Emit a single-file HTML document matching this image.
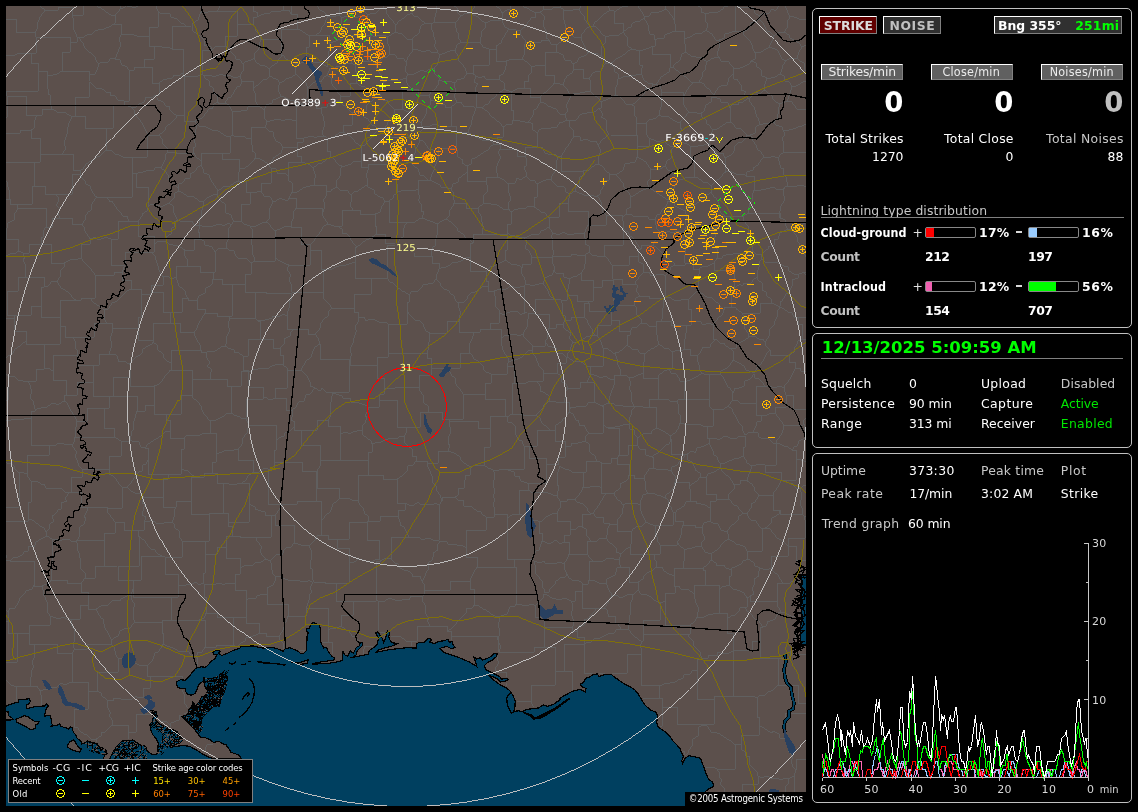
<!DOCTYPE html>
<html lang="en"><head><meta charset="utf-8"><title>Lightning Detector</title>
<style>
html,body{margin:0;padding:0;background:#000;}
body{width:1138px;height:812px;overflow:hidden;position:relative;font-family:"DejaVu Sans","Liberation Sans",sans-serif;}
.map{position:absolute;left:6px;top:6px;display:block}
.t{position:absolute;white-space:nowrap;line-height:1}
.b{font-weight:700}
.c{font-family:"DejaVu Sans Condensed","Liberation Sans",sans-serif}
.n{font-family:"DejaVu Sans","Liberation Sans",sans-serif}
.p{display:inline-block;width:0;height:0}
.box{position:absolute;border:1px solid #c0c0c0;border-radius:5px;background:#000}
.btn{position:absolute;border:1px solid;border-color:#fff #808080 #808080 #fff;}
.rule{position:absolute;height:1px;background:#808080}
.dash{position:absolute;width:6px;height:2px;background:#d8d8d8}
.bar{position:absolute;width:49px;height:9px;border:1px solid #888;border-radius:2px;background:#000}
.bar i{display:block;height:9px}
.legend{position:absolute;left:8px;top:759px;width:243px;height:42px;border:1px solid #808080;background:#000}
.lsym{position:absolute;left:9px;top:759px}
.copy{position:absolute;left:685px;top:792px;width:121px;height:14px;background:#000}
.chart{position:absolute;left:815px;top:540px}
</style></head>
<body>
<svg class="map" width="800" height="800" viewBox="6 6 800 800" shape-rendering="crispEdges">
<rect x="6" y="6" width="800" height="800" fill="#5c504c"/>
<path d="M742,794 L756,794 L756,806 M742,794 L742,784 L758,784 L758,776 M779,806 L779,805 L780,802 L782,797 L784,796 L786,791 L785,787 L789,783 L788,779 M758,776 L761,778 L768,776 L770,778 L775,778 L782,780 L784,778 L788,779 M806,806 L794,806 L794,776 M806,759 L796,759 L796,770 M796,770 L794,776 M794,776 L788,779 M785,738 L788,743 L788,747 L788,751 L790,753 L793,757 L791,761 L793,767 L796,770 M785,738 L780,738 L779,734 L773,731 L772,733 L768,731 L762,727 L759,726 M758,776 L757,772 L754,769 L751,766 L749,763 L750,756 L746,756 L745,752 L741,749 L741,744 M759,726 L759,735 L741,735 L741,744 M123,157 L147,157 L147,133 M123,157 L132,157 L132,173 M132,173 L136,174 M136,174 L140,172 L143,172 L149,170 L153,171 L156,167 L161,168 M159,135 L147,135 L147,133 M159,135 L162,139 L163,144 L167,148 L168,152 M168,152 L165,155 L165,160 L163,164 L161,168 M742,794 L725,794 L725,793 M710,806 L713,804 L715,801 L719,800 L722,795 L725,793 M735,745 L735,744 L741,744 M735,745 L735,769 L717,769 M725,793 L724,788 L720,784 L722,780 L719,777 L720,774 L717,769 M735,745 L732,742 L729,740 L724,737 L720,734 L717,733 L711,732 L708,727 L705,725 L702,725 M685,756 L688,753 L689,750 L692,746 L692,741 L693,739 L698,736 L698,733 L699,727 L702,725 M717,769 L712,767 L707,767 L705,767 M430,626 L427,620 L429,619 L426,614 L425,609 L425,605 L422,600 L422,597 M430,626 L417,626 L417,641 L411,641 M411,641 L406,641 L401,637 L399,636 L394,637 L391,636 M385,633 L384,632 M422,597 L416,596 L411,596 L409,600 L406,599 L402,600 L397,601 L390,598 L386,600 L383,602 L378,601 M384,632 L380,632 M378,630 L378,601 M440,541 L446,541 L449,545 L455,544 L458,546 L462,545 L466,548 M440,541 L437,546 L438,550 L433,553 L433,557 L432,560 L428,563 L429,568 L427,571 L424,578 L422,581 M422,581 L425,586 L424,590 M424,590 L450,590 L450,581 L470,581 M466,548 L466,557 L477,557 L477,567 M477,567 L474,572 L471,578 L470,581 M422,597 L424,594 L424,590 M391,559 L385,558 L381,561 M391,559 L395,563 L398,564 L400,568 L404,570 L407,570 L412,574 L413,577 L420,576 L422,581 M381,561 L376,561 L376,599 M378,601 L376,599 M757,698 L757,717 L759,717 L759,726 M757,698 L753,696 M702,724 L714,724 L714,699 M753,696 L714,696 L714,699 M659,698 L659,685 L662,685 M659,698 L662,698 L662,707 M662,707 L677,707 L677,724 L702,724 M714,699 L697,699 L697,670 M662,685 L664,684 L670,683 L675,682 L678,680 L683,678 L684,675 L690,674 L693,670 L697,670 M733,651 L729,653 L723,654 L718,652 L717,656 L709,655 L708,658 L702,659 M733,651 L733,696 L753,696 M697,670 L697,659 L702,659 M430,626 L447,626 L447,631 M470,581 L470,589 L474,589 L474,605 M447,631 L451,629 L454,626 L458,621 L459,620 L462,617 L466,613 L466,609 L472,608 L474,605 M504,567 L516,567 L516,604 M504,567 L504,567 L477,567 M516,604 L515,606 L510,607 L507,614 L501,616 L499,617 M474,605 L479,606 L484,610 L485,609 L491,614 L495,616 L499,617 M81,258 L78,259 L72,259 L68,261 L64,263 M81,258 L81,244 L90,244 L90,239 M64,263 L51,263 L51,244 L41,244 M60,218 L72,218 L72,224 L82,224 M60,218 L52,218 L52,227 L46,227 M46,227 L43,231 L44,236 L41,238 L41,244 M90,239 L87,234 L84,230 L84,227 L82,224 M106,150 L106,128 L101,128 M106,150 L102,154 L100,156 L97,157 L95,159 L89,162 L86,164 L83,169 L81,170 M72,117 L69,123 L68,127 L67,129 L67,134 L66,137 L64,143 L65,146 L65,150 L62,154 M72,117 L75,116 M75,116 L85,116 L85,128 L101,128 M62,154 L73,154 L73,170 L81,170 M60,218 L58,213 L60,209 L56,205 L58,202 L58,197 L56,194 M82,224 L85,220 L85,217 L88,212 L91,210 L92,204 L95,199 L97,197 M97,197 L95,196 L92,191 L90,186 L86,184 L85,181 L82,178 L80,174 M56,194 L72,194 L72,174 L80,174 M123,157 L117,154 L116,155 L112,151 L106,150 M132,173 L132,197 L107,197 M97,197 L102,197 L107,197 M80,174 L81,170 M168,152 L176,152 L176,153 L194,153 M161,168 L165,171 L168,175 L168,178 L170,182 L175,185 L178,188 M194,153 L196,157 L201,161 M201,161 L201,165 M201,165 L198,167 L194,172 L190,174 L190,178 L186,178 L182,183 L179,184 L178,188 M136,174 L136,187 L148,187 L148,207 M169,203 L163,206 L160,206 L155,205 L151,204 L148,207 M169,203 L174,198 L174,194 L178,191 M178,191 L178,188 M33,728 L34,726 M6,558 L6,556 L6,555 M684,755 L684,751 L682,751 M662,707 L662,726 L660,726 M439,540 L439,527 L439,527 L439,505 M439,540 L435,541 L429,538 L426,538 L423,540 L418,537 L413,537 L409,537 M439,505 L435,503 L432,505 L426,504 L420,504 L418,502 L414,505 L409,505 L405,503 M409,537 L407,533 L404,527 L400,525 L400,522 L398,516 M405,503 L405,510 L398,510 L398,516 M391,559 L391,537 L409,537 M485,389 L485,399 L505,399 L505,416 M485,389 L485,394 L463,394 M505,416 L490,416 L490,428 M449,419 L463,419 L463,394 M449,419 L450,421 M490,428 L478,428 L478,421 L450,421 M367,522 L367,540 L379,540 L379,559 M367,522 L349,522 L349,539 L337,539 M379,559 L376,559 L372,562 L366,561 L363,560 L359,559 L354,562 L349,562 M337,539 L337,548 L349,548 L349,562 M381,561 L379,559 M368,521 L380,521 L380,516 L398,516 M368,521 L367,522 M384,632 L384,638 M373,646 L365,646 M360,641 L358,640 L354,636 L352,636 L349,631 L346,630 L341,626 M376,599 L376,601 L353,601 M353,601 L353,615 L341,615 L341,626 M349,562 L349,583 L336,583 M353,601 L336,601 L336,583 M486,517 L483,515 L481,512 L477,511 L474,509 L471,506 L464,506 L463,500 L458,500 L455,497 M486,517 L494,517 L494,514 M494,514 L495,509 L493,505 L495,499 L493,496 L494,494 L494,488 L493,485 L494,480 L495,473 L493,470 M455,497 L458,495 L458,489 L464,488 L465,480 L465,476 L470,475 L470,469 L473,466 M473,466 L473,465 L484,465 M493,470 L488,468 L484,465 M442,501 L439,505 M442,501 L442,497 L455,497 M466,548 L466,530 L486,530 L486,517 M504,567 L514,567 L514,559 M514,559 L507,559 L507,518 M507,518 L507,514 L494,514 M427,463 L427,465 L429,469 L432,476 L432,479 L433,483 L437,487 L436,489 L439,494 L440,495 L442,501 M427,463 L438,463 L438,451 L448,451 M448,451 L451,452 L456,454 L460,457 L461,460 L464,463 L469,466 L473,466 M490,428 L490,447 L484,447 L484,465 M448,451 L450,445 L448,444 L448,437 L450,434 L451,429 L449,425 L450,421 M505,416 L507,417 M505,469 L499,470 L493,470 M505,469 L524,469 L524,446 M507,417 L508,422 L512,423 L515,426 L515,433 L516,435 L519,440 L522,441 L524,446 M516,604 L519,604 L525,606 L532,604 L535,606 M535,606 L535,617 L544,617 L544,625 M499,617 L499,622 L498,627 L500,629 L499,636 L497,638 L500,645 L501,646 L499,652 M544,625 L544,647 L534,647 M499,652 L534,652 L534,647 M544,625 L544,627 L572,627 M556,671 L564,671 L564,644 L584,644 M584,644 L584,637 L577,637 L577,631 M577,631 L572,631 L572,627 M534,647 L555,647 L555,671 M659,698 L643,698 M662,685 L641,685 L641,654 M612,673 L627,673 L627,654 L641,654 M605,673 L599,673 M593,673 L584,673 L584,644 M556,671 L572,671 L572,690 M684,39 L684,31 L675,31 M684,39 L690,37 L693,35 L695,34 L702,33 L706,30 M675,31 L675,24 L674,20 M706,30 L708,25 L705,20 L706,14 M706,14 L701,12 L701,8 L698,6 M674,6 L674,20 M644,16 L644,18 M644,16 L649,16 L652,12 L656,13 L662,11 L665,9 M675,31 L672,32 L665,35 L664,38 L658,38 L655,40 M644,18 L647,23 L649,26 L648,28 L650,34 L654,35 L655,40 M665,9 L668,11 L672,16 L674,20 M623,32 L628,28 L631,27 L632,24 L636,21 L640,21 L644,18 M623,32 L627,37 L627,40 L628,46 L632,49 M655,40 L655,46 L652,46 M652,46 L649,48 L643,50 L639,51 M632,49 L639,51 M496,6 L497,7 L500,9 L502,13 M511,6 L510,9 L507,10 L502,13 M560,6 L561,8 M543,6 L543,10 M543,10 L549,9 L552,9 L554,7 L561,8 M536,13 L532,11 L527,8 L524,7 L523,6 M536,13 L540,12 M540,12 L543,10 M806,272 L804,272 M806,275 L804,272 M717,258 L722,258 L723,256 L729,254 L733,254 L738,253 L740,254 L745,253 L748,253 L753,251 M717,258 L718,253 L717,249 L714,244 L714,239 L716,235 L714,230 M714,230 L716,228 L720,222 L723,217 L725,216 M725,216 L733,216 L733,216 L744,216 M753,251 L752,245 L752,243 L751,240 L748,233 L749,229 L748,226 L743,220 L744,216 M169,203 L173,206 L173,211 L176,217 L178,220 M178,220 L181,222 L185,221 L192,221 L194,225 L200,225 M178,191 L181,192 L187,196 L192,196 L197,199 L199,201 L203,202 M200,225 L199,219 L201,217 L201,212 L203,207 L203,202 M201,165 L203,169 L204,173 L209,175 L210,178 L214,185 L215,186 L218,191 M218,191 L217,194 M203,202 L207,198 L213,195 L217,194 M427,463 L427,461 L416,461 M405,503 L397,503 L397,479 M416,461 L413,465 L408,466 L407,471 L403,475 L400,477 L397,479 M154,405 L154,414 L166,414 M154,405 L154,386 L154,386 M166,414 L181,414 L181,395 L192,395 M192,395 L192,393 M192,393 L192,370 L170,370 M170,370 L169,372 L165,376 L162,381 L159,384 L154,386 M6,318 L14,318 M6,358 L8,356 L13,353 L15,349 L20,346 L23,343 L26,341 M14,318 L14,331 L26,331 L26,341 M306,608 L308,603 L309,600 L309,595 L312,592 L310,587 L313,583 M306,608 L328,608 L328,630 M328,630 L330,629 L336,628 L341,626 M336,583 L325,583 L325,582 L314,582 M6,255 L8,255 L12,253 L15,254 L18,251 M6,231 L6,239 L18,239 L18,251 M18,208 L17,210 L14,215 L14,220 L8,223 L7,228 L6,231 M18,208 L46,208 L46,227 M23,253 L18,251 M23,253 L29,253 L29,244 L41,244 M16,701 L16,687 M40,691 L37,686 L31,686 M40,691 L41,695 L41,702 L41,704 L41,705 M16,687 L21,686 L24,687 L31,686 M16,687 L11,685 L7,681 L6,680 M150,714 L150,712 M150,709 L150,697 L143,697 M158,719 L158,719 L161,721 L166,721 L170,725 M143,697 L143,688 L150,688 L150,676 M187,712 L184,714 M182,715 L179,715 L179,720 L171,723 L170,725 M188,708 L185,704 L184,697 L184,694 L182,690 M150,676 L182,676 L182,678 M46,532 L44,528 L40,526 L35,522 L34,521 L29,519 L28,516 M46,532 L49,529 L50,524 L54,521 L52,516 L55,514 L59,509 L61,509 L61,503 L67,501 L65,498 L69,493 M28,516 L28,502 L31,502 L31,481 M69,493 L65,492 L61,488 L56,489 L53,488 L46,488 L44,484 L41,484 L37,481 L31,481 M411,641 L412,646 M365,646 L363,651 L363,653 L363,654 M303,652 L303,650 L299,650 M332,654 L332,642 L322,642 M305,650 L299,650 M328,630 L328,642 L322,642 M785,738 L785,713 L806,713 M757,698 L759,696 L765,695 L768,692 L771,691 L774,689 L778,685 M778,685 L798,685 L798,703 L806,703 M806,485 L803,486 L800,488 M806,516 L804,516 M804,516 L802,514 M802,514 L803,509 L801,506 L800,501 L802,498 L801,492 L800,488 M762,529 L760,527 L756,521 L751,520 L749,518 L747,513 M762,529 L765,528 M765,528 L768,526 L771,523 L772,518 L779,514 L780,510 M747,513 L751,508 L751,504 L755,502 L758,497 L759,495 M759,495 L773,495 L773,493 M780,510 L773,510 L773,493 M727,619 L727,633 L733,633 L733,650 M727,619 L731,616 L735,615 L739,611 L740,608 L745,607 M745,607 L747,611 L750,613 L755,619 L758,620 L761,624 L763,627 M733,650 L752,650 L752,641 L760,641 M760,641 L760,627 L763,627 M778,685 L778,658 L784,658 M760,641 L760,658 L784,658 M806,654 L790,654 M784,658 L790,658 L790,654 M653,525 L673,525 L673,512 M653,525 L650,524 L646,522 M646,522 L643,516 L642,514 L641,511 L640,505 M673,512 L671,507 L668,505 L668,500 L665,498 M665,498 L661,496 L657,495 L653,493 L648,493 M640,505 L641,500 L643,495 L648,493 M623,505 L627,503 L630,503 L635,503 L640,505 M623,505 L623,508 L622,514 L618,519 L617,521 M632,531 L617,531 L617,521 M632,531 L633,529 L638,526 L642,526 L646,522 M485,389 L485,383 L491,383 L491,374 M463,394 L460,389 L458,387 L455,383 L455,378 L452,376 L449,370 L447,368 M447,368 L460,368 L460,353 L470,353 M491,374 L486,372 L483,369 L483,366 L478,361 L474,359 L472,355 L470,353 M459,321 L447,321 L447,333 L430,333 M459,321 L459,332 L474,332 M430,333 L429,337 L429,342 L428,344 L428,350 L427,354 L427,358 M447,368 L431,368 L431,365 M427,358 L431,358 L431,365 M470,353 L469,350 L470,343 L471,341 L473,336 L474,332 M806,317 L798,317 M799,274 L798,278 L792,280 L792,286 L791,288 L789,292 L786,294 L782,301 L780,302 L780,306 M799,274 L804,272 M798,317 L794,317 L792,313 L788,312 L782,308 L780,307 M806,461 L804,461 L801,460 L796,459 M800,488 L796,488 L792,483 L789,483 L783,480 M796,459 L796,480 L783,480 M802,514 L780,514 L780,510 M773,493 L776,490 L780,483 L781,481 M781,481 L783,480 M798,317 L798,324 L802,324 L802,339 M802,339 L806,339 M675,482 L675,476 L671,471 M675,482 L674,487 L671,491 L666,495 L665,498 M671,471 L665,469 L661,469 L658,470 L653,468 M648,493 L646,490 L645,481 L644,478 M644,478 L645,475 L649,469 L653,468 M623,505 L621,502 L617,499 L614,494 M614,494 L615,492 L620,488 L620,484 L626,481 L628,479 L629,475 M644,478 L634,478 L634,475 L629,475 M671,439 L671,454 L685,454 M671,439 L669,444 L666,445 L661,450 L658,453 L654,455 L652,457 M685,454 L684,457 L680,461 L677,465 L672,467 L671,471 M652,457 L653,457 L653,468 M557,496 L558,491 L559,486 L557,485 L557,479 L557,475 L559,469 L559,466 M557,496 L553,495 L548,493 L543,492 L541,492 L539,493 L531,492 L528,490 M528,490 L528,483 L527,483 M527,483 L546,483 L546,464 M546,464 L549,465 L553,464 L558,465 M507,518 L512,515 L515,514 L519,514 M519,514 L519,490 L528,490 M505,469 L508,470 L514,472 L515,476 L519,476 L521,481 L527,483 M524,446 L529,446 M529,446 L529,458 L546,458 L546,464 M514,559 L514,559 L532,559 M519,514 L522,515 L526,519 L529,520 L536,520 L539,522 M532,559 L532,558 L536,551 L539,550 L541,544 L542,541 M539,522 L539,533 L542,533 L542,541 M560,501 L557,496 M560,501 L561,506 L559,509 L557,513 M539,522 L542,521 L546,517 L550,515 L552,514 L557,513 M688,634 L688,636 L694,642 L693,645 L697,649 L700,652 L700,653 L702,659 M688,634 L690,634 L690,625 M727,619 L727,613 L716,613 M716,613 L713,614 L708,615 L704,617 L697,617 M690,625 L695,621 L697,617 M716,613 L719,613 L719,590 M694,594 L695,599 L696,603 L698,607 L698,612 L697,617 M694,594 L694,585 L705,585 M705,585 L719,585 L719,590 M747,598 L750,596 M747,598 L744,593 L740,591 L737,590 L733,589 L729,585 M760,568 L758,574 L759,576 L754,579 L754,585 L752,588 L754,594 L750,596 M760,568 L755,566 L754,563 L748,559 M748,559 L743,561 L741,564 L737,566 L732,568 L731,570 M731,570 L731,576 L729,576 L729,585 M747,598 L747,607 L745,607 M729,585 L722,587 L719,590 M688,634 L643,634 L643,641 M641,654 L642,650 L640,645 L642,642 M643,641 L642,642 M660,545 L660,554 L654,554 M660,545 L657,540 L657,537 L655,532 L656,527 L653,525 M632,531 L631,535 L632,541 L630,547 M654,554 L630,554 L630,547 M606,538 L608,532 L607,530 L610,524 M606,538 L610,543 L612,544 L616,548 L616,552 L621,554 M617,521 L617,524 L610,524 M630,547 L626,549 L621,554 M535,606 L538,603 L543,598 L544,594 M572,627 L574,624 L573,619 L571,613 L572,611 L572,603 L571,601 M571,601 L565,598 L562,599 L556,599 L552,598 L547,595 L544,594 M564,564 L560,562 L557,563 L553,564 L545,563 L544,561 L540,563 L534,561 M564,564 L565,570 L567,574 M534,561 L535,565 L535,569 L536,574 L538,576 L542,581 L542,587 L544,589 L544,593 M567,574 L565,577 L560,578 L555,582 L555,584 L550,589 L549,592 L544,593 M532,559 L534,561 M577,631 L579,626 L584,625 L584,620 L589,618 L590,616 L594,612 L597,608 M571,601 L575,601 L575,591 L582,591 M597,608 L582,608 L582,591 M567,574 L569,578 L574,581 L578,580 L583,584 M583,584 L582,591 M531,702 L531,685 L555,685 L555,671 M531,702 L533,706 L534,707 M733,74 L734,68 M733,74 L734,79 L737,79 L741,85 L741,90 L746,92 L744,94 L748,98 M750,98 L748,98 M750,98 L753,94 L755,92 L760,94 L764,90 M751,61 L749,64 L743,67 L737,69 L734,68 M751,61 L756,63 L756,66 L761,70 L762,76 L767,78 M764,90 L764,88 L765,84 L767,78 M750,98 L749,101 L754,107 L755,110 L757,117 L758,118 L760,124 M760,124 L763,124 L769,123 L774,122 M764,90 L767,92 L772,96 L772,98 L776,102 L780,104 M780,104 L779,107 L778,114 L777,119 L774,122 M711,192 L709,194 L702,198 L699,202 L697,203 L693,206 L688,207 L685,211 M711,192 L714,197 L716,198 L719,204 L719,209 L721,213 L725,216 M714,230 L709,228 L706,231 L702,230 L697,227 L692,226 L687,226 M685,211 L687,216 L685,223 L687,226 M806,19 L802,19 L799,19 L792,16 L790,17 M806,45 L802,47 M802,47 L800,44 L796,41 L790,38 L789,35 L784,32 M784,32 L787,28 L787,22 L790,17 M790,17 L789,15 L786,8 L785,6 M454,6 L457,8 L458,13 L461,16 M437,6 L436,10 L436,13 L435,17 L434,22 M434,22 L456,22 L456,22 M461,16 L456,22 M470,13 L474,8 L475,6 M470,13 L464,14 L461,16 M412,13 L414,16 L417,16 L421,20 L425,23 M412,13 L412,9 L412,6 M434,22 L431,24 M431,24 L425,23 M536,13 L535,18 L532,17 L528,22 L526,26 L523,28 L520,31 M540,12 L544,16 L544,20 L543,24 L545,29 L547,32 L546,38 L549,40 M549,40 L541,40 L541,42 L526,42 M520,31 L520,34 L525,40 L526,42 M385,202 L382,206 L380,212 L375,214 M385,202 L383,198 L380,197 L375,194 L374,190 L368,187 L367,185 M375,214 L360,214 L360,210 L353,210 M367,185 L362,188 L358,191 L355,191 L351,195 M351,195 L352,199 L350,205 L353,210 M337,226 L342,229 L342,233 L346,233 L350,237 L351,240 L355,245 L357,247 M337,226 L342,226 L342,210 L353,210 M357,247 L362,243 L366,240 L369,239 L371,238 L376,234 M376,234 L376,226 L375,226 L375,214 M368,167 L368,170 L366,175 L368,181 L367,185 M368,167 L361,167 L361,162 M337,187 L336,181 L339,178 L341,174 L340,169 L342,166 M337,187 L340,190 L347,190 L351,195 M361,162 L354,161 L351,164 L345,166 L342,166 M407,310 L407,324 L388,324 M407,310 L409,314 L413,318 L415,320 L420,321 L423,324 L425,329 L426,331 L430,333 M427,358 L427,353 L388,353 M388,324 L388,324 L388,353 M337,187 L331,190 L331,191 L326,192 M337,226 L334,226 L327,224 M326,192 L327,195 L323,200 L325,204 L324,209 L322,214 M327,224 L327,222 L324,218 L322,214 M238,181 L246,181 L246,192 L250,192 M238,181 L238,172 L239,172 M239,172 L240,168 L245,168 L249,165 L253,161 L255,158 M250,192 L257,192 L261,191 M261,191 L261,183 L271,183 L271,168 M255,158 L260,159 L264,161 L269,165 M271,168 L269,165 M218,191 L223,187 L225,186 L230,186 L234,183 L238,181 M234,221 L232,218 L231,215 L226,213 L225,206 L225,204 L221,201 L217,195 L217,194 M234,221 L234,221 L241,221 M241,221 L241,204 L250,204 L250,192 M222,153 L201,153 L201,161 M222,153 L222,159 L239,159 L239,172 M288,176 L288,180 L292,183 L293,189 L292,192 M288,176 L288,162 L301,162 M292,192 L294,193 L299,191 L303,188 L306,187 L313,185 L315,185 M315,185 L314,179 L316,177 L314,171 L313,168 M301,162 L305,163 L310,165 L313,168 M289,198 L292,192 M289,198 L287,201 L280,198 L276,201 L273,201 M273,201 L270,197 L264,196 L261,191 M271,168 L276,169 L278,174 L285,173 L288,176 M326,192 L326,185 L315,185 M289,198 L296,198 L296,208 M322,214 L322,208 L296,208 M342,166 L339,165 L333,158 L330,157 M330,157 L327,159 L322,163 L319,163 L317,165 L313,168 M241,221 L244,224 L250,226 M273,201 L272,204 L269,210 L269,213 L269,219 L266,222 M250,226 L254,227 L260,224 L264,222 L266,222 M449,419 L442,419 L442,412 L428,412 M431,365 L431,375 L419,375 L419,387 M428,412 L428,406 L424,403 L423,400 L424,397 L419,389 L419,387 M407,310 L407,302 L409,302 L409,295 M409,295 L405,292 L402,291 L396,286 L392,282 L390,282 L387,278 M387,278 L381,278 L381,278 L371,278 M371,278 L371,294 L354,294 L354,312 M388,324 L385,322 L381,323 L375,320 L369,319 L366,321 L364,317 L358,317 M354,312 L358,312 L358,317 M275,515 L275,525 L294,525 L294,543 M275,515 L279,510 L281,506 L284,504 M284,504 L297,504 L297,501 M297,501 L321,501 L321,521 M294,543 L301,545 L303,545 L309,546 M309,546 L311,544 L315,540 L317,536 L322,535 M322,535 L321,535 L321,521 M337,539 L328,539 L328,535 L322,535 M314,582 L312,578 L312,573 L312,569 L310,568 L310,563 L311,560 L312,554 L311,550 L309,546 M17,204 L10,204 L10,199 M17,204 L32,204 L32,186 L39,186 M10,199 L9,194 L10,192 L8,187 L7,182 L6,181 M39,186 L34,186 L34,162 M34,162 L6,162 M18,208 L17,204 M6,199 L10,199 M56,194 L45,194 L45,186 L39,186 M62,154 L40,154 L40,155 M40,155 L40,162 L34,162 M72,117 L69,115 L64,112 L59,113 L54,110 L51,109 M40,155 L40,138 L31,138 L31,130 M31,130 L34,128 L34,123 L36,117 L38,115 M51,109 L42,109 L42,115 L38,115 M93,382 L77,382 L77,395 L66,395 M93,382 L93,365 L92,365 M92,365 L77,365 L77,355 M77,355 L53,355 L53,371 M53,371 L53,380 L66,380 L66,395 M73,337 L94,337 L94,323 L107,323 M73,337 L75,341 L75,347 L77,350 L77,355 M109,354 L99,354 L99,365 L92,365 M109,354 L111,348 L112,344 L111,341 L110,338 L112,333 L112,328 M112,328 L112,323 L107,323 M73,337 L65,337 L65,326 L60,326 M60,326 L60,344 L36,344 M36,344 L44,344 L44,369 M44,369 L48,368 L53,371 M170,370 L171,370 L171,363 M154,386 L130,386 L130,377 M130,377 L130,364 L129,364 M129,364 L131,362 L136,357 L140,355 L142,353 L143,349 L146,347 L152,344 L153,342 M171,363 L167,361 L163,357 L163,354 L158,350 L157,345 L153,342 M7,291 L18,291 L18,277 L26,277 M7,291 L7,315 L15,315 M15,315 L31,315 L31,306 L41,306 M26,277 L44,277 L44,287 M44,287 L41,287 L41,306 M23,253 L25,258 L23,259 L25,264 L25,268 L25,272 L26,277 M14,318 L15,315 M60,326 L60,317 L41,317 L41,306 M36,344 L26,344 L26,341 M57,281 L60,277 L61,270 L64,267 L64,263 M57,281 L52,281 L48,286 L44,287 M57,281 L58,283 L61,288 L68,292 L69,293 L74,299 L76,300 M76,300 L60,300 L60,326 M154,405 L145,405 L145,411 L137,411 M166,414 L166,420 L170,420 L170,431 M170,431 L165,432 L163,434 L158,438 L154,440 L151,442 L147,445 L145,448 M145,448 L141,447 L139,442 L132,441 L130,440 M130,440 L131,436 L131,433 L134,428 L133,423 L135,418 L135,417 L137,411 M130,377 L113,377 L113,396 M137,411 L137,396 L113,396 M109,354 L114,354 L117,356 L119,362 L124,361 L129,364 M93,382 L93,396 L109,396 M113,396 L109,396 M203,433 L200,435 L193,435 L187,435 L184,438 M203,433 L216,433 L216,453 M184,438 L184,449 L181,449 L181,469 M216,453 L216,462 L212,462 L212,473 M181,469 L184,470 L188,471 L192,475 L196,477 M196,477 L204,477 L204,473 L212,473 M210,421 L206,416 L204,414 L201,408 L201,406 L198,402 L193,398 L192,395 M210,421 L210,433 L203,433 M170,431 L170,438 L184,438 M168,474 L181,474 L181,469 M168,474 L148,474 L148,460 M148,460 L148,448 L145,448 M238,449 L238,460 L253,460 L253,472 M238,449 L234,450 L227,450 L224,451 L219,453 L216,453 M242,483 L246,480 L248,476 L253,472 M242,483 L237,484 L231,485 L229,484 L223,483 M223,483 L217,483 L217,473 L212,473 M168,474 L168,479 L163,479 L163,492 M163,492 L163,507 L176,507 M196,477 L191,477 L191,501 M191,501 L176,501 L176,507 M148,460 L146,464 L143,465 L142,471 L139,472 L134,478 L133,480 L129,485 L127,487 M163,492 L163,497 L144,497 M144,497 L141,494 L135,493 L131,491 L127,487 M88,507 L107,507 L107,508 M88,507 L87,511 L84,517 L86,518 L84,524 L80,527 L79,533 L79,537 L77,540 M77,540 L104,540 L104,542 M104,542 L104,533 L115,533 L115,522 M107,508 L108,513 L113,519 L115,522 M35,32 L37,29 L38,22 L40,17 L43,13 L45,10 M35,32 L16,32 L16,19 L6,19 M45,10 L42,8 L40,6 M6,55 L11,55 L15,55 L18,53 L23,54 L27,53 L31,53 M31,53 L36,53 L36,37 M36,37 L35,32 M200,225 L204,227 L209,226 L213,226 L219,224 L224,226 L228,223 L231,225 M200,225 L198,232 L200,233 L199,239 M199,239 L204,241 L205,245 L209,246 L212,247 L215,252 M231,225 L229,228 L228,236 L229,238 L227,242 L226,248 M226,248 L219,248 L215,252 M234,221 L231,225 M251,263 L247,259 L246,258 L238,258 L236,256 L234,251 L229,250 L226,248 M251,263 L254,261 M250,226 L252,229 L253,236 L251,240 L252,245 L253,247 L252,252 L254,257 L254,261 M245,280 L245,274 L251,274 L251,263 M245,280 L245,284 L232,284 M232,284 L222,284 L222,279 L213,279 M215,252 L215,272 L210,272 M210,272 L213,272 L213,279 M90,239 L95,237 L98,240 L104,238 L105,237 L111,239 M107,197 L110,202 L112,201 L116,207 L117,209 L119,211 L124,217 L127,216 L129,221 M111,239 L118,239 L118,221 L129,221 M148,207 L147,211 L142,214 L142,216 L138,221 M129,221 L138,221 L138,221 M122,272 L122,280 L131,280 L131,289 M122,272 L114,272 L114,275 L95,275 M131,289 L127,291 L123,295 L121,297 L117,301 L112,303 L112,303 L108,309 L104,310 M95,275 L95,298 L90,298 M90,298 L93,302 L97,305 L101,307 L104,310 M81,258 L85,263 L86,264 L90,268 L94,273 L95,275 M125,265 L111,265 L111,239 M125,265 L122,272 M76,300 L81,300 L81,298 L90,298 M107,323 L105,320 L104,316 L104,310 M166,242 L159,241 L154,244 M166,242 L169,244 L173,245 L176,245 L180,247 L185,250 M185,250 L184,255 L187,259 L187,264 L187,266 M154,244 L154,252 L151,252 M151,252 L155,256 L156,260 L158,266 L159,270 L161,273 L163,277 M187,266 L176,266 L176,277 M163,277 L167,276 L172,279 L176,277 M178,220 L174,222 L175,226 L171,229 L172,233 L166,237 L166,242 M138,221 L138,236 L154,236 L154,244 M199,239 L194,239 L194,250 L185,250 M210,272 L200,272 L200,266 L187,266 M125,265 L125,252 L151,252 M251,138 L251,144 L253,146 L252,151 L255,153 L255,158 M251,138 L251,127 L265,127 M269,165 L273,159 L273,158 L279,154 L281,153 L283,147 M265,127 L269,131 L273,132 L273,135 L276,141 L280,143 L283,147 M301,162 L301,156 L297,156 L297,147 M283,147 L288,147 L293,148 L297,147 M383,130 L387,125 L388,122 L392,116 L394,114 L395,110 M383,130 L390,130 L390,137 M395,110 L402,109 M422,126 L422,130 L418,135 M422,126 L421,123 M390,137 L409,137 L409,135 L418,135 M421,123 L417,119 L414,117 L411,112 L406,111 L402,109 M422,126 L424,127 L430,126 L434,124 L439,126 L443,127 L447,126 M447,126 L451,126 L451,107 M451,107 L445,107 L445,105 L441,104 L436,102 L431,100 M421,123 L422,121 L426,114 L426,112 L426,109 L430,105 L431,100 M378,130 L375,126 L372,125 L368,119 L364,117 L362,113 M378,130 L373,135 L372,137 L367,142 L365,145 L361,146 M361,146 L356,143 L354,140 L351,137 L348,135 L343,132 M343,132 L343,125 L352,125 L352,113 M362,113 L357,112 L352,113 M383,130 L378,130 M395,110 L393,108 L389,104 L387,100 L383,100 L380,94 L378,92 M377,93 L374,98 L374,99 L368,104 L367,105 L366,111 L362,113 M361,162 L362,157 L361,150 L361,146 M330,157 L330,151 L327,151 L327,138 M327,138 L330,138 L333,137 L341,132 L343,132 M356,83 L362,87 L364,86 L369,91 L371,92 L377,93 M356,83 L350,83 L350,96 L341,96 M341,96 L340,101 M340,101 L343,105 L345,106 L349,110 L352,113 M213,744 L213,744 L208,744 L205,748 L205,751 L203,752 M170,725 L170,727 M128,739 L128,732 M128,732 L136,732 L136,714 L150,714 M128,732 L128,725 L112,725 M143,697 L137,697 L136,696 L130,700 L127,699 L121,699 L119,698 L114,698 L113,701 L107,700 M112,725 L112,720 L109,715 L111,713 L109,710 L107,705 L107,700 M96,742 L96,739 M112,725 L109,728 L105,732 L101,733 L101,736 L96,739 M74,727 L78,728 L80,731 L84,734 L87,735 L91,739 L96,739 M118,658 L116,655 L114,647 L111,644 M118,658 L118,672 L97,672 L97,691 M111,644 L87,644 L87,649 L75,649 M72,682 L72,673 L72,673 L72,653 M72,682 L88,682 L88,692 M72,653 L75,649 M88,692 L93,691 L97,691 M147,666 L147,676 L150,676 M147,666 L143,665 L139,665 L134,663 L131,663 L127,660 L123,659 L118,658 M107,700 L102,696 L101,693 L97,691 M40,691 L45,689 L49,689 L53,687 L56,688 L61,683 L64,685 L69,683 L72,682 M31,686 L30,680 L31,677 L31,672 L33,668 L33,665 L32,662 L34,658 L35,653 L34,649 L34,644 M34,644 L57,644 L57,653 L72,653 M74,727 L74,709 L88,709 L88,692 M77,540 L76,541 M76,541 L78,544 L77,548 L79,553 L80,558 L80,561 L80,564 L81,569 L86,574 L85,578 M104,542 L104,566 L117,566 M117,566 L95,566 L95,578 L85,578 M34,644 L29,644 L29,637 M29,637 L29,633 L17,633 M6,662 L17,662 L17,633 M6,507 L19,507 L19,473 M19,473 L15,469 L14,466 L11,463 L7,463 L6,462 M6,521 L28,521 L28,516 M31,481 L28,477 L27,474 M19,473 L21,472 L27,474 M46,532 L47,536 M6,560 L10,561 M10,561 L14,557 L16,558 L22,555 L25,551 L28,551 L29,546 L34,547 L36,542 L39,540 L43,538 L47,536 M88,507 L81,507 L81,492 L71,492 M71,492 L69,493 M76,541 L72,542 L69,539 L64,539 L59,541 L57,539 L52,539 M47,536 L52,539 M765,528 L770,529 L773,533 L775,535 L777,538 L781,540 L785,543 L788,546 M804,516 L805,520 L805,525 M788,546 L788,538 L805,538 L805,525 M750,596 L750,601 L777,601 M763,627 L766,626 L768,621 L770,621 L775,619 L778,613 L781,612 M777,601 L777,605 L779,608 L781,612 M507,417 L512,414 M491,374 L507,374 L507,366 M507,366 L514,366 L514,383 L526,383 M512,414 L512,383 L526,383 M436,279 L441,284 L440,285 L444,289 L449,291 L451,294 L454,296 L456,301 L458,303 M436,279 L437,274 L439,269 M439,269 L442,267 L446,267 L450,265 L453,262 L456,263 L463,260 L467,257 L470,257 M458,303 L464,302 L467,299 L467,297 L471,293 L475,292 L478,290 L483,286 L488,286 M470,257 L470,271 L486,271 M488,286 L488,281 L486,281 L486,271 M409,295 L411,292 L418,291 L421,288 L423,285 L428,284 L433,283 L436,279 M459,321 L460,315 L461,313 L459,308 L458,303 M757,277 L754,279 L751,283 L744,283 L742,286 L740,284 L734,288 M757,277 L758,280 L762,283 L762,290 L766,292 L767,296 L771,299 L772,303 M772,303 L760,303 L760,313 L742,313 M734,288 L734,292 L731,296 L731,301 L731,307 M731,307 L736,308 L736,309 L742,313 M762,259 L759,262 L759,267 L757,272 L757,277 M762,259 L761,255 M714,263 L714,270 L734,270 L734,288 M714,263 L717,258 M761,255 L756,254 L753,251 M762,259 L765,262 L772,263 L775,262 L780,264 L784,266 L788,267 L789,271 L794,274 L799,274 M780,306 L778,306 L772,303 M780,307 L777,312 L778,316 L775,320 L775,321 L774,325 L770,329 L769,336 L768,338 L765,342 M789,355 L794,352 L794,349 L797,344 L798,341 L802,339 M789,355 L770,355 L770,350 M770,350 L766,346 L765,342 M742,313 L743,315 L745,319 L744,324 L745,329 L748,333 L749,337 M765,342 L763,339 L759,339 L754,336 L749,337 M714,263 L708,266 L703,266 L699,269 M724,310 L721,307 L719,304 L716,302 L712,298 L707,297 L705,296 L700,292 L698,290 M724,310 L724,307 L731,307 M699,269 L699,274 L698,277 L699,282 L698,286 L698,290 M669,369 L672,369 L672,352 M669,369 L671,373 L676,374 L679,378 L680,381 L684,382 M672,352 L677,350 L681,351 L684,349 M684,382 L690,380 L692,379 L696,377 L702,373 M702,373 L700,370 L699,365 L697,359 L698,355 M684,349 L690,349 L690,355 L698,355 M724,310 L722,315 L719,317 L715,322 L713,325 M749,337 L745,340 L743,341 L737,344 L736,348 L731,349 M731,349 L726,346 L724,343 L721,344 L716,339 M713,325 L713,339 L716,339 M643,373 L643,378 L653,378 M643,373 L643,362 L644,362 L644,354 M653,378 L658,378 L659,375 L664,371 L669,369 M672,352 L668,348 L664,348 L659,344 M659,344 L654,348 L652,348 L646,353 L644,354 M671,439 L670,436 M685,454 L687,454 M709,443 L706,445 L701,447 L697,448 L695,453 L692,451 L687,454 M709,443 L710,438 M710,438 L707,438 L707,426 M670,436 L675,433 L678,429 L680,423 M707,426 L703,426 L698,424 L692,425 L688,424 L684,424 L680,423 M658,399 L662,399 L667,399 L672,402 L677,401 M658,399 L649,399 L649,407 M649,407 L656,407 L656,428 M670,436 L665,432 L661,430 L656,428 M680,423 L681,417 L680,415 L678,412 L679,407 L677,401 M653,378 L658,378 L658,399 M684,382 L684,399 L679,399 M679,399 L677,401 M710,438 L714,438 L719,440 L724,436 L728,437 L730,438 L737,438 L739,436 L745,436 M745,435 L742,429 L742,426 L739,423 L737,419 L735,415 L734,414 L732,409 L728,406 M707,426 L713,426 L713,410 M728,406 L724,409 L719,409 L713,410 M702,373 L704,374 M679,399 L709,399 L709,406 M704,374 L709,374 L709,406 M709,406 L713,410 M635,407 L632,410 L631,415 L629,419 L629,424 M635,407 L640,406 L645,408 L649,407 M656,428 L652,431 L651,434 L645,433 L641,435 L638,438 M629,424 L630,429 L634,430 L635,435 L638,438 M652,457 L646,455 L645,449 L641,450 L637,445 M638,438 L637,445 M675,482 L689,482 L689,486 M687,454 L688,460 L692,462 L695,468 L695,470 L700,473 L700,477 M689,486 L692,484 L697,481 L700,477 M747,481 L741,480 L740,484 L734,485 M747,481 L748,477 L751,469 L752,466 M734,485 L732,481 L730,478 L725,474 L724,473 L720,468 M752,466 L747,463 L746,460 L743,456 M743,456 L739,458 L734,459 L729,461 L725,463 L721,464 M721,464 L720,468 M747,513 L743,513 M743,513 L741,511 L737,506 L734,505 L730,500 L728,499 M759,495 L754,490 L755,489 L752,484 L747,481 M728,499 L728,495 L734,489 L734,485 M765,465 L765,472 L781,472 L781,481 M765,465 L762,464 L756,465 L752,466 M728,499 L716,499 L716,501 M716,501 L716,494 L706,494 L706,478 M706,478 L708,474 L714,472 L714,472 L720,468 M753,432 L748,433 L745,435 M753,432 L758,433 L759,437 L763,439 L768,438 L773,443 L776,443 M765,465 L776,465 L776,443 M745,436 L745,447 L743,447 L743,456 M709,443 L710,445 L713,451 L713,454 L718,458 L717,459 L721,464 M700,477 L706,478 M606,493 L601,493 L601,488 M606,493 L603,498 L600,503 L599,505 L596,509 L593,513 M601,488 L598,486 L591,486 L588,488 L583,487 M593,513 L591,514 M591,514 L587,510 L587,508 L583,504 L577,502 L575,499 M575,499 L577,497 L581,492 L583,487 M614,494 L606,493 M610,524 L604,523 L603,517 L597,518 L593,513 M560,501 L567,501 L567,499 L575,499 M559,466 L565,469 L569,470 L572,472 L577,472 M577,472 L583,472 L583,487 M582,527 L586,529 L586,535 L588,537 L591,541 M582,527 L579,526 L576,529 L570,529 M570,529 L570,535 L564,535 L564,542 M587,554 L587,541 L591,541 M587,554 L577,554 L577,554 L569,554 M569,554 L569,542 L564,542 M606,538 L600,538 L596,542 L591,541 M591,514 L582,514 L582,527 M557,513 L557,521 L570,521 L570,529 M542,541 L547,543 L551,543 L556,540 L560,544 L564,542 M564,564 L567,559 L569,554 M762,529 L762,551 L747,551 M743,513 L738,517 L738,520 L735,523 L732,525 L730,527 L727,532 M747,551 L745,547 L740,545 L736,544 L734,542 L728,539 M727,532 L729,536 L728,539 M683,568 L683,561 L684,561 L684,549 M683,568 L703,568 L703,570 M684,549 L687,549 L692,548 L698,546 L702,547 M703,570 L704,567 L707,565 L711,560 M702,547 L705,552 L711,554 M711,560 L711,554 M705,585 L705,570 L703,570 M731,570 L726,568 L724,565 L717,566 L716,563 L711,560 M747,551 L747,559 L748,559 M728,539 L725,541 L722,544 L718,549 L715,551 L711,554 M675,513 L675,521 L683,521 L683,525 M675,513 L677,510 L684,506 L686,502 L690,501 M683,525 L695,525 L695,527 L702,527 M690,501 L696,501 L696,503 L701,504 L705,505 L710,508 M710,508 L710,521 L709,521 M709,521 L704,523 L702,527 M660,545 L677,545 L677,542 M673,512 L675,513 M677,542 L679,540 L682,533 L681,530 L683,525 M689,486 L691,492 L690,496 L690,501 M677,542 L681,547 L684,549 M702,547 L701,543 L704,540 L704,536 L702,532 L702,527 M716,501 L710,501 L710,508 M727,532 L721,530 L719,526 L718,524 L713,523 L709,521 M633,595 L632,600 L631,602 L630,609 L630,615 L629,616 L629,622 L628,625 L629,630 M633,595 L629,594 L623,597 L619,597 L616,595 L612,595 M604,608 L608,603 L609,600 L612,595 M604,608 L607,610 L609,617 L615,616 L615,623 L618,624 L621,629 M621,629 L629,630 M584,644 L587,642 L591,642 L595,638 L600,638 L606,635 L610,633 L613,634 L617,629 L621,629 M597,608 L604,608 M642,642 L638,639 L635,637 L633,635 L629,630 M674,576 L669,574 L664,571 L662,567 L656,567 M674,576 L674,586 L675,586 M675,586 L675,593 L665,593 L665,601 M656,567 L653,570 L647,573 L644,576 L643,579 L638,582 M665,601 L660,603 M660,603 L658,602 L654,600 L651,597 L647,595 L641,594 L638,590 M638,590 L638,582 M654,554 L654,559 L657,562 L656,567 M683,568 L674,568 L674,576 M694,594 L692,592 L687,589 L681,589 L679,586 L675,586 M690,625 L665,625 L665,601 M643,641 L643,620 L660,620 L660,603 M633,595 L638,590 M619,559 L619,562 L621,567 M619,559 L615,560 L612,558 L608,558 L603,561 L598,562 L593,561 M621,567 L617,568 L615,575 L611,577 L607,579 L606,583 M606,583 L603,583 L599,583 L593,580 L589,580 M593,561 L589,561 L589,580 M621,554 L619,559 M638,582 L629,582 L629,567 L621,567 M587,554 L590,558 L593,561 M612,595 L609,590 L607,585 L606,583 M583,584 L588,584 L589,580 M802,47 L799,52 L797,58 M797,58 L800,61 L804,63 L804,70 L806,71 M792,86 L791,90 L789,96 L787,101 M792,86 L796,86 L798,85 L804,81 L806,81 M787,101 L792,102 L794,105 L797,109 L801,109 L805,109 L806,110 M780,74 L784,76 L785,81 L789,82 L792,86 M780,74 L775,77 L771,78 L767,78 M780,104 L787,101 M786,61 L790,58 L797,58 M786,61 L782,66 L782,69 L780,74 M694,177 L694,157 L690,157 L690,146 M694,177 L690,177 L685,178 L680,180 M680,180 L675,176 L674,175 L672,172 L668,170 L665,166 M665,166 L667,161 L671,158 L671,154 L671,151 L674,146 M690,146 L687,144 L681,142 M681,142 L674,146 M711,186 L707,182 L703,182 L698,178 L694,177 M711,186 L712,185 L715,182 L721,177 L723,174 L727,171 M727,171 L725,171 L725,158 M725,158 L723,153 L718,154 L714,148 L711,147 L709,143 M709,143 L702,146 L701,145 L695,147 L690,146 M711,192 L711,186 M668,200 L670,194 L671,191 L674,188 L676,183 L680,180 M685,211 L681,209 L675,206 L674,203 L668,201 M589,303 L589,311 L611,311 M589,303 L588,301 M616,306 L611,311 M616,306 L614,301 L613,296 L614,293 L615,287 L613,284 L613,280 M588,301 L593,301 L593,287 M593,287 L602,287 L602,280 L613,280 M668,201 L666,206 L662,210 L660,214 L657,215 L655,219 M655,219 L656,225 L657,229 L660,232 M687,226 L683,231 M683,231 L677,231 L672,233 L667,231 L667,232 L660,232 M699,269 L693,269 L693,263 L685,263 M683,231 L683,237 L683,239 L685,243 L685,248 L685,255 L684,257 L685,263 M714,97 L711,98 L711,102 L706,105 L704,111 L701,113 M714,97 L720,99 L721,102 L728,103 L730,108 M701,113 L702,117 L706,120 L707,124 L709,125 L713,130 M713,130 L717,129 L720,127 L726,123 L730,122 M730,108 L730,122 L730,122 M733,74 L729,78 L728,82 L727,85 L723,85 L719,87 L716,91 L714,95 M748,98 L743,102 L739,102 L738,105 L732,104 L730,108 M709,143 L711,137 L712,132 L713,130 M680,122 L684,118 L688,113 M680,122 L680,128 L682,129 L680,133 L680,137 L681,142 M688,113 L692,112 L697,113 L701,113 M725,158 L729,156 L732,154 L734,151 L734,147 L739,142 L742,142 L745,139 L747,135 M747,135 L743,131 L740,128 L736,128 L733,124 L730,122 M760,124 L756,127 L755,133 L750,135 M750,135 L747,135 M685,52 L682,54 L680,60 L674,65 L673,67 M685,52 L688,54 L691,56 L696,57 L700,57 L703,59 L707,62 M673,67 L675,69 L680,73 L684,76 L687,78 L691,82 L693,83 M707,62 L706,65 L705,70 L702,73 L702,77 L699,82 M699,82 L693,83 M684,39 L685,44 L686,46 L685,52 M652,46 L652,54 L670,54 L670,68 M670,68 L673,67 M706,30 L710,33 L712,34 L716,40 L719,40 M719,57 L717,54 L719,48 L719,46 L719,40 M719,57 L714,58 L711,59 L707,62 M714,95 L711,92 L710,90 L706,87 L704,84 L699,82 M734,68 L731,65 L728,61 L721,61 L719,57 M688,113 L688,111 L683,104 L683,103 L683,98 M683,98 L685,94 L687,90 L690,86 L693,83 M670,68 L669,72 L664,75 L660,78 L660,79 L656,84 M683,98 L683,92 L662,92 M662,92 L660,86 L656,84 M680,122 L677,122 L673,120 L667,116 L663,117 L659,115 M662,92 L661,97 L661,99 L661,107 L660,110 L659,115 M642,75 L641,71 L643,65 L640,65 L639,58 L639,53 L639,51 M642,75 L644,80 L648,83 L653,84 M653,84 L656,84 M665,9 L665,6 M644,16 L642,12 L640,9 L638,6 M786,61 L782,59 L781,57 L778,51 L775,49 L769,47 M784,32 L778,33 L774,36 M769,47 L773,39 L774,36 M751,61 L755,59 L755,53 M769,47 L766,49 L761,52 L755,53 M347,40 L347,45 L349,49 L348,55 L351,59 L351,63 M347,40 L347,35 L370,35 M370,35 L370,50 L368,50 L368,61 M368,61 L363,61 L360,64 L355,65 M355,65 L351,63 M378,92 L381,87 L383,84 L384,82 M356,83 L356,71 L355,71 L355,65 M368,61 L373,62 L376,64 M384,82 L382,77 L379,72 L377,69 L376,64 M564,10 L563,13 L564,20 L565,24 L565,27 L566,31 L566,36 M564,10 L573,10 L573,9 L579,9 M579,9 L581,13 L584,16 L584,18 L587,23 L590,26 M590,26 L587,28 L582,34 L581,37 M581,37 L575,38 L572,35 L566,36 M561,8 L564,10 M549,40 L551,44 L556,45 M556,45 L561,42 L563,39 L566,36 M581,6 L579,9 M606,37 L602,34 L600,31 L596,27 L593,26 M606,37 L611,35 L614,35 L619,35 L623,32 M593,26 L595,22 L597,21 L600,18 L604,14 L607,12 L610,10 M623,32 L623,23 L614,23 L614,11 M614,11 L610,10 M608,6 L610,10 M590,26 L593,26 M628,6 L628,6 L623,6 L616,11 L614,11 M806,257 L803,251 L802,251 L800,245 L797,240 L798,238 L795,234 L792,230 M806,222 L802,225 L801,225 L796,227 L792,230 M761,255 L765,251 L769,248 L768,247 L774,245 L774,239 L778,239 L780,233 L784,231 L788,229 M744,216 L748,213 M748,213 L780,213 L780,218 M780,218 L785,220 L785,225 L788,229 M792,230 L788,229 M754,190 L759,191 L761,190 L766,189 L773,187 L776,189 L783,189 L785,187 M754,190 L754,176 L746,176 M746,176 L747,172 L753,170 L753,168 L758,165 L761,160 L764,157 M785,187 L787,186 M787,186 L787,182 L786,177 L783,174 L783,168 L781,168 L779,161 L778,158 M764,157 L770,158 L772,156 L778,158 M748,213 L749,207 L749,204 L753,200 L752,196 L754,190 M780,218 L779,214 L780,211 L781,206 L784,201 L784,196 L783,190 L785,187 M727,171 L732,172 L736,174 L743,174 L746,176 M750,135 L752,137 L753,141 L756,145 L758,150 L761,152 L764,157 M806,186 L804,186 L799,185 L797,186 L793,187 L787,186 M774,122 L776,125 L782,127 L783,130 M783,130 L789,130 L793,129 L798,127 L802,126 L805,124 L806,124 M778,158 L780,155 L784,152 M783,130 L785,134 L782,139 L784,142 L783,147 L784,152 M784,152 L806,152 M453,148 L456,148 L456,137 M453,148 L457,150 L458,157 L463,160 L462,163 L467,166 M456,137 L456,132 L468,132 M468,132 L472,135 L476,137 L482,140 L484,140 L491,141 L494,144 M467,166 L471,164 L472,159 L477,157 L481,154 L484,152 L488,150 L491,146 L494,144 M438,153 L436,151 L429,149 L425,143 L423,141 L420,140 M438,153 L438,148 L453,148 M447,126 L456,126 L456,137 M418,135 L420,140 M430,180 L432,174 L434,170 L435,166 L437,161 L439,158 L438,153 M430,180 L436,183 L440,185 L441,187 L445,187 L451,189 M467,172 L462,176 L459,178 L458,182 L453,184 L451,189 M467,172 L467,166 M475,108 L472,106 L464,107 L461,102 L456,103 M475,108 L475,111 L473,116 L472,120 L471,125 L469,129 L468,132 M451,107 L456,103 M522,59 L524,55 L525,52 L524,45 L526,42 M522,59 L516,60 L514,59 L509,60 L506,61 M520,31 L516,30 L509,29 M506,61 L496,61 L496,50 M496,50 L496,46 L501,43 L502,40 L505,35 L506,33 L509,29 M470,13 L473,15 L478,17 L482,21 L485,23 M502,13 L502,19 M485,23 L490,21 L494,20 L499,21 L502,19 M502,19 L503,23 L505,27 L509,29 M398,192 L403,190 L407,190 L411,190 L416,190 L418,189 M398,192 L397,189 L397,184 L396,179 L392,176 L393,170 L391,167 L390,164 M410,162 L406,163 L399,164 L394,164 L390,163 M410,162 L412,164 L414,166 L418,169 L420,175 L424,176 L428,180 M428,180 L418,180 L418,189 M368,167 L368,164 L390,164 M389,201 L393,198 L393,196 L398,192 M389,201 L385,202 M390,137 L388,143 L390,145 L392,149 L391,155 L391,160 L390,163 M420,140 L418,145 L416,148 L415,153 L413,157 L410,162 M430,180 L428,180 M437,224 L437,226 L438,231 L437,235 L435,240 L436,245 L433,247 L431,252 L432,256 M437,224 L433,222 L427,220 L422,218 M422,218 L419,219 L413,223 L408,222 M432,256 L414,256 L414,245 L399,245 M408,222 L405,225 L403,231 L404,236 L400,239 L398,243 M399,245 L398,243 M446,219 L451,222 L452,223 L457,228 L458,231 L463,234 L466,238 L469,238 L473,243 M446,219 L442,221 L437,224 M473,243 L470,243 L470,257 M439,269 L439,263 L432,263 L432,256 M451,189 L453,192 L454,200 L454,203 M454,203 L453,206 L450,210 L449,216 L446,219 M418,189 L418,192 L420,197 L418,200 L421,204 L421,211 L424,212 L422,218 M389,201 L389,222 L408,222 M387,278 L387,245 L399,245 M376,234 L385,234 L385,243 L398,243 M357,247 L355,247 L355,262 M371,278 L355,278 L355,262 M291,227 L301,227 L301,244 L311,244 M291,227 L286,226 L280,229 L277,230 M277,230 L275,230 L275,258 M310,250 L310,244 L311,244 M310,250 L310,265 L289,265 M289,265 L286,264 L278,260 L275,258 M327,224 L323,227 L322,229 L318,235 L317,236 L314,241 L311,244 M296,208 L293,213 L293,219 L292,221 L291,227 M266,222 L268,223 L274,230 L277,230 M254,261 L275,261 L275,258 M355,262 L349,264 L346,265 L342,265 L336,267 L332,269 M332,269 L321,269 L321,250 L310,250 M268,469 L274,469 L274,462 M268,469 L268,504 L284,504 M297,501 L316,501 L316,471 M274,462 L302,462 L302,471 L316,471 M238,449 L241,446 L243,442 L242,439 L247,433 L248,428 L249,425 M253,472 L259,472 L264,468 L268,469 M249,425 L276,425 L276,440 M274,462 L274,450 L276,450 L276,440 M210,421 L216,420 L220,418 L224,416 L226,414 L231,413 M211,379 L192,379 L192,393 M211,379 L227,379 L227,386 M227,386 L231,386 L231,413 M249,425 L246,419 M231,413 L234,415 L240,417 L241,418 L246,419 M332,269 L323,269 L323,295 M289,265 L287,269 L291,275 L289,279 L291,284 L291,286 L292,292 M292,292 L323,292 L323,295 M354,312 L354,308 L332,308 M323,295 L324,299 L330,305 L332,308 M388,353 L388,357 L377,357 L377,365 M358,317 L359,320 L355,327 L356,330 L356,332 L354,338 L353,343 L351,347 L350,351 L352,354 L350,358 M350,358 L350,365 L377,365 M419,387 L395,387 L395,388 L384,388 M377,365 L377,378 L384,378 L384,388 M31,53 L31,63 L38,63 L38,71 M38,71 L38,91 L6,91 M51,109 L51,106 L50,103 L50,95 L48,94 L48,89 L47,84 L47,79 L47,76 M38,115 L26,115 L26,96 L7,96 M47,76 L47,71 L38,71 M6,92 L7,96 M31,130 L20,130 L20,133 L6,133 M7,96 L7,117 L6,117 M211,379 L210,373 L212,370 L207,366 L210,363 L206,356 L207,352 M171,363 L171,350 L201,350 M207,352 L201,352 L201,350 M131,289 L141,289 L141,294 M163,277 L163,285 L151,285 L151,292 M151,292 L151,294 L141,294 M112,328 L126,328 L126,328 L138,328 M141,294 L141,317 L138,317 L138,328 M153,342 L153,340 M138,328 L138,340 L153,340 M270,561 L271,563 L272,570 L273,574 L276,577 M270,561 L266,559 M266,559 L261,562 L256,562 L253,565 L250,565 L244,566 L240,568 M276,577 L275,581 L273,585 L267,588 L267,594 M267,594 L263,594 L257,596 L256,598 L250,598 L246,600 M246,600 L246,590 L235,590 L235,584 M235,584 L235,574 L240,574 L240,568 M313,583 L309,580 L306,582 L300,581 L295,580 L293,581 L288,580 L282,578 L281,576 L276,577 M294,543 L291,547 L287,547 L284,550 L282,555 L277,554 L273,558 L270,561 M288,616 L288,604 L267,604 L267,594 M288,616 L306,616 L306,608 M226,617 L217,617 L217,613 L206,613 M226,617 L246,617 L246,600 M206,613 L206,597 L204,597 L204,584 M204,584 L207,584 L214,585 L218,583 L222,584 L225,584 L232,583 L235,584 M373,475 L368,475 L368,468 M373,475 L358,475 L358,500 M368,468 L368,460 L331,460 M358,500 L354,501 L348,498 L344,498 L339,499 M339,499 L339,488 L317,488 L317,471 M331,460 L320,460 L320,466 M317,471 L320,466 M368,521 L368,516 L365,514 L363,508 L360,505 L358,500 M397,479 L383,479 L383,475 L373,475 M321,521 L323,519 L326,515 L330,512 L331,510 L333,504 L338,500 L339,499 M276,440 L281,437 L284,436 L285,433 L290,431 L294,427 M294,427 L294,430 L301,430 M301,430 L301,445 L320,445 L320,466 M416,461 L416,456 L412,456 L412,449 L408,446 L405,443 L404,441 L404,436 M368,468 L368,452 L372,452 L372,444 M372,444 L377,442 L379,443 L385,440 L388,439 L394,438 L396,439 L401,436 L404,436 M428,412 L420,412 L420,427 L406,427 M404,436 L406,433 L406,427 M384,388 L384,394 L380,395 L379,400 M406,427 L397,427 L397,400 L379,400 M176,507 L174,510 L174,517 L172,522 M144,497 L142,503 L145,504 L143,511 L142,515 L146,517 L144,522 M172,522 L167,522 L164,523 L156,523 L152,520 L150,521 L144,522 M127,487 L122,487 M122,487 L122,508 L107,508 M115,522 L124,522 L124,530 L138,530 M144,522 L144,530 L138,530 M203,583 L203,573 L205,573 L205,554 M203,583 L204,584 M240,568 L240,558 L226,558 L226,547 M226,547 L217,547 L217,554 L205,554 M191,501 L191,514 L209,514 M182,541 L179,536 L180,532 L175,528 L174,524 L172,522 M182,541 L182,541 L189,541 M189,541 L209,541 L209,514 M223,483 L223,513 L214,513 M214,513 L209,514 M120,9 L120,6 M120,9 L123,8 L126,6 M127,6 L132,7 L136,7 L138,6 M58,7 L58,10 L45,10 M120,9 L118,12 L115,15 M115,15 L111,15 L106,12 L101,8 L98,7 L97,6 M58,7 L72,7 L72,15 M83,6 L83,15 L72,15 M89,81 L90,75 L95,74 L97,70 L99,64 M89,81 L89,71 L62,71 M99,64 L97,62 L95,57 L92,54 L89,52 L85,48 L83,43 L82,42 L79,38 M62,71 L62,52 L70,52 L70,42 M70,42 L77,42 L77,37 M77,37 L79,38 M75,116 L75,97 L89,97 L89,82 M47,76 L53,75 L57,74 L62,71 M36,37 L70,37 L70,42 M72,15 L74,20 L73,24 L74,30 L76,34 L77,37 M115,15 L116,21 L114,24 M114,24 L109,27 L106,28 L104,29 L98,30 L96,30 L91,35 L88,34 L84,37 L79,38 M341,96 L337,92 L336,89 L334,87 L331,83 L331,78 L327,75 M351,63 L347,63 L341,67 L338,66 L333,69 L329,68 M327,75 L329,71 L329,68 M345,39 L340,39 L338,40 L333,42 L329,43 M345,39 L347,40 M329,43 L330,47 L328,55 L329,59 L327,62 L328,67 M328,16 L326,20 L324,25 L322,27 L320,32 L316,35 M328,16 L324,12 L320,10 L318,7 L317,6 M316,35 L309,36 M291,14 L291,6 M291,14 L297,14 L297,29 M309,36 L306,34 L302,31 L297,29 M329,43 L329,35 L316,35 M328,67 L322,64 L321,63 L313,62 L310,61 L306,59 M309,36 L309,47 L306,47 L306,59 M147,133 L145,129 L143,125 L140,120 L139,119 L135,115 L134,110 L131,107 M101,128 L113,128 L113,105 L125,105 M131,107 L125,105 M89,82 L92,84 L96,88 L101,88 L106,92 L110,92 L110,95 L115,96 L118,100 L124,101 M125,105 L124,101 M121,35 L119,38 L121,45 L120,47 L119,49 L117,54 L115,59 M121,35 L127,34 L131,34 L134,35 L140,37 L145,36 L149,37 M149,37 L149,46 L154,46 M154,46 L154,59 L144,59 L144,67 M115,59 L120,60 L122,65 L127,67 L129,70 M129,70 L134,70 L134,67 L144,67 M114,24 L121,24 L121,35 M99,64 L101,62 L107,63 L111,58 L115,59 M124,101 L129,101 L129,70 M131,107 L136,107 L139,104 L144,102 L146,97 L152,98 L155,95 M144,67 L152,67 L152,83 L159,83 M155,95 L159,95 L159,83 M159,135 L163,132 L165,130 L166,127 L172,122 L175,119 L177,116 M155,95 L158,100 L163,102 L166,106 L169,106 L170,110 L173,113 L177,116 M225,46 L228,48 L230,51 L235,56 L236,59 L240,60 L243,64 M225,46 L225,36 L237,36 L237,27 M261,39 L260,42 L259,48 L257,51 L254,54 L254,58 M261,39 L260,35 L255,30 L255,27 L253,24 M253,24 L237,24 L237,27 M243,64 L245,62 L251,60 L254,58 M222,153 L230,153 L230,136 M251,138 L246,138 L243,136 L238,136 L234,136 L231,135 M194,153 L193,148 L196,146 L194,140 L195,138 L195,133 L196,129 L197,124 M230,136 L226,136 L221,133 L217,130 L212,130 L208,128 L203,126 L200,127 L197,124 M177,116 L184,115 M184,115 L184,121 L195,121 M197,124 L195,121 M429,95 L418,95 L418,89 L412,89 M429,95 L432,91 L435,89 L438,85 L439,80 M434,68 L435,74 L439,78 L439,80 M434,68 L428,70 L425,72 L422,70 L418,72 L414,74 L408,74 M412,89 L408,85 L406,81 L406,78 M408,74 L406,78 M402,109 L402,89 L412,89 M431,100 L429,95 M456,103 L457,101 L454,97 L456,90 L454,85 L455,83 M455,83 L449,81 L445,82 L439,80 M384,82 L388,80 L391,80 L399,80 L400,80 L406,78 M88,605 L88,592 L81,592 L81,583 M88,605 L80,605 L80,619 L72,619 M81,583 L67,583 L67,580 L51,580 M72,619 L68,620 L64,617 L58,619 L56,618 L50,616 M50,616 L47,611 L48,609 L47,602 L45,597 L43,595 L43,590 L42,586 M42,586 L49,583 L51,580 M111,644 L112,640 M75,649 L73,646 L74,642 L74,638 L75,631 L72,626 L71,622 L72,619 M112,640 L110,637 L108,633 L105,628 L104,624 L103,619 L101,618 L97,611 L96,609 M96,609 L88,609 L88,605 M85,578 L81,583 M52,539 L52,561 L51,561 L51,580 M29,637 L29,625 L50,625 L50,616 M10,561 L34,561 L34,585 M34,585 L34,586 L42,586 M8,612 L8,612 L8,621 M8,612 L6,610 M8,621 L6,621 M17,633 L8,633 L8,621 M34,585 L32,589 L26,591 L25,593 L23,595 L20,598 L18,603 L15,608 L10,608 L8,612 M130,440 L130,441 L121,441 M109,396 L109,408 L104,408 M104,408 L104,428 L114,428 L114,437 M121,441 L114,437 M122,487 L120,485 L116,479 L113,476 L109,474 L109,470 M121,441 L121,456 L109,456 L109,470 M71,492 L71,477 L82,477 L82,469 M109,470 L109,469 L82,469 M6,374 L8,376 M6,400 L8,400 L8,376 M44,369 L36,369 L36,381 L28,381 M8,376 L13,376 L16,378 L18,380 L23,381 L28,381 M49,445 L31,445 L31,418 M49,445 L55,446 L58,443 L64,444 L67,444 L72,445 M72,445 L74,442 M74,442 L75,437 L76,436 L75,428 L76,427 L77,421 M77,421 L76,419 L72,412 L71,411 L70,409 L67,403 L64,401 M64,401 L59,404 L56,404 L52,403 L47,407 L41,408 L38,408 L35,411 M35,411 L31,411 L31,418 M27,474 L27,455 L49,455 L49,445 M6,421 L6,421 L11,420 L15,419 L23,420 L25,418 L31,418 M82,469 L79,466 L77,460 L75,455 L77,453 L74,448 L72,445 M114,437 L74,437 L74,442 M104,408 L87,408 L87,421 L77,421 M66,395 L64,395 L64,401 M28,381 L30,385 L32,392 L31,394 L30,398 L33,401 L35,409 L35,411 M531,702 L526,701 M526,701 L517,701 M447,631 L451,631 L451,636 M451,636 L498,636 L498,652 M526,701 L517,701 M506,686 L506,683 M506,677 L506,672 L496,672 M498,656 L497,659 L499,662 L495,669 L496,672 M451,636 L451,640 M451,650 L451,653 M283,649 L283,643 M283,649 L283,643 M288,616 L286,622 L284,622 L284,627 L282,632 L279,636 M246,600 L246,623 L259,623 L259,633 M259,633 L266,633 L266,636 L279,636 M279,636 L280,640 L283,643 M790,654 L790,652 L793,648 L793,642 L795,640 L796,634 L798,629 L799,627 M781,612 L785,613 L791,616 L796,617 M800,622 L796,617 M635,407 L634,406 M643,373 L638,375 L634,377 L629,378 M634,406 L631,400 L631,397 L632,394 L629,388 L629,387 L631,384 L629,378 M644,354 L640,353 L637,349 L632,349 L627,345 M627,345 L624,348 L619,352 L615,353 M629,378 L626,375 L620,375 M615,353 L617,359 L617,360 L618,365 L620,369 L620,375 M634,406 L631,406 L623,406 L620,405 L615,405 L612,403 L608,403 M608,403 L609,400 L610,396 L612,390 L614,385 L615,383 L614,379 M620,375 L614,375 L614,379 M507,232 L507,234 L482,234 M507,232 L507,224 L511,224 L511,212 M511,212 L509,209 M509,209 L504,210 L502,208 L495,204 L494,205 L487,203 L484,203 M482,234 L483,228 L483,226 L482,222 L481,216 L478,211 L478,208 M478,208 L484,203 M486,181 L487,185 L487,192 L484,195 L483,198 L484,203 M486,181 L486,177 L497,177 M497,177 L500,178 L504,180 L508,184 M508,184 L508,188 L508,190 L510,196 L510,201 L508,203 L509,209 M454,203 L466,203 L466,208 L478,208 M473,243 L473,234 L482,234 M467,172 L467,181 L486,181 M553,233 L551,236 L553,240 L552,246 L554,253 L552,256 M553,233 L559,235 L563,232 L567,234 L570,235 L574,234 L579,233 L584,234 M552,256 L557,256 L562,256 L565,256 L571,256 L572,254 L577,255 L580,255 L585,255 M584,234 L585,238 L585,244 L589,246 L589,252 M585,255 L589,252 M486,271 L490,267 L494,266 L497,264 L502,262 L505,260 M507,232 L507,250 L505,250 L505,260 M549,227 L544,230 L542,230 L538,235 L533,234 L529,236 L524,238 M549,227 L553,233 M524,238 L527,241 L525,248 L529,251 L531,255 L531,257 M552,256 L552,257 L531,257 M507,232 L510,235 L515,236 L519,237 L524,238 M505,260 L511,264 L514,264 L520,266 L522,268 M531,257 L531,264 L522,264 L522,268 M488,286 L488,291 L494,291 M494,291 L500,289 L502,289 L505,290 L510,286 L517,288 L520,287 L524,286 M524,286 L526,284 M526,284 L525,280 L524,277 L521,273 L522,268 M570,279 L569,284 L568,288 L568,289 L567,295 M570,279 L564,277 L563,273 L556,273 L554,270 M554,270 L552,275 L549,276 L545,278 L543,283 M543,283 L547,289 L548,291 L550,296 L554,299 M567,295 L567,300 L561,300 M561,300 L554,299 M588,301 L577,301 L577,295 L567,295 M581,273 L581,280 L593,280 L593,287 M581,273 L577,276 L574,276 L570,279 M581,273 L584,269 L584,266 L586,261 L585,255 M552,256 L552,262 L554,266 L554,270 M526,284 L530,285 L535,285 L539,284 L543,283 M589,303 L584,303 L584,317 M584,317 L571,317 L571,320 L565,320 M565,320 L566,317 L562,314 L562,307 L562,303 L561,300 M535,314 L535,299 L554,299 M535,314 L549,314 L549,328 M549,328 L556,328 L556,324 L563,324 M565,320 L563,324 M698,290 L694,294 L691,297 L688,300 M713,325 L708,323 L703,325 L701,322 L695,321 L691,321 M688,300 L688,309 L691,309 L691,321 M684,349 L684,342 L685,339 L686,333 L686,330 L686,325 M698,355 L700,353 L703,347 L710,347 L711,344 L716,339 M686,325 L691,325 L691,321 M796,459 L796,450 L792,450 M806,436 L805,438 L799,441 L797,446 L795,446 L792,450 M776,443 L780,444 L784,446 L786,446 L792,450 M789,355 L789,362 L795,362 L795,369 M795,369 L800,368 L801,371 L806,372 M770,350 L767,353 L765,357 L764,359 L761,364 L758,366 L757,368 L754,373 M731,349 L734,352 L733,360 M733,360 L735,361 L739,363 L744,366 L746,370 L749,371 L754,373 M704,374 L711,374 L711,374 L720,374 M733,360 L730,365 L727,368 L721,371 L720,374 M651,170 L650,168 L646,162 L641,159 L637,157 M651,170 L650,174 L651,178 L647,182 L649,188 M637,157 L635,162 L630,163 L625,164 L623,170 L620,172 L616,175 M616,175 L618,177 L623,183 L623,185 L626,190 L629,193 L631,197 M649,188 L643,190 L639,192 L635,195 L631,197 M668,200 L663,197 L660,195 L657,193 L653,190 L649,188 M665,166 L660,169 L655,169 L651,170 M655,219 L650,220 L648,217 L641,216 L640,216 L633,216 L631,214 L626,214 M626,214 L627,209 L631,207 L630,199 L631,197 M604,256 L599,257 L597,256 L592,255 L589,252 M604,256 L607,258 L612,265 M613,279 L612,274 L612,270 L612,265 M735,31 L738,31 L743,32 M735,31 L735,6 M743,32 L747,30 L750,26 L751,23 L757,21 L759,19 M738,6 L738,7 L753,7 M753,7 L755,13 L759,16 M759,16 L759,19 M719,40 L724,38 L725,34 L732,32 L735,31 M755,53 L753,49 L752,45 L750,41 L744,35 L743,32 M706,14 L711,12 L712,13 L718,12 L723,9 L724,7 L728,6 M774,36 L769,31 L767,31 L764,25 L763,23 L759,19 M779,6 L775,11 L772,9 L768,14 L763,13 L759,16 M623,229 L624,224 L622,218 M623,229 L623,245 L604,245 L604,256 M622,218 L622,215 L606,215 M584,234 L586,229 L588,225 M588,225 L606,225 L606,215 M556,45 L556,52 M522,59 L528,63 L531,66 M531,66 L535,66 L539,65 L545,65 M556,52 L545,52 L545,65 M531,66 L532,72 L528,76 L529,81 L524,82 L525,88 M525,88 L530,88 L530,97 L540,97 M545,65 L545,75 L554,75 L554,83 M540,97 L543,94 L548,90 L552,86 L554,83 M581,37 L581,39 L583,43 L585,47 L588,52 M606,37 L605,43 L602,46 L601,53 L601,56 M601,56 L596,53 L591,53 L588,52 M556,52 L561,54 L563,55 L565,60 L570,60 L573,64 M588,52 L586,55 L579,58 L577,62 L573,64 M554,83 L557,83 L563,85 M563,85 L565,79 L567,76 L572,73 L574,69 M573,64 L574,69 M497,177 L497,173 L496,168 L497,166 L498,163 L501,157 L498,153 L500,149 M526,176 L520,180 L517,178 L515,183 L508,184 M526,176 L526,172 L524,167 L527,165 L526,158 L525,156 M525,156 L517,156 L517,149 L500,149 M494,144 L497,144 M497,144 L500,144 L500,149 M476,76 L480,78 L484,76 L486,79 L491,80 L495,79 L500,80 M476,76 L474,82 L478,84 L475,88 L476,93 L476,99 L477,101 L476,107 M476,107 L482,108 M482,108 L485,105 L488,104 L490,101 L496,96 L497,93 L499,93 L504,89 M500,80 L504,83 L504,89 M503,127 L503,137 L497,137 L497,144 M503,127 L501,124 L496,120 L491,116 L488,112 L485,110 L482,108 M511,92 L511,110 L513,110 L513,120 M511,92 L504,89 M513,120 L512,124 L506,125 L503,127 M506,61 L506,66 L505,70 L503,74 L499,76 L500,80 M525,88 L519,88 L515,90 L511,92 M345,39 L346,33 L342,32 L345,27 L341,23 L342,18 M370,35 L370,29 L367,29 L367,17 M367,17 L363,16 L358,17 L355,17 L350,18 L345,16 L342,18 M328,16 L332,17 L339,15 M342,18 L339,15 M257,17 L258,13 L253,11 L253,6 M257,17 L261,15 L264,14 L270,13 L272,11 L278,12 L283,10 M283,10 L284,6 M253,24 L253,17 L257,17 M237,27 L237,11 L217,11 M217,11 L219,8 L219,6 M261,39 L281,39 L281,46 M291,14 L289,10 L283,10 M281,46 L281,29 L297,29 M395,32 L388,37 M395,32 L398,33 L402,34 L407,39 L412,40 M388,37 L387,41 L389,46 L389,51 L390,54 M390,54 L395,55 L398,59 L403,58 L406,62 M406,62 L408,57 L410,54 L414,49 M414,49 L412,49 L412,40 M412,13 L407,15 L404,18 L399,21 L396,25 M425,23 L421,26 L419,32 L419,33 L413,38 L412,40 M396,25 L395,32 M370,35 L376,37 L378,35 L383,35 L388,37 M376,64 L381,60 L384,57 L386,58 L390,54 M408,74 L405,71 L406,66 L406,62 M437,52 L431,52 L428,50 L423,52 L418,50 L414,49 M437,52 L439,54 M439,54 L439,58 L437,65 L434,68 M431,24 L431,27 L433,32 L433,35 L436,42 L434,46 L437,50 L437,52 M473,74 L473,65 L489,65 L489,49 M473,74 L467,73 M467,73 L465,68 L463,65 L459,61 L458,57 L458,56 L455,51 M480,42 L483,47 L489,49 M480,42 L477,42 L469,42 L466,42 L461,42 M461,42 L457,45 L455,51 M496,50 L489,49 M476,76 L473,74 M455,83 L457,80 L464,78 L467,73 M439,54 L442,54 L445,53 L452,50 L455,51 M485,23 L485,28 L482,31 L481,37 L480,42 M456,22 L455,24 L457,32 L458,33 L458,37 L461,42 M292,410 L286,410 L286,398 L275,398 M292,410 L293,413 L291,420 L295,422 L294,427 M246,419 L246,399 L263,399 M275,398 L270,400 L265,397 L263,399 M227,386 L241,386 L241,371 L248,371 M263,399 L263,387 L248,387 L248,371 M243,356 L239,353 L234,352 L234,350 L228,348 L225,346 M243,356 L243,370 L248,370 M207,352 L214,351 L215,351 L221,347 L225,346 M275,398 L275,388 L287,388 L287,368 M248,370 L250,372 L255,369 L258,369 L265,368 L267,369 L270,367 L277,364 L279,364 L283,365 M283,365 L287,368 M245,280 L245,292 L255,292 M255,292 L266,292 L266,293 L291,293 M232,284 L232,316 L225,316 M225,316 L229,316 L229,321 M229,321 L229,318 L255,318 M255,292 L255,292 L255,318 M194,332 L196,330 L198,325 L200,321 L202,318 L205,313 M194,332 L180,332 L180,323 L170,323 M171,312 L170,312 L170,323 M171,312 L182,312 L182,298 L188,298 M205,313 L205,309 L197,309 L197,300 M188,298 L188,300 L197,300 M201,350 L200,345 L197,340 L194,334 L194,332 M225,346 L227,341 L226,337 L228,334 L230,329 L228,326 L229,321 M225,316 L217,316 L217,313 L205,313 M153,340 L153,323 L170,323 M151,292 L163,292 L163,312 L171,312 M176,277 L177,280 L179,286 L183,289 L185,291 L185,294 L188,298 M213,279 L212,284 L210,286 L206,288 L205,293 L199,296 L197,300 M362,430 L362,426 L365,423 L367,417 L365,416 L368,410 L368,407 M362,430 L357,431 L354,431 L350,434 L346,432 L340,434 M368,407 L364,404 L362,404 L355,402 L351,402 L350,398 L344,399 L342,396 L336,394 L333,393 M340,434 L340,426 L328,426 L328,420 M328,420 L330,417 L331,411 L330,407 L331,402 L331,398 L333,393 M372,444 L371,441 L368,439 L363,435 L362,430 M379,400 L379,407 L368,407 M331,460 L340,460 L340,434 M301,430 L317,430 L317,420 L328,420 M203,583 L199,585 L196,582 L192,584 L186,585 L182,585 L178,585 M182,541 L182,557 L165,557 M205,554 L205,541 L189,541 M165,557 L165,574 L178,574 L178,585 M228,522 L228,526 L232,526 L232,536 M228,522 L249,522 L249,504 M232,536 L240,536 L240,537 L256,537 M256,537 L271,537 L271,515 M249,504 L255,507 L255,509 L261,511 L265,512 L266,516 L271,515 M226,547 L226,536 L232,536 M214,513 L228,513 L228,522 M242,483 L249,483 L249,504 M266,559 L262,555 L260,550 L262,547 L257,541 L256,537 M275,515 L271,515 M149,37 L149,27 L158,27 L158,11 M156,6 L158,11 M217,11 L208,11 L208,12 L201,12 M200,6 L201,8 L201,12 M172,49 L172,26 L191,26 M172,49 L183,49 L183,73 M212,50 L202,50 L202,74 M212,50 L211,47 L204,45 L204,40 L201,37 L197,34 L193,31 L192,26 M202,74 L196,77 L191,76 M183,73 L183,76 L191,76 M154,46 L160,46 L164,48 L168,47 L172,49 M158,11 L160,13 L164,13 L170,14 L171,17 L177,19 L181,23 L183,23 L186,26 L191,26 M159,83 L164,79 L167,79 L172,78 L174,75 L178,76 L183,73 M225,46 L222,46 L215,47 L212,50 M203,75 L208,75 L210,75 L214,77 L221,74 L225,76 L227,75 L231,76 L235,78 L240,76 M203,75 L202,74 M240,76 L242,72 L244,69 L243,64 M201,12 L200,14 L198,20 L193,23 L192,26 M203,75 L206,79 L209,81 L209,85 L213,88 L214,93 L217,96 L218,102 M184,115 L184,76 L191,76 M218,102 L214,104 L212,109 L210,108 L205,114 L203,117 L200,119 L195,121 M281,46 L281,55 L283,55 M254,58 L256,62 L260,65 L264,65 L269,69 M269,69 L272,66 L277,63 L279,59 L283,55 M306,59 L304,62 L297,64 M283,55 L286,59 L290,61 L292,62 L297,64 M327,138 L324,136 M340,101 L337,102 L331,103 L328,104 L327,107 L321,108 M321,108 L322,114 L324,117 L323,119 L325,123 L323,130 L322,133 L324,136 M265,127 L267,122 M297,147 L297,143 L303,142 L304,138 M267,122 L272,120 L274,120 L280,119 L282,121 L288,119 L292,120 L296,121 M296,121 L296,138 L304,138 M324,136 L318,136 L316,138 L311,136 L304,138 M253,88 L253,81 L242,81 M253,88 L255,93 L256,98 L255,101 L259,106 M242,81 L240,86 L237,87 L234,92 L231,97 L228,98 L225,103 M259,106 L254,106 L248,107 L247,110 L241,111 L234,111 L232,111 M232,111 L229,105 L225,103 M240,76 L242,81 M270,76 L269,69 M270,76 L267,79 L263,80 L259,84 L256,86 L253,88 M218,102 L218,103 L225,103 M264,110 L264,117 L267,122 M264,110 L259,106 M231,135 L232,135 L232,111 M233,645 L216,645 L216,647 L205,647 M233,645 L237,647 M205,647 L202,652 L198,652 L196,657 M196,657 L197,657 L197,666 M259,633 L256,635 L253,636 L246,638 L245,641 L241,643 L237,647 M199,620 L205,620 L205,647 M199,620 L204,618 L206,613 M226,617 L233,617 L233,645 M147,666 L151,662 L153,659 L155,653 L158,652 L162,646 L163,644 M163,644 L167,646 L173,648 L174,648 L179,652 L184,651 L189,652 L191,655 L196,657 M805,525 L806,527 M587,366 L603,366 L603,348 M587,366 L584,364 L580,361 L574,362 L572,360 L567,357 M567,357 L567,355 L570,350 L572,344 L573,342 M573,342 L577,342 L583,339 L586,337 L590,336 L595,335 M603,348 L601,342 L599,338 L597,335 M597,335 L595,335 M615,353 L613,353 L608,349 L603,348 M614,379 L610,379 L605,376 L603,377 L599,377 L592,374 L590,376 M590,376 L590,366 L587,366 M566,357 L562,353 L557,354 L556,348 L552,347 L548,346 L545,341 M545,341 L548,338 L547,334 L549,328 M563,324 L564,328 L566,330 L571,333 L569,338 L573,342 M584,317 L587,320 L589,325 L592,329 L593,333 L595,335 M611,320 L619,320 L619,331 L630,331 M611,320 L611,325 L597,325 L597,335 M627,345 L627,335 L630,335 L630,331 M611,320 L612,316 L611,311 M629,424 L626,424 L620,426 L615,427 L612,427 L608,428 M637,445 L628,445 L628,455 L619,455 M608,428 L619,428 L619,455 M608,403 L602,406 M602,406 L603,406 L603,425 M608,428 L603,425 M577,472 L586,472 L586,461 L597,461 M601,488 L601,463 L602,463 M597,461 L602,463 M629,475 L629,464 L617,464 L617,458 M602,463 L611,463 L611,458 L617,458 M617,458 L619,455 M558,465 L558,457 L565,457 L565,447 M597,461 L595,456 L591,453 L589,450 L589,444 L585,441 M565,447 L571,446 L571,443 L578,443 L582,442 L585,441 M603,425 L603,433 L589,433 M585,441 L586,436 L589,433 M590,376 L587,382 M602,406 L598,404 L594,402 M587,382 L594,382 L594,402 M528,313 L529,317 L527,321 L527,327 L525,330 L523,334 M527,312 L522,314 L521,315 L517,311 L512,311 L505,314 L502,314 L499,313 M523,334 L518,336 L515,334 L510,335 L504,336 L501,338 M499,313 L499,323 L490,323 L490,329 M490,329 L501,329 L501,338 M535,314 L528,313 M524,286 L524,312 L527,312 M533,346 L530,343 L526,339 L524,337 L523,334 M533,346 L545,346 L545,341 M494,291 L495,296 L495,299 L495,306 L499,310 L499,313 M532,350 L528,351 L523,356 L520,358 L515,360 L512,360 L508,363 M532,350 L533,346 M508,363 L508,358 L505,354 L503,350 L502,346 L501,343 L501,338 M474,332 L480,332 L480,329 L490,329 M507,366 L508,363 M688,300 L684,299 L681,300 L675,301 L671,298 L666,297 L664,299 M686,325 L671,325 L671,321 L661,321 M664,299 L663,302 L663,308 L662,311 L663,316 L661,321 M616,306 L616,305 L634,305 M630,331 L633,327 L637,327 L641,323 M634,305 L637,308 L636,314 L638,316 L641,319 L641,323 M659,344 L658,341 L657,335 L656,330 L656,326 M641,323 L646,323 L649,326 L656,326 M656,326 L656,321 L661,321 M803,421 L803,425 L784,425 M803,421 L806,418 M806,409 L793,409 L793,395 L786,395 M786,395 L786,407 L775,407 L775,413 M775,413 L778,417 L782,422 L784,425 M806,433 L804,429 L804,424 L803,421 M776,443 L777,440 L781,435 L783,430 L784,425 M795,369 L793,373 L792,375 L788,382 L785,385 L784,388 M784,388 L786,395 M753,432 L756,426 L757,422 L761,421 L762,415 M762,415 L767,415 L771,413 L775,413 M732,401 L732,399 L733,393 M732,401 L737,400 L741,404 L745,403 L748,404 L750,403 L756,404 M733,393 L735,388 L739,388 L744,386 L745,381 L748,380 L750,379 L754,374 M756,404 L756,386 L765,386 M765,386 L763,383 L759,379 L755,378 L754,374 M728,406 L732,401 M720,374 L723,377 L726,383 L728,387 L730,388 L733,393 M762,415 L756,415 L756,404 M784,388 L779,386 L774,388 L769,386 L765,386 M660,232 L658,238 L654,242 L653,245 M685,263 L685,265 L675,265 M675,265 L674,263 L670,260 L664,256 L664,255 L659,250 L657,248 L653,245 M623,229 L628,232 L630,236 L632,237 L635,240 L639,247 L641,249 M626,214 L622,218 M653,245 L641,245 L641,249 M612,265 L629,265 L629,256 L638,256 M641,249 L638,249 L638,256 M642,75 L636,74 L636,75 L630,76 L625,76 L623,77 L618,79 M653,84 L651,89 L646,88 L644,94 L642,96 L638,100 L636,102 L632,105 M632,105 L626,104 L624,101 L620,97 L615,95 M615,95 L616,91 L615,88 L617,85 L618,79 M601,56 L604,58 L606,63 M574,69 L583,69 L583,78 L589,78 M589,78 L593,73 L595,72 L601,71 L604,65 L606,63 M632,49 L628,51 L625,54 L620,57 L616,59 L614,61 L610,64 M618,79 L618,74 L614,71 L614,67 L610,64 M610,64 L606,63 M646,123 L636,123 L636,117 M646,123 L647,128 L646,130 L647,135 L649,138 M636,117 L636,135 L611,135 M611,135 L637,135 L637,155 M649,138 L649,146 L637,146 L637,155 M659,115 L656,118 L649,120 L646,123 M632,105 L635,107 L634,115 L636,117 M674,146 L670,146 L667,144 L663,140 L659,142 L651,139 L649,138 M637,157 L637,155 M549,227 L549,217 L548,217 M588,225 L588,211 L568,211 L568,203 M568,203 L559,203 L559,217 L548,217 M526,176 L530,180 L535,181 L537,184 M511,212 L514,210 L522,208 L526,208 L528,206 L534,207 M537,184 L537,197 L534,197 L534,207 M548,217 L545,213 L541,212 L539,210 L534,207 M616,175 L610,174 M606,215 L603,213 L602,207 L601,202 L599,198 L597,196 M610,174 L609,180 L605,181 L604,186 L600,191 L600,194 L597,196 M563,85 L567,89 L568,91 L570,95 M589,78 L590,80 L590,86 L590,91 M570,95 L576,93 L580,93 L585,92 L590,91 M615,95 L611,98 L608,99 L601,102 M590,91 L592,93 L594,95 L598,98 L601,102 M609,134 L607,131 L606,127 L607,121 L605,119 L601,117 L603,114 L599,108 M599,108 L601,108 L601,102 M540,97 L541,102 M570,95 L570,98 L568,102 L566,106 L568,110 L565,115 M541,102 L546,104 L548,106 L553,108 L556,109 L560,114 L565,115 M513,120 L520,121 L525,122 L528,122 M541,102 L539,104 L537,108 L533,111 L533,115 L532,117 L528,122 M396,25 L392,20 L390,18 L387,14 L386,10 L383,8 M367,17 L368,15 M368,15 L370,14 L376,13 L381,8 L383,8 M384,6 L383,8 M349,359 L349,392 L332,392 M349,359 L320,359 L320,344 M320,344 L315,347 L313,351 L312,354 L311,357 L306,361 L302,368 L301,370 M301,370 L305,374 L307,376 L310,382 L310,386 L315,388 M315,388 L320,391 L322,388 L326,392 L332,392 M333,393 L332,392 M332,308 L329,311 L328,316 L324,319 L321,323 L320,328 L319,330 L315,334 M315,334 L318,338 L320,344 M292,410 L296,407 L296,406 L299,402 L304,401 L306,395 L310,394 L314,389 L315,388 M287,368 L287,370 L301,370 M294,329 L291,332 L290,336 L284,339 L284,344 L280,348 M294,329 L287,329 L287,316 M287,316 L283,314 L280,316 L272,317 L272,318 L265,320 L261,320 L258,321 M280,348 L273,348 L273,339 L260,339 M260,339 L260,321 L258,321 M283,365 L283,355 L280,355 L280,348 M315,334 L308,334 L308,329 L294,329 M291,293 L292,299 L289,301 L289,308 L287,313 L287,316 M255,318 L258,321 M243,356 L248,356 L248,339 L260,339 M139,536 L141,538 L145,541 L148,546 L151,549 L154,549 L158,554 L162,556 M139,536 L139,566 L118,566 M162,556 L141,556 L141,580 L131,580 M118,566 L118,580 L131,580 M138,530 L138,536 L139,536 M165,557 L162,556 M135,622 L133,617 L133,612 L134,607 L134,603 L131,599 L131,595 M135,622 L162,622 L162,633 M168,597 L133,597 L133,589 M168,597 L171,597 L171,620 M131,595 L133,589 M171,620 L162,620 L162,633 M112,640 L114,638 L118,636 L120,631 L124,629 L130,628 L133,624 L135,622 M96,609 L99,607 L103,605 L108,605 L112,601 L114,600 L120,601 L121,599 L129,595 L131,595 M163,644 L163,633 L162,633 M178,585 L178,597 L168,597 M131,580 L133,580 L133,589 M199,620 L184,620 L184,620 L171,620 M296,74 L292,77 L286,79 L284,81 L280,83 M296,74 L299,77 L302,80 L306,83 L308,88 M308,88 L307,94 L307,98 L306,101 M281,96 L286,98 L290,100 L294,101 L299,102 L303,104 M281,96 L279,92 L278,87 L280,83 M306,101 L303,104 M270,76 L273,78 L278,80 L280,83 M297,64 L295,70 L296,74 M327,75 L324,77 L321,82 L316,81 L312,84 L308,88 M321,108 L316,108 L316,101 L306,101 M264,110 L266,105 L272,103 L273,100 L278,98 L281,96 M296,121 L296,104 L303,104 M566,357 L566,363 L557,363 L557,370 M587,382 L580,382 L580,388 L568,388 M568,388 L566,384 L562,382 L561,376 L558,374 L557,370 M532,350 L533,353 L535,356 L538,363 L538,365 L543,370 L543,373 M557,370 L557,373 L543,373 M526,383 L530,381 L537,381 M543,373 L543,381 L537,381 M643,273 L649,272 L651,276 L656,275 L662,274 L665,276 M643,273 L641,275 L636,281 L635,284 M635,284 L638,286 L636,290 L640,296 M640,296 L649,296 L649,298 L663,298 M663,298 L665,298 L665,276 M675,265 L671,267 L669,272 L665,276 M638,256 L639,262 L643,264 L644,269 L643,273 M613,279 L622,279 L622,284 L635,284 M634,305 L636,298 L640,296 M568,203 L568,201 L570,194 M537,184 L543,181 L548,179 L551,179 M570,194 L566,192 L565,188 L562,186 L557,186 L553,182 L551,179 M597,196 L594,196 L588,195 L584,195 L579,193 L575,191 M570,194 L575,191 M525,156 L525,147 L537,147 M528,122 L533,124 L532,129 L537,133 M537,147 L537,147 L537,133 M551,179 L552,176 L556,169 L556,167 L556,162 L558,157 M537,147 L542,147 L545,153 L548,154 L555,154 L558,157 M565,115 L567,120 M537,133 L539,130 L543,128 L550,129 L552,127 L557,127 L560,122 L563,122 L567,120 M599,108 L596,111 L594,112 L587,113 L583,113 L580,115 L576,120 L574,120 L569,121 M569,121 L567,120 M368,15 L364,11 L365,6 M339,15 L339,6 M796,617 L799,614 L800,611 M783,583 L788,584 L791,582 L795,581 L800,582 M783,583 L780,579 L778,575 L775,573 L771,568 M801,574 L801,570 L806,570 L806,560 M771,568 L771,556 L788,556 L788,546 M788,546 L796,546 L796,560 L806,560 M777,601 L777,583 L783,583 M760,568 L766,570 L771,568 M564,402 L560,403 L552,401 L549,401 M564,402 L569,402 L569,410 M569,412 L566,417 L563,419 L561,422 L556,425 L555,431 M569,412 L569,410 M549,401 L544,405 L543,408 L539,412 L536,415 M536,415 L540,418 L540,420 L544,425 L545,425 L550,430 M550,430 L555,431 M568,388 L565,393 L565,398 L564,402 M537,381 L540,386 L540,391 L543,392 L549,396 L549,401 M594,402 L589,402 L586,406 L579,406 L576,407 L571,407 L569,410 M565,447 L565,441 L555,441 L555,431 M589,433 L587,431 L584,425 L580,426 L578,420 L576,420 L573,414 L569,412 M512,414 L523,414 L523,415 L536,415 M529,446 L537,446 L537,430 L550,430 M574,136 L571,141 L568,146 L566,148 L564,152 L561,156 M574,136 L580,137 L581,141 L585,139 L590,141 L596,141 L598,145 M561,156 L561,171 L583,171 M598,145 L600,149 L600,153 L598,159 L599,164 M599,164 L596,164 L590,169 L589,170 L583,171 M558,157 L561,156 M569,121 L570,127 L573,130 L574,136 M609,134 L606,137 L602,140 L598,145 M575,191 L576,188 L580,185 L579,178 L583,175 L583,171 M610,174 L606,171 L604,168 L599,164" fill="none" stroke="#606060" stroke-width="0.98"/>
<path d="M4,706.5 L4.9,706.5 L9.9,704.6 L14.8,702.8 L18.5,702.2 L19.1,699.1 L23.4,699.7 L26.5,699.1 L29.6,698.5 L30.2,701.6 L28.9,704 L26.5,704.6 L27.1,708.9 L30.2,707.7 L35.7,706.5 L41.9,706.1 L45.6,705.9 L46.2,704 L48.6,705.9 L46.8,707.7 L45.6,710.8 L45,713.9 L44.3,716.3 L47.4,715.7 L50.5,715.7 L51.1,719.4 L51.7,723.1 L52.3,725 L51.1,726.6 L54.2,725.6 L57.9,725 L59.7,723.7 L61,726.2 L64,727.4 L66.5,728 L68.3,729.3 L70.2,726.8 L72,727.4 L72.7,730.5 L73.9,733 L75.7,734.8 L76.4,737.3 L78.8,739.7 L81.3,741.6 L81.9,744 L85,742.8 L87.4,741 L89.9,741.6 L92.4,742.8 L97.3,743.4 L98.5,746.5 L102.2,747.7 L105.9,750.2 L107.1,753.9 L104.7,755.1 L103.4,758.8 L108,762 L113,752 L118,745 L122,741 L128,741 L133,740 L140,745 L140,745 L144.9,746.2 L147.4,751.1 L152.3,754.8 L158.5,753.6 L157.2,748.7 L158.5,743.7 L156,738.8 L152.3,733.9 L150.5,729 L149.9,724 L152.3,721.6 L153.5,716.7 L151.1,710.5 L156,711.7 L157.2,716.7 L155.4,720.3 L159.7,724 L164.6,726.5 L170.8,729 L176.9,731.4 L180.6,736.4 L183.1,740 L180.6,742.5 L174.5,745 L169.6,746.2 L170.8,747.4 L176.9,746.2 L183.1,745.6 L189.3,746.2 L194.2,748.7 L199.1,751.7 L204,754.8 L209,757.3 L213.9,758.5 L241,758.5 L240.4,757.3 L238.5,754.8 L234.8,753.6 L231.1,752.4 L228.7,748.7 L226.2,745 L222.5,743.7 L218.8,741.3 L213.9,742.5 L210.2,740 L205.3,737.6 L200.3,737 L197.9,733.9 L194.2,729 L189.3,724 L184.3,719.1 L181.9,716.7 L185.6,715.4 L189.3,713 L188,709.9 L191.7,706.8 L193,701.9 L195.4,705.6 L199.1,701.9 L201.6,696.9 L205.3,695.7 L207.7,690.8 L205.3,687.1 L204,682.2 L204,677.2 L204,680.9 L201.6,682.2 L198.5,684.6 L197.3,688.9 L195.4,693.3 L191.7,695.1 L188,694.5 L185.6,691.4 L185,688.3 L181.9,688.9 L178.2,687.7 L176.3,684.6 L176.9,681.6 L180.6,679.7 L185.6,680.3 L189.3,676 L193,671.7 L195.4,668.6 L197.9,667.4 L201.6,666.8 L205.3,667.4 L208.3,664.9 L210.8,661.8 L214.9,658.5 L217.1,654.8 L213.5,654 L212.7,651.8 L217.1,650.3 L220.1,651.1 L218.6,653.3 L221.6,655.5 L227.5,653.3 L233.4,650.3 L240,648.1 L240.8,645.9 L252.6,645.9 L255.6,646.6 L262.9,648.1 L271.8,647.4 L277.7,648.9 L283.6,651.1 L281.8,651.7 L285.5,648.7 L289.9,647.6 L294.3,649.5 L298.7,651.7 L301,653.9 L303.9,653.2 L306.1,651 L306.6,647.3 L306.9,641.4 L306.9,636.9 L308.3,632.5 L306.1,631 L306.9,628.8 L309.1,628.8 L310.6,625.1 L312.8,622.2 L315.7,623.6 L319.4,625.1 L320.6,629.5 L320.9,635.5 L320.2,639.9 L321.6,644.3 L323.9,648 L326.8,647.3 L327.5,650.2 L329.8,653.9 L332.7,656.9 L334.9,658.3 L334.2,659.8 L330.5,660.6 L325.3,661.3 L320.9,662 L316.5,662.8 L312.8,663.5 L312.8,664.5 L320.9,663.5 L329.8,663.1 L337.1,662 L342.3,660.6 L343.1,651.7 L344.5,654.7 L347.5,656.1 L350.4,651 L353.4,653.2 L356.4,647.3 L359.3,645.8 L360,642.8 L362.3,642.8 L363,645.1 L360,648 L357.1,651 L356.4,654.7 L353.4,656.9 L350.4,657.9 L360.8,655.7 L368.2,654.2 L369.6,650.2 L374.1,647.3 L377,644.3 L378.5,638.4 L375.6,632.5 L377.8,631.8 L380,635.5 L382.2,638.4 L383.7,642.8 L385.9,636.9 L387.4,631 L389.6,631.8 L388.8,636.9 L390.3,640.6 L392.5,642.8 L397.7,643.6 L391.8,646.1 L385.9,647.6 L378.5,649.8 L375.6,652.4 L382.9,651 L390.3,649.5 L397.7,648.7 L410,647.3 L408.9,647.8 L416.2,648.1 L416.2,644.4 L419.2,642.2 L423.6,642.9 L428.1,638.5 L431.8,639.2 L429.5,642.2 L434,643.6 L438.4,641.4 L444.3,640.7 L448,639.2 L449.5,642.2 L452.4,641.4 L453.2,645.1 L455.4,647.3 L451.7,648.8 L447.3,646.6 L442.8,647.3 L439.9,648.4 L444.3,652.5 L453.2,655.5 L462,658.7 L469.4,662.1 L476.8,666.5 L473.9,656.9 L476.8,659.1 L480.5,657.7 L482.7,659.9 L487.1,658.4 L491.6,656.2 L494.5,653.2 L497.5,653.2 L496,656.9 L491.6,660.6 L487.1,662.8 L484.2,665.8 L485.7,669.5 L490.1,671.7 L494.5,673.9 L499,676.1 L501.9,679.1 L506.4,678.3 L508.6,679.8 L504.9,681.3 L500.4,682 L497.5,679.1 L493.1,676.9 L488.6,675.4 L494.5,680.6 L500.4,685 L506.4,687.9 L510,690.9 L513,695.3 L515.2,701.2 L514.9,707.1 L513.7,711.6 L518.2,710.8 L522.6,711.6 L527,709.4 L532.9,708.6 L538.8,707.9 L543.3,704.9 L547.7,706.4 L553.6,704.2 L560,699.8 L559.3,698.8 L566.2,694.5 L573.1,691 L580,689.3 L585.2,691.9 L586,688.4 L581.7,686.7 L580,684.1 L583.4,682.4 L586,678.1 L589.5,677.2 L592.9,674.7 L597.2,673.8 L599,676.4 L604.1,674.7 L611,674.1 L614.5,677.2 L619.7,680.7 L624.8,684.1 L630,686.7 L635.2,690.2 L638.6,694.5 L642.1,700.5 L645.5,705.7 L650.7,710 L656.7,712.6 L657.6,716.9 L656.7,722.1 L657.6,726.4 L661,729 L666.2,732.4 L669.7,735.9 L673.1,741 L676.6,744.5 L680,748.8 L681.7,753.1 L683.4,756.6 L681.7,760.9 L682.6,763.4 L685.2,758.3 L688.6,755.7 L693.8,756.6 L700.7,758.3 L702.4,763.4 L704.1,767.8 L705.9,772.9 L708.4,779 L712.8,782.4 L713.6,786.7 L709.3,788.4 L705.9,791 L705,794.5 L700,800 L700,810 L4,810Z" fill="#004060" stroke="#000" stroke-width="1.2"/>
<path d="M801,575 L808,575 L808,645 L801,645 L800,630 L802,615 L800,600 L802,588Z" fill="#004060" stroke="#000" stroke-width="1.2"/>
<path d="M16,719.4 L19.7,717.6 L24.6,715.7 L28.3,716.9 L31.4,719.4 L34.5,721.3 L39.4,721.3 L38.2,723.7 L35.7,725 L35.1,728.6 L30.8,729.9 L27.1,727.4 L23.4,725.6 L19.7,723.7 L16.6,721.9Z" fill="#5c504c" stroke="#000" stroke-width="1.2"/>
<path d="M4.9,711.4 L8,712 L8.6,715.7 L12.3,718.2 L13.5,719.4 L9.9,720 L4.9,720Z" fill="#5c504c" stroke="#000" stroke-width="1.2"/>
<path d="M67.1,745.3 L70.2,741.6 L73.9,739.7 L75.7,742.8 L78.2,747.1 L81.3,749 L80,752 L76.4,751.4 L71.4,749.6 L67.7,747.1Z" fill="#5c504c" stroke="#000" stroke-width="1.2"/>
<path d="M523.3,712.3 L527,714.5 L530.7,716 L533.7,719 L538.8,718.7 L544.8,716 L550.7,712.3 L556.6,708.6 L560,706.4 L560,705.7 L556.6,707.7 L550.7,711.3 L544.8,714.8 L538.8,717.5 L534.1,717.8 L531.2,714.8 L527.3,713.4Z" fill="#5c504c" stroke="#000" stroke-width="1.2"/>
<path d="M533.4,719.5 L540.3,716.9 L547.2,713.4 L554.1,710 L560.2,705.7 L569.7,698.8 L569.3,698.3 L559.7,704.8 L553.8,709 L546.9,712.4 L540,715.9 L533.1,718.4Z" fill="#5c504c" stroke="#000" stroke-width="1.2"/>
<path d="M291.4,662 L298.7,662.8 L306.1,660.6 L308.3,659.8 L306.9,663.5 L300.2,664.3Z" fill="#5c504c" stroke="#000" stroke-width="1.2"/>
<path d="M224,670h1v1h-1zM228,670h1v1h-1zM223,671h1v1h-1zM226,671h1v1h-1zM222,672h2v1h-2zM225,672h1v1h-1zM227,672h1v1h-1zM220,673h3v1h-3zM225,673h2v1h-2zM219,674h7v1h-7zM219,675h1v1h-1zM221,675h3v1h-3zM225,675h2v1h-2zM217,676h1v1h-1zM219,676h9v1h-9zM204,677h1v1h-1zM213,677h5v1h-5zM219,677h1v1h-1zM221,677h7v1h-7zM207,678h7v1h-7zM216,678h1v1h-1zM219,678h4v1h-4zM224,678h1v1h-1zM226,678h2v1h-2zM204,679h1v1h-1zM208,679h1v1h-1zM211,679h1v1h-1zM213,679h11v1h-11zM227,679h1v1h-1zM204,680h1v1h-1zM207,680h1v1h-1zM209,680h8v1h-8zM218,680h3v1h-3zM222,680h1v1h-1zM224,680h4v1h-4zM204,681h12v1h-12zM217,681h4v1h-4zM222,681h1v1h-1zM224,681h3v1h-3zM204,682h2v1h-2zM207,682h1v1h-1zM214,682h1v1h-1zM216,682h10v1h-10zM204,683h1v1h-1zM208,683h4v1h-4zM214,683h1v1h-1zM218,683h1v1h-1zM220,683h1v1h-1zM223,683h3v1h-3zM208,684h1v1h-1zM210,684h1v1h-1zM216,684h11v1h-11zM207,685h2v1h-2zM210,685h1v1h-1zM212,685h1v1h-1zM214,685h10v1h-10zM226,685h1v1h-1zM205,686h1v1h-1zM207,686h9v1h-9zM217,686h3v1h-3zM221,686h3v1h-3zM206,687h5v1h-5zM212,687h10v1h-10zM223,687h1v1h-1zM225,687h1v1h-1zM207,688h12v1h-12zM220,688h3v1h-3zM224,688h2v1h-2zM207,689h10v1h-10zM218,689h1v1h-1zM220,689h4v1h-4zM225,689h1v1h-1zM208,690h5v1h-5zM214,690h2v1h-2zM218,690h7v1h-7zM207,691h1v1h-1zM209,691h1v1h-1zM211,691h4v1h-4zM217,691h8v1h-8zM207,692h4v1h-4zM212,692h11v1h-11zM224,692h1v1h-1zM208,693h5v1h-5zM214,693h10v1h-10zM209,694h2v1h-2zM212,694h2v1h-2zM215,694h2v1h-2zM218,694h1v1h-1zM220,694h4v1h-4zM206,695h2v1h-2zM209,695h2v1h-2zM212,695h2v1h-2zM217,695h1v1h-1zM219,695h2v1h-2zM222,695h1v1h-1zM203,696h4v1h-4zM208,696h5v1h-5zM214,696h1v1h-1zM218,696h1v1h-1zM220,696h2v1h-2zM203,697h5v1h-5zM209,697h1v1h-1zM212,697h2v1h-2zM216,697h2v1h-2zM219,697h2v1h-2zM203,698h2v1h-2zM207,698h1v1h-1zM209,698h1v1h-1zM211,698h2v1h-2zM214,698h1v1h-1zM216,698h2v1h-2zM220,698h1v1h-1zM200,699h1v1h-1zM202,699h4v1h-4zM207,699h15v1h-15zM200,700h3v1h-3zM204,700h7v1h-7zM212,700h5v1h-5zM219,700h2v1h-2zM199,701h5v1h-5zM205,701h1v1h-1zM207,701h14v1h-14zM198,702h5v1h-5zM205,702h5v1h-5zM211,702h10v1h-10zM197,703h1v1h-1zM199,703h3v1h-3zM204,703h1v1h-1zM206,703h2v1h-2zM209,703h9v1h-9zM219,703h2v1h-2zM192,704h3v1h-3zM197,704h2v1h-2zM200,704h16v1h-16zM217,704h3v1h-3zM192,705h3v1h-3zM196,705h1v1h-1zM199,705h2v1h-2zM203,705h5v1h-5zM209,705h2v1h-2zM213,705h7v1h-7zM192,706h18v1h-18zM211,706h1v1h-1zM213,706h4v1h-4zM218,706h2v1h-2zM191,707h10v1h-10zM202,707h7v1h-7zM211,707h2v1h-2zM190,708h8v1h-8zM199,708h2v1h-2zM203,708h9v1h-9zM189,709h1v1h-1zM192,709h6v1h-6zM199,709h6v1h-6zM206,709h5v1h-5zM188,710h1v1h-1zM191,710h7v1h-7zM199,710h7v1h-7zM208,710h2v1h-2zM189,711h5v1h-5zM196,711h4v1h-4zM201,711h1v1h-1zM203,711h1v1h-1zM206,711h3v1h-3zM190,712h6v1h-6zM197,712h2v1h-2zM201,712h1v1h-1zM203,712h2v1h-2zM189,713h14v1h-14zM206,713h1v1h-1zM187,714h7v1h-7zM196,714h10v1h-10zM185,715h2v1h-2zM192,715h2v1h-2zM195,715h8v1h-8zM204,715h1v1h-1zM185,716h1v1h-1zM187,716h3v1h-3zM191,716h1v1h-1zM193,716h1v1h-1zM196,716h5v1h-5zM203,716h1v1h-1zM184,717h2v1h-2zM190,717h1v1h-1zM192,717h2v1h-2zM198,717h5v1h-5zM185,718h1v1h-1zM187,718h1v1h-1zM189,718h4v1h-4zM199,718h4v1h-4zM185,719h3v1h-3zM189,719h3v1h-3zM196,719h1v1h-1zM199,719h3v1h-3zM187,720h1v1h-1zM189,720h8v1h-8zM199,720h1v1h-1zM201,720h1v1h-1zM188,721h2v1h-2zM191,721h11v1h-11zM188,722h3v1h-3zM193,722h9v1h-9zM189,723h1v1h-1zM191,723h11v1h-11zM190,724h11v1h-11zM193,725h8v1h-8zM193,726h6v1h-6zM201,726h1v1h-1zM193,727h6v1h-6zM202,727h1v1h-1zM196,728h3v1h-3zM200,728h1v1h-1zM195,729h4v1h-4zM200,729h2v1h-2zM198,730h3v1h-3zM198,731h1v1h-1zM200,731h1v1h-1zM199,732h1v1h-1zM198,733h1v1h-1z" fill="#000"/>
<path d="M216,676h1v1h-1zM220,677h1v1h-1zM205,678h2v1h-2zM208,680h1v1h-1zM217,680h1v1h-1zM217,683h1v1h-1zM226,683h1v1h-1zM215,684h1v1h-1zM224,685h1v1h-1zM220,686h1v1h-1zM222,687h1v1h-1zM224,689h1v1h-1zM215,691h2v1h-2zM206,693h2v1h-2zM217,694h1v1h-1zM211,695h1v1h-1zM222,696h1v1h-1zM214,697h2v1h-2zM221,697h1v1h-1zM205,698h1v1h-1zM218,698h2v1h-2zM221,698h1v1h-1zM206,699h1v1h-1zM211,700h1v1h-1zM218,700h1v1h-1zM218,703h1v1h-1zM197,705h2v1h-2zM212,706h1v1h-1zM201,708h2v1h-2zM190,710h1v1h-1zM198,710h1v1h-1zM206,710h1v1h-1zM195,711h1v1h-1zM202,711h1v1h-1zM204,711h1v1h-1zM189,712h1v1h-1zM205,713h1v1h-1zM191,715h1v1h-1zM192,716h1v1h-1zM186,717h2v1h-2zM194,717h1v1h-1zM195,719h1v1h-1zM192,726h1v1h-1zM200,726h1v1h-1zM202,726h1v1h-1zM199,727h1v1h-1zM201,730h1v1h-1z" fill="#5c504c"/>
<path d="M152,711h1v1h-1zM154,711h1v1h-1zM152,712h4v1h-4zM153,713h2v1h-2zM153,714h4v1h-4zM154,715h2v1h-2zM154,716h2v1h-2zM156,717h1v1h-1zM152,722h1v1h-1zM155,722h3v1h-3zM152,723h2v1h-2zM155,723h2v1h-2zM158,723h1v1h-1zM151,724h2v1h-2zM154,724h2v1h-2zM157,724h1v1h-1zM159,724h1v1h-1zM151,725h1v1h-1zM153,725h2v1h-2zM156,725h1v1h-1zM162,725h1v1h-1zM152,726h1v1h-1zM155,726h5v1h-5zM163,726h1v1h-1zM151,727h1v1h-1zM153,727h2v1h-2zM156,727h1v1h-1zM160,727h4v1h-4zM157,728h1v1h-1zM161,728h1v1h-1zM166,728h2v1h-2zM156,729h7v1h-7zM165,729h6v1h-6zM159,730h1v1h-1zM161,730h1v1h-1zM164,730h4v1h-4zM170,730h1v1h-1zM158,731h1v1h-1zM160,731h1v1h-1zM169,731h2v1h-2zM175,731h2v1h-2zM161,732h1v1h-1zM164,732h3v1h-3zM168,732h9v1h-9zM163,733h1v1h-1zM168,733h1v1h-1zM170,733h3v1h-3zM175,733h1v1h-1zM162,734h1v1h-1zM164,734h1v1h-1zM170,734h1v1h-1zM173,734h2v1h-2zM177,734h1v1h-1zM163,735h1v1h-1zM173,735h2v1h-2zM177,735h3v1h-3zM162,736h1v1h-1zM169,736h1v1h-1zM171,736h2v1h-2zM175,736h1v1h-1zM177,736h1v1h-1zM179,736h2v1h-2zM162,737h1v1h-1zM165,737h1v1h-1zM169,737h1v1h-1zM171,737h1v1h-1zM173,737h1v1h-1zM175,737h3v1h-3zM179,737h2v1h-2zM162,738h1v1h-1zM164,738h1v1h-1zM169,738h1v1h-1zM174,738h1v1h-1zM179,738h2v1h-2zM162,739h2v1h-2zM169,739h1v1h-1zM172,739h1v1h-1zM174,739h6v1h-6zM162,740h1v1h-1zM164,740h1v1h-1zM168,740h1v1h-1zM171,740h1v1h-1zM173,740h2v1h-2zM176,740h1v1h-1zM178,740h1v1h-1zM162,741h1v1h-1zM165,741h1v1h-1zM167,741h1v1h-1zM170,741h1v1h-1zM173,741h7v1h-7zM162,742h1v1h-1zM166,742h2v1h-2zM169,742h2v1h-2zM174,742h1v1h-1zM178,742h1v1h-1zM180,742h1v1h-1zM164,743h1v1h-1zM167,743h2v1h-2zM170,743h5v1h-5zM176,743h2v1h-2zM160,744h1v1h-1zM163,744h3v1h-3zM168,744h1v1h-1zM170,744h2v1h-2zM174,744h1v1h-1zM160,745h1v1h-1zM162,745h1v1h-1zM165,745h1v1h-1zM169,745h1v1h-1zM171,745h1v1h-1zM158,746h6v1h-6zM166,746h2v1h-2zM158,747h1v1h-1zM160,747h1v1h-1zM162,747h1v1h-1zM167,747h1v1h-1zM161,748h2v1h-2zM158,749h2v1h-2zM158,750h1v1h-1zM160,751h2v1h-2zM161,752h1v1h-1zM163,752h1v1h-1zM162,753h1v1h-1zM161,754h1v1h-1z" fill="#000"/>
<path d="M151,711h1v1h-1zM153,711h1v1h-1zM153,716h1v1h-1zM154,719h1v1h-1zM154,720h1v1h-1zM153,721h2v1h-2zM157,723h1v1h-1zM156,724h1v1h-1zM157,725h3v1h-3zM162,726h1v1h-1zM164,726h1v1h-1zM166,727h1v1h-1zM159,728h2v1h-2zM162,728h1v1h-1zM168,728h2v1h-2zM155,729h1v1h-1zM162,730h2v1h-2zM161,731h1v1h-1zM163,731h1v1h-1zM162,732h2v1h-2zM173,733h1v1h-1zM166,734h4v1h-4zM164,735h1v1h-1zM167,735h2v1h-2zM172,735h1v1h-1zM165,736h1v1h-1zM167,736h1v1h-1zM170,736h1v1h-1zM176,736h1v1h-1zM178,736h1v1h-1zM165,738h3v1h-3zM170,738h3v1h-3zM164,739h2v1h-2zM168,739h1v1h-1zM170,739h2v1h-2zM173,739h1v1h-1zM180,739h3v1h-3zM163,740h1v1h-1zM165,740h2v1h-2zM172,740h1v1h-1zM175,740h1v1h-1zM177,740h1v1h-1zM179,740h2v1h-2zM161,741h1v1h-1zM166,741h1v1h-1zM168,741h1v1h-1zM164,742h2v1h-2zM173,742h1v1h-1zM179,742h1v1h-1zM175,743h1v1h-1zM161,744h2v1h-2zM172,744h1v1h-1zM166,745h3v1h-3zM165,748h1v1h-1zM160,749h1v1h-1zM163,749h1v1h-1zM158,752h2v1h-2zM158,753h1v1h-1z" fill="#5c504c"/>
<path d="M126,741h1v1h-1zM129,741h1v1h-1zM125,742h1v1h-1zM128,742h2v1h-2zM131,742h3v1h-3zM135,742h1v1h-1zM121,743h2v1h-2zM124,743h1v1h-1zM128,743h1v1h-1zM130,743h3v1h-3zM134,743h1v1h-1zM120,744h1v1h-1zM123,744h1v1h-1zM128,744h2v1h-2zM132,744h1v1h-1zM134,744h3v1h-3zM138,744h1v1h-1zM119,745h1v1h-1zM123,745h7v1h-7zM132,745h2v1h-2zM136,745h1v1h-1zM138,745h1v1h-1zM141,745h1v1h-1zM118,746h2v1h-2zM122,746h3v1h-3zM128,746h2v1h-2zM132,746h1v1h-1zM135,746h2v1h-2zM138,746h1v1h-1zM141,746h1v1h-1zM118,747h2v1h-2zM121,747h1v1h-1zM124,747h2v1h-2zM128,747h1v1h-1zM134,747h4v1h-4zM141,747h1v1h-1zM146,747h1v1h-1zM117,748h1v1h-1zM123,748h1v1h-1zM126,748h1v1h-1zM128,748h2v1h-2zM131,748h6v1h-6zM141,748h1v1h-1zM145,748h1v1h-1zM116,749h4v1h-4zM122,749h6v1h-6zM129,749h2v1h-2zM132,749h2v1h-2zM141,749h1v1h-1zM144,749h1v1h-1zM115,750h4v1h-4zM121,750h4v1h-4zM128,750h1v1h-1zM131,750h2v1h-2zM143,750h1v1h-1zM114,751h1v1h-1zM118,751h1v1h-1zM120,751h2v1h-2zM123,751h3v1h-3zM127,751h1v1h-1zM131,751h2v1h-2zM136,751h3v1h-3zM140,751h1v1h-1zM114,752h1v1h-1zM118,752h1v1h-1zM120,752h3v1h-3zM124,752h3v1h-3zM129,752h1v1h-1zM133,752h1v1h-1zM135,752h1v1h-1zM140,752h1v1h-1zM143,752h1v1h-1zM113,753h1v1h-1zM117,753h1v1h-1zM119,753h11v1h-11zM131,753h1v1h-1zM134,753h1v1h-1zM142,753h1v1h-1zM112,754h1v1h-1zM118,754h3v1h-3zM122,754h6v1h-6zM129,754h2v1h-2zM132,754h6v1h-6zM141,754h1v1h-1zM117,755h3v1h-3zM122,755h1v1h-1zM124,755h2v1h-2zM127,755h1v1h-1zM131,755h6v1h-6zM140,755h1v1h-1zM142,755h2v1h-2zM145,755h1v1h-1zM115,756h2v1h-2zM119,756h1v1h-1zM123,756h2v1h-2zM126,756h4v1h-4zM131,756h2v1h-2zM135,756h1v1h-1zM139,756h1v1h-1zM144,756h1v1h-1zM115,757h2v1h-2zM119,757h4v1h-4zM124,757h1v1h-1zM131,757h3v1h-3zM138,757h1v1h-1zM143,757h2v1h-2zM110,758h1v1h-1zM114,758h2v1h-2zM120,758h4v1h-4zM130,758h1v1h-1zM132,758h2v1h-2zM139,758h1v1h-1zM143,758h2v1h-2zM146,758h1v1h-1zM109,759h1v1h-1zM111,759h1v1h-1zM113,759h2v1h-2zM116,759h1v1h-1zM121,759h1v1h-1zM124,759h1v1h-1zM126,759h2v1h-2zM129,759h1v1h-1zM133,759h1v1h-1zM138,759h1v1h-1zM142,759h5v1h-5zM109,760h1v1h-1zM120,760h2v1h-2zM125,760h1v1h-1zM132,760h1v1h-1zM109,761h1v1h-1z" fill="#000"/>
<path d="M124,741h2v1h-2zM127,741h2v1h-2zM134,742h1v1h-1zM120,743h1v1h-1zM127,743h1v1h-1zM135,743h2v1h-2zM124,744h2v1h-2zM130,744h2v1h-2zM133,744h1v1h-1zM120,745h2v1h-2zM135,745h1v1h-1zM137,745h1v1h-1zM142,745h1v1h-1zM131,746h1v1h-1zM133,746h2v1h-2zM116,747h2v1h-2zM129,747h2v1h-2zM144,747h2v1h-2zM125,748h1v1h-1zM130,748h1v1h-1zM121,749h1v1h-1zM142,749h1v1h-1zM139,750h2v1h-2zM115,751h3v1h-3zM119,751h1v1h-1zM119,752h1v1h-1zM123,752h1v1h-1zM131,752h2v1h-2zM134,752h1v1h-1zM146,752h1v1h-1zM115,753h1v1h-1zM130,753h1v1h-1zM113,754h5v1h-5zM140,754h1v1h-1zM142,754h1v1h-1zM144,754h1v1h-1zM116,755h1v1h-1zM120,755h1v1h-1zM123,755h1v1h-1zM146,755h1v1h-1zM114,756h1v1h-1zM121,756h2v1h-2zM125,756h1v1h-1zM130,756h1v1h-1zM133,756h1v1h-1zM136,756h2v1h-2zM140,756h1v1h-1zM128,757h1v1h-1zM130,757h1v1h-1zM139,757h3v1h-3zM145,757h2v1h-2zM127,758h3v1h-3zM137,758h2v1h-2zM131,759h2v1h-2zM135,759h3v1h-3zM110,760h1v1h-1zM112,760h1v1h-1zM112,761h1v1h-1z" fill="#5c504c"/>
<path d="M87,741h2v1h-2zM85,742h1v1h-1zM87,742h1v1h-1zM89,742h3v1h-3zM87,743h1v1h-1zM92,743h1v1h-1zM94,743h1v1h-1zM87,744h1v1h-1zM92,744h1v1h-1zM96,744h2v1h-2zM87,745h1v1h-1zM89,745h4v1h-4zM87,746h1v1h-1zM92,746h1v1h-1zM87,747h1v1h-1zM92,747h1v1h-1zM95,747h1v1h-1zM97,747h1v1h-1zM99,747h3v1h-3zM92,748h1v1h-1zM94,748h1v1h-1zM96,748h5v1h-5zM102,748h1v1h-1zM94,749h2v1h-2zM100,749h3v1h-3zM89,750h1v1h-1zM91,750h2v1h-2zM94,750h1v1h-1zM100,750h2v1h-2zM91,751h2v1h-2zM95,751h4v1h-4zM104,751h2v1h-2zM93,752h1v1h-1zM96,752h4v1h-4zM105,752h2v1h-2zM98,753h2v1h-2zM106,753h1v1h-1zM102,754h4v1h-4z" fill="#000"/>
<path d="M85,743h2v1h-2zM88,743h1v1h-1zM91,743h1v1h-1zM88,744h3v1h-3zM93,744h1v1h-1zM96,746h2v1h-2zM88,747h1v1h-1zM96,747h1v1h-1zM101,748h1v1h-1zM92,749h2v1h-2zM96,749h1v1h-1zM103,749h2v1h-2zM95,750h3v1h-3zM103,750h2v1h-2zM101,753h5v1h-5z" fill="#5c504c"/>
<path d="M510.8,692.4 L508.6,694.6 L506.6,698.3 L507.5,704.9 L510,710.8 L511.5,713.4 L513.7,711.6 M257.4,661.3 L264.8,662.8 L275.1,663.5 L285.5,665 M249,678.5 L252.1,681.6 L253.9,685.9 L254.5,690.8 L253.9,695.7 L252.1,701.9 L249.6,706.8 L245.9,711.7 L242.2,715.4 L238.5,717.3 M236.1,722.8 L233.6,725.3 M228.7,727.7 L225,730.8 M242.2,699.4 L244.7,695.7 L248.4,692.6 L249.6,693.9 L247.1,696.9 M228.7,662.5 L232.4,664.3 L236.1,661.8 M241,664.9 L245.9,663.9 M247.8,661.8 L250.8,661.5 M258.5,662.2 L265.9,663.3 L274.8,663.6 L285.1,665.1 M795.7,561.9 L801.3,560.1 L798.9,562.6 L800.3,565.8 L795.2,563.2 L801.9,566.8 L801.2,565.9 L798.3,571.2 L796.3,573.8 L802.4,570.3 L794.4,574.5 L802.6,575.1 L796.1,576.7 L794.4,577.1 L798,580 L796.2,580 L796,582.6 L796.6,581.7 L801.5,586 L799.7,585.4 L802.9,590.5 L795,589.1 L800.4,592.6 L802.3,592.4 L801.3,595.2 L796.5,596.2 L801.7,599 L798.3,599.1 L794,598.6 L800.8,601 L795.2,603.1 L799.9,605.2 L797,605.4 L798.1,608.6 L798.2,608 L797.9,607.5 L793.9,612.5 L802.3,613.4 L797,612.5 L797.9,618.3 L800.3,617.4 L801.1,617.1 L797.9,622.4 L798.5,621.2 L795.7,623.1 L801.8,621.6 L800.2,627.4 L801.1,628.4 L800.4,628.7 L798.2,629.6 L793.6,633.4 L798.2,631.2 L797.6,634.2 L796.2,634.9 L797.8,637.8 L798.4,638.3 L793.2,638.5 L794.5,641.9 L800.6,644.5 L800,646 L795.1,647.6 L798.8,644.9 L792.9,646 L799.5,648.6 L793.7,652.1 L795.7,650.5 L794.1,654.4 L794.1,654.5 L799,656.9 L795.4,658.4 L792.7,659.4 M806.2,567.9 L799.9,565.7 L805.3,569.8 L804.1,569.4 L803.6,572 L803.4,571.6 L802.3,574 L804.3,577.9 L805.9,577.4 L802.3,577.6 L799.4,578 L802.4,580.6 L801.8,584.4 L802.7,584.5 L800.7,583.6 L801.3,585.5 L802.5,590.5 L803.7,588.5 L805.2,592.4 L804,594.3 L804.2,595.2 L801.3,597.4 L805.5,595.4 L804,599.1 L801.9,599.7 L802.1,602.8 L802.1,603.8 L801.1,605.4 L804.9,605 L802.5,608.4 L803.6,607.9 L800,608.7 L803.3,609.4 L804.8,611.2 L804.7,612.8 L805,615.9 L801.8,616.5 L802.8,618.2 L800.4,618 L801.8,622.4 L802.5,620.2 L803.9,624.3 L804.5,623.5 L803.3,624.3 L802.6,626.6 L799.6,630.6 L798.7,630.5 L803.9,630.7 L799.4,634.8 L800.8,635.5 L798.1,635.4 L799,638.1 L798.3,640.7 L797.9,641.2 L797.8,640.6 L803.4,641.6 L798.9,645.2 L800.3,643.9 L804.5,645.7 L797.8,647.9 L801.8,651 M792.9,600.2 L794,601.9 L796.1,600.7 L791.2,605.8 L793.2,604.3 L799.1,606.9 L797.8,608.3 L796.3,608.1 L796.3,613 L795.4,613.8 L796.6,611.9 L797.3,615.8 L793.7,614.5 L798.2,618.1 L797.1,621.4 L797.1,623 L794.6,623.8 L795,625.9 L798.5,623.3 L792.6,625.2 L799.2,627.7 L796.5,628.4 L795.6,630.3 L794.4,632.6 L796.3,635.5 L797.1,637.1 L798.5,638.8 L797,636.2 L798.6,641.4 L799,640.9 L797.5,640.6 L798.4,643.8 L794.1,642.7 L798.7,648.6 L792.6,649 L795.2,647.3 L794.3,651.7 L798.9,649.6 L796.9,651 L797.7,653.8 L799,658.3 M788.7,642.9 L791.1,644 L792,644.4 L789,643.2 L795.8,644.3 L796.8,642.8 L795.5,643.7 L797.3,645.3 L795.4,644.4 L798.2,647.4 L802.5,645.1 L803.9,645.4 L804.1,645.8 L801.7,648.9 L804.3,647" fill="none" stroke="#000" stroke-width="1.3"/>
<path d="M785,654 L786,661.7 L784,669.6 L785,677.4 L787,683.3 L791,687.3 L792,695 L794,703 L793,709 L789,711 L789,716.8 L785,720.8 L784,726.7 L785,732.6" fill="none" stroke="#000" stroke-width="3.6"/>
<path d="M785,654 L786,661.7 L784,669.6 L785,677.4 L787,683.3 L791,687.3 L792,695 L794,703 L793,709 L789,711 L789,716.8 L785,720.8 L784,726.7 L785,732.6" fill="none" stroke="#004060" stroke-width="1.8"/>
<path d="M302.9,57.9 L306,56 L309.7,57.9 L311.6,62.8 L314.6,67.1 L317.7,70.2 L321.4,71.4 L322.6,73.9 L320.2,76.4 L318.9,80 L320.8,85 L322.6,89.9 L323.3,95.4 L321.4,96 L319.6,91.1 L317.7,86.2 L315.9,81.3 L314.6,76.4 L313.4,72.7 L310.3,69 L307.2,64 L303.5,62.2 L302.3,60.3Z" fill="#284060"/>
<path d="M368,260 L372,258 L376,259 L380,263 L385,265 L390,269 L395,273 L397,277 L393,275 L388,271 L382,268 L376,265 L371,263Z" fill="#284060"/>
<path d="M447,363 L449,364 L448,367 L451,367 L450,371 L446,373 L444,377 L440,377 L439,374 L442,371 L444,368 L446,365Z" fill="#284060"/>
<path d="M613.3,285.4 L614.8,284.9 L615,287.4 L617.2,287.1 L618.7,288.9 L618.5,290.3 L616.3,290.6 L615.8,292.8 L617,294.3 L622.7,294.8 L623.2,293.8 L621.7,292.6 L620.2,291.8 L620.2,286.4 L621.7,286.2 L622.7,288.4 L623.2,290.8 L625.1,292.8 L627.8,293.3 L626.1,294.8 L625.6,296.7 L624.1,297.5 L623.9,299.7 L621.7,300.4 L619.7,301.7 L620.7,303.2 L618.7,304.1 L618.2,305.6 L615.8,307.3 L615.8,309.6 L616.7,310.5 L613.8,311.5 L610.8,311.5 L609.9,314 L607.4,314 L606.2,311.5 L605.9,309.6 L604.2,308.1 L604.2,306.4 L605.4,306.1 L606.9,308.1 L609.4,308.1 L609.1,304.4 L611.3,305.6 L613.3,305.1 L614.3,303.2 L614.3,300.7 L615.3,298.7 L612.8,297.7 L612.1,296.3 L612.3,293.3 L613.3,289.9 L612.1,289.4 L612.3,288.1Z" fill="#284060"/>
<path d="M424,413 L426,416 L427,422 L429,426 L432,430 L431,434 L428,433 L426,428 L424,424 L424,418Z" fill="#284060"/>
<path d="M526,502 L529,506 L531,512 L533,520 L536,526 L534,530 L532,536 L530,538 L527,534 L526,528 L525,520 L526,512Z" fill="#284060"/>
<path d="M144.3,696.9 L147.4,695.1 L151.1,695.7 L152.3,698.2 L149.9,699.4 L152.3,700.6 L154.8,702.5 L154.8,706.8 L152.3,709.3 L148.6,710.5 L146.2,713 L143.7,714.2 L141.2,711.7 L140,709.3 L142.5,708 L146.2,705.6 L148.6,701.9 L147.4,699.4 L144.9,698.8Z" fill="#284060"/>
<path d="M121.9,659.1 L124.4,654.2 L129.3,652.2 L134.2,653.7 L136,659.1 L134.2,664.5 L129.3,668.5 L124.4,667.7 L121.9,664.5Z" fill="#284060"/>
<path d="M41.9,680 L45.6,680 L48,682.5 L50.5,685.5 L51.7,688.6 L49.3,689.9 L46.8,689.2 L45,686.8 L43.7,683.7Z" fill="#284060"/>
<path d="M57.9,691.1 L59.1,684.9 L61.6,687.4 L63.4,691.1 L65.3,696 L67.1,700.9 L71.4,702.8 L76.4,703.4 L81.3,705.2 L85,707.7 L84.4,710.5 L80,710.2 L75.1,707.7 L70.2,705.9 L65.3,705.9 L62.2,702.2 L61,697.2 L59.1,694.2Z" fill="#284060"/>
<path d="M540,604.9 L544.9,609.9 L552.3,608.6 L554.8,603.7 L557.2,609.9 L563.4,610.3 L563.4,613.5 L554.8,614.3 L549.9,617.2 L544.9,619.7 L541.2,617.2 L540,614.8Z" fill="#284060"/>
<path d="M769.1,790.9 L774,789.2 L778.9,790.1 L780.1,794.6 L769.1,794.6Z" fill="#284060"/>
<path d="M784.2,728.7 L787,734.6 L791,740.5 L795,746.4 L796,751.3 L793,755.3 L789,752.3 L787,746.4 L785,740.5 L783.6,734.6Z" fill="#284060"/>
<path d="M769,790 L773,788.5 L777,790 L777,793 L769,793Z" fill="#284060"/>
<path d="M215,200 L225,190 L240,183 L260,176 L270,172.4 L302,165 L331.6,157.6 L351.3,150.2 L360,147.9 L365.5,138 L380,134 L405.6,131.9 M365.5,135.6 L367.4,127 L373.5,119.6 L380.9,109.7 L387.1,102.3 L394.5,99.2 L403.1,99.9 L411.7,101.7 L416.7,102.3 L424,104.8 L430.2,108.5 L435.1,112.8 L437,120.8 L437.6,127 L436.4,133.1 L433.9,139.3 L431.4,145.4 L430.2,151.6 L429,156.5 L424,160.2 L419.1,162 L411.7,162.7 L404.3,163.3 L397,162.7 L390.8,161.4 L384.6,160.2 L378.5,156.5 L373.5,151.6 L368.6,145.4 L366.2,140.5 L365.5,135.6 M6,257 L30,256 L50,253 L70,248 L90,240 L110,234 L130,226 L150,224 L160,225 M162,222 L168,221 L175,223 L175,229 L170,232 L163,231 L161,226 L162,222 M172,224 L185,217 L200,208 L215,200 M165,232 L168,250 L170,268 L172,285 L172,305 L175,325 L178,345 L182,365 L183,385 L180,400 L178,400 L170,415 L163,430 L161,445 L157,460 L152,475 L148,485 L140,500 L135,515 L132,530 L130,550 L129,570 L128,600 L127,620 L130,640 L134,655 M6,460 L30,463 L60,466 L80,472 L95,476 L110,473 L130,473 L150,478 L155,480 L170,478 L200,476 L230,474 L260,473 L280,468 L270,468 M258,475 L250,490 L245,505 L236,520 L230,535 L222,545 L216,555 L214,575 L212,590 L208,600 L205,610 L198,625 L190,640 L186,652 M405.6,131.9 L402,145 L397,163.3 L396.3,190 L398,200 L398,215 L397,235 L395,250 L394,262 L397,275 L397,290 L396,300 L398,312 L400,325 L401,340 L403,355 L403,370 L405,380 L404,400 L408,410 L415,425 L423,440 L428,455 L435,468 L440,472 L438,480 L432,490 L428,500 L422,510 L415,520 L408,532 L400,545 L390,555 L380,565 L365,573 L350,582 L335,592 L320,598 L310,605 L306,615 L305,625 M410,370 L420,355 L430,345 L445,335 L455,325 L465,310 L475,295 L485,280 L495,262 L500,250 L508,238 L520,235 L535,225 L550,215 L565,200 L580,180 L595,160 M405,370 L420,366 L440,363 L460,364 L480,362 L500,358 L520,355 L550,352 L565,350 L580,352 M405,372 L395,380 L385,390 L375,398 L360,400 L345,403 L335,410 L325,420 L315,430 L305,442 L295,455 L285,462 L270,468 M465,200 L475,215 L485,230 L500,235 L515,237 L525,240 L535,250 L540,265 L545,280 L550,290 L560,310 L570,330 L580,345 M440,472 L460,472 L475,465 L490,460 L500,455 L512,448 L520,435 L530,425 L540,415 L545,405 L548,400 L555,385 L565,370 L578,358 M588,6 L587,20 L592,30 L600,40 L605,50 L604,60 L600,75 L603,90 L600,100 L592,108 L595,120 L603,130 L610,140 L614,148 L622,148 M405.6,131.9 L420,132 L437,132.5 L458.5,133.1 L478.2,136 L491.7,138 L516.3,142.9 L541,147.8 L550,152.7 L560,158 L580,160 L600,155 L615,148 L640,150 L655,145 L670,140 L685,128 L700,120 L720,110 L740,100 L760,90 L780,82 L806,72 M405.6,131.9 L411,118 L416.7,102.3 L421.6,90 L427.6,76 L432.6,64 L442,61.6 L457,59 L467,44 L471,25 L472,6 M405.6,131.9 L414.2,145.4 L424,159 L433.9,167.6 L440,175 L446.2,186 L452,195 L465,200 M670,150 L675,165 L685,180 L700,188 L720,190 L740,185 L760,180 L790,175 L806,175 M584,349.6 L578,325 L571,301 L566,290 L560,278 M588,342 L596,328 L606,315 L614,306 M574,345 L580,340 L588,342 L592,350 L590,358 L582,362 L575,358 L572,351 L574,345 M580,352 L600,356 L620,362 L640,366 L660,368 L690,370 L720,372 L750,372 L765,370 L780,362 L795,350 L806,342 M590,345 L605,335 L620,325 L640,315 L660,300 L680,290 L700,280 L720,270 L740,255 L760,240 L780,232 L806,228 M584,360 L590,375 L600,390 L608,400 L615,410 L625,418 L632,425 L633,440 L631,460 L630,480 L631,500 L634,515 L640,530 L647,545 L650,560 L652,575 L656,590 L658,600 L665,615 L675,630 L690,645 L703,660 L712,672 L720,690 L730,710 L740,725 L745,745 L748,765 L753,780 L755,792 M632,425 L640,432 L648,445 L660,452 L680,460 L700,465 L720,468 L740,471 L760,473 L780,480 L800,487 L806,493 M6,661 L20,657 L40,652 L60,646 L75,643 L90,648 L100,652 L105,650 L120,643 L130,640 L145,640 L160,645 L175,652 L185,656 L200,656 L215,650 L230,647 L250,645 L270,644.3 L284.8,639.4 L297,632 L307,624.6 L319.3,624.6 L331.6,626.6 L343.9,629.6 L356.2,632 L368.5,637 L378.4,638.2 L388.2,632 L398,624.6 L408,621 L422.7,618.5 L442.4,616.7 L454.7,621 L467,619.7 L479.4,616 L496.6,617.2 L516.3,616 L531,622.2 L541,625.9 L560,635 L580,640 L600,640 L630,644 L650,648 L670,652 L690,657 L703,660 L720,660 L740,661 L760,658 L780,656 L790,652 M130,640 L128,660 L130,675 L120,680 L105,678 L95,670 L92,660 L95,652 M130,675 L145,680 L160,682 L175,676 L182,665 L185,656 M6,615 L12,625 L14,640 L12,655 L16,660 M720,200 L727,207 L737,225 L749,230 L762,249 L764,264 L774,281 L786,291 L801,306 L806,308 M803.9,540 L802.4,554.8 L799.4,569.5 L795,578.4 L790.6,585.8 L786,591.7 L784.7,599 L785.4,606.5 L786,613.9 L785.4,619.8 L786.9,627 L788.3,634.5 L787.6,641.9 L785.4,649.3 L789,655.8 L793,665.6 L798,673.5 L799,679.4 L804,687.3 L806,697 M779,654 L778,648 L781,643 L787,642 L791,647 L792,655 L788,660 L782,659 L779,654 M182.5,6.2 L187.4,12.3 L192.3,19.7 L196,28.3 L198.5,36.9 L200.3,42.5 L200.3,61.6 L200.7,71.4 L200.3,86.2 L198.5,96.1 L197.2,100 L196,105 L189,112 L186,125 L184,138 L176,148 L175,156 L168,165 L160,180 L150,198 L146,205 L152,215 L160,222 M241,6.8 L235.4,12.3 L229.9,19.1 L228,24.6 L228.6,34.5 L227.4,45.6 L225.6,54.2 L223.1,60.3 L218.2,65.3 L214.5,68.3 L207.1,69.6 L200.9,71.4 M241,6.8 L245.3,12.3 L248.3,17.2 L249,22.2 L253.9,25.9 L257.6,30.8 L260,35.7 L263.1,40.6 L263.7,49.3 L264.4,53 L267.4,56.7 L272.4,60.3 L278.5,60.6 L284.7,60.3 L290.8,61 L295.8,56.7 L300.7,54.2 L305.6,53.6 L310.5,54.2 L315.5,57.9 L320,61.6 L325,62 L340,72 L352,88 L360,97.4 L380.9,109.7 L395,122 L405.6,131.9" fill="none" stroke="#807008" stroke-width="0.98"/>
<path d="M6,105.5 L155,105.5 L157,109 L161,114 L160,121 L157,127 L150,132 L145,138 L140,144 L137,149.5 L187,149.5 M201.6,6.2 L202.2,11.1 L204.6,16 L207.7,20.9 L208.9,25.9 L207.7,29.6 L203.4,30.8 L201.6,33.9 L202.8,36.9 L206.5,38.2 L205.9,40.6 L207.7,45.6 L210.8,50.5 L212.6,54.2 L212.6,57.3 L215.7,58.5 L218.2,61 L221.3,60.3 L222.5,57.3 L220.6,54.8 L216.9,54.8 L215.7,56.7 L216.9,59.1 L220.6,58.9 L223.7,56 L225.6,57.9 L226.2,61.6 L229.3,60.3 L232.3,62.8 L231.7,67.7 L229.3,71.4 L226.2,75.1 L227.4,78.8 L230.5,80 L229.3,81.9 L226.2,83.1 L225.6,86.2 L228,89.9 L226.8,92.4 L223.7,94.8 L221.9,98.5 L216.9,94.8 L214.5,92.4 L212,93.6 L211.4,97.3 L210.8,100 L209,105 L206,108 L203,105 L205,100 L202,97 L198,100 L199,105 L203,108 L201,113 L196,117 L199,122 L195,126 L189,127 L193,132 L196,137 L191,140 L188,146 L187,150 L186.9,151.7 L187.2,153.1 L189.1,153.3 L190.8,153.5 L193.3,156.4 L191.4,157 L188.5,156.9 L187.4,157.9 L187.6,159.4 L187.4,161.3 L186.8,162.6 L185.7,163.2 L183.4,164.3 L184.1,165.8 L185.8,165.4 L187.9,164.2 L189.6,163.9 L190.9,166.9 L188.2,166.2 L186.2,166.2 L186.5,168.5 L186.2,171.3 L185.1,172.2 L183.8,171.4 L182.3,170.3 L181,169.6 L179.7,169.4 L178.9,171.8 L177.8,173.1 L176.7,173.9 L174.9,171.9 L172.7,171.1 L171.9,172 L171.7,173.8 L172.2,175.2 L172.2,176.5 L171.3,177.7 L169.3,178.6 L169.5,180.8 L170.2,182.5 L172.3,181.8 L174.6,180.9 L176.4,183.8 L174.5,184.4 L172.4,184.9 L171.3,185.9 L171.7,187.2 L171.1,189.2 L170.2,190.5 L168.9,190.7 L167.1,189.3 L164.1,191.6 L165.9,191.7 L167.6,192 L169.4,192.2 L171,192.5 L170,195.3 L168.4,193.9 L167,194 L165.7,195.2 L164.5,196.7 L164.8,197.3 L162.4,197.1 L160.1,196.9 L158.6,197.4 L159.1,198.9 L158.8,200.5 L159.1,202.9 L158.1,203.7 L155.9,203 L154.5,205.1 L155.6,206.1 L157.3,206.8 L159,207.7 L160.1,208.7 L160,210 L158.4,211.7 L158.2,213 L158.7,214.1 L158.9,215.3 L161,216 L162.2,216.9 L162,218.2 L161.4,219.6 L160.3,221.2 L161.1,221.1 L160.4,222.4 L160.4,224.4 L160.6,226.6 L158,227.1 L156.8,226.4 L155.6,225 L154.4,223.2 L153.2,225.1 L152.4,226.4 L152.3,228 L152.1,229.5 L149.8,228.9 L147.9,228.7 L146.4,229 L146.3,230.6 L146.2,232.1 L147.5,234.2 L146.8,235.4 L144.3,235.6 L142.7,236.3 L141.6,238.8 L143,239.5 L145,240 L147.2,240.2 L146.4,242.2 L146,244 L145,245.4 L146.3,246.4 L148.5,247.3 L150.3,248.2 L148.3,251.2 L146.4,249.2 L144.9,248.7 L143.8,250.3 L142.8,251.9 L142,254.2 L139.7,252.5 L139.4,250.3 L138.8,248.8 L136.9,249.2 L134.7,250.5 L132.9,250.8 L133.9,248.6 L131.5,248.4 L130.2,249 L129.1,249.8 L130.7,251.8 L133,252.3 L132.4,253.9 L130.6,255.8 L130.5,257.2 L131.6,257.4 L131.5,259.5 L131.2,261.1 L129.6,260.9 L128.1,260.8 L126.1,260 L123.7,261.6 L124.5,263 L126.2,264.5 L126.5,265.8 L127.3,267.2 L126.2,267.1 L125.4,269.2 L124.6,271.4 L125.6,272.2 L128.6,272.4 L129.4,274.4 L127.7,274.7 L126.2,275.1 L124.3,275.3 L122.5,275.6 L123.5,277.9 L124.9,279.5 L124.5,280.7 L123.8,281.7 L122.3,282.5 L120.6,283.3 L120.6,285.2 L122.5,286.2 L124,287.1 L124.8,288.2 L123.3,289.7 L122.9,290.9 L120.7,289.8 L120.1,291.3 L119.4,292.8 L119,294.9 L118.3,296.4 L116.2,295.7 L114.5,294.6 L112.7,293.2 L112.1,295.3 L111.2,296.7 L112.3,297.8 L111.2,298.7 L109.4,299.5 L107,300 L106.1,301 L106.7,301.4 L107,303.8 L106.9,305.7 L106.5,307.3 L104.3,306.6 L102.4,305.9 L100.6,305.8 L100.5,308.5 L99.9,310.3 L99.2,309.2 L98.8,310.9 L97.7,313.1 L98.1,314.3 L100.1,314.4 L101.8,314.7 L103.2,317.5 L102.2,318.3 L100,317.6 L98.3,317.5 L97.1,318 L97.2,320 L99.4,321.1 L99.6,322.5 L97.3,324.2 L95.7,325.9 L97.5,325.9 L97,328.1 L96.4,329.8 L95.4,330.7 L93.2,329.3 L91.1,327.7 L90.2,329.2 L89.7,331.6 L88.8,332.8 L87.8,331.6 L86.7,333.7 L86.9,335 L88.1,336 L89.8,336.6 L90.9,339.2 L89.8,339.8 L87.5,339 L85.7,338.8 L85.2,340.2 L85.3,341.8 L87.2,342.4 L88.1,343.5 L86.7,345.7 L85.6,347.7 L87.1,346.7 L86.8,348.3 L86.3,349.8 L86.5,352.2 L85,352.2 L82.9,351.2 L80.1,350.1 L80.3,352.3 L80.4,354.4 L80.4,356.4 L79.5,355 L78.3,357.2 L77.3,359.3 L78.9,359.7 L80.1,360.4 L82.4,360.3 L83.5,363.5 L82,363.7 L79.8,363.2 L77.6,362.7 L77.5,364.4 L77.7,366.2 L78.3,368.6 L77.3,367.1 L77,368.8 L76.5,370.6 L76.2,372.2 L77.1,373 L79.7,372.8 L81.2,373.2 L82.7,373.7 L81.9,375.6 L81.3,377.5 L81.7,378.7 L82.4,379.7 L84.1,380 L84.8,382 L84.1,383 L83,383.7 L80.6,383.5 L79.5,384.2 L77.4,386.9 L79.1,387.6 L81.9,388 L83.2,388.9 L82.8,390.4 L82.4,391.6 L82.3,393.7 L82.1,395.9 L84.3,395.7 L87.1,396.5 L86.6,398 L84.6,398.6 L83,399 L82.3,400.3 L82.9,402.9 L82.5,404.5 L79.8,403.9 L77.9,404.6 L77.9,406 L78.5,407.5 L79.2,409.1 L79.2,409.2 L79.5,410.5 L79.2,412.1 L78.9,413.8 L78.6,415.4 L80.6,415.5 L83.1,414.9 L84.9,415.1 L84.5,417.5 L83.9,420.1 L83.8,419.6 L85,421.1 L86.6,422.6 L87.4,423.9 L86.2,425 L84.7,425.1 L83.4,425.2 L82.3,425.8 L81.5,427.6 L80.7,429 L81.1,427.7 L79.8,429.3 L78.2,430.8 L77.7,432.2 L78.9,433.4 L80.5,434.6 L80.9,435.4 L81.2,436.7 L80.6,438.5 L80.8,439.8 L81.3,440.9 L83.7,440.7 L85.4,442.5 L85.4,443.8 L84.3,444.8 L82.2,445.4 L80.1,446 L81.8,448.6 L83.7,446.8 L85.3,446.2 L85.9,448.2 L86.5,450.4 L86,450.7 L87.7,451.4 L89.6,452.1 L91.7,452.8 L90.8,454.4 L89.8,455.4 L88.2,454.5 L87.3,455.8 L86.3,457 L85.6,458.7 L85.7,457.4 L84.4,459.2 L82.8,461.1 L83.2,462.3 L85.1,463 L87.2,462.2 L88.4,462.6 L88.5,464.6 L88.4,466.9 L88.7,468.6 L90.1,468.7 L92.2,467.9 L93.9,468.2 L94.4,469.3 L94.7,470.5 L93.9,472.5 L93.6,474.1 L96.5,475 L97.1,472.9 L98.1,471.5 L100.6,472.2 L98.2,472.7 L97.9,474 L97.4,475.1 L99.2,477.1 L98.4,479.1 L97.4,480.3 L95.6,478.7 L93.8,477.5 L92.8,478.5 L92,480 L91.8,481.9 L90.8,482.5 L89.5,482.7 L87.5,481.9 L85.7,481.4 L85.7,483.1 L85,485 L84.3,486.8 L82.7,486.2 L81.2,485.6 L77.6,485.6 L78.1,486.9 L79.9,488.4 L81.4,489.9 L81.5,491.2 L79.1,491.9 L79.3,493.7 L80.3,494.5 L81.4,495.1 L84,494 L83.3,493.8 L84.7,494.2 L86.4,495.2 L88.3,496.8 L89.3,496 L89.7,493.9 L90.9,495.6 L90.4,496.8 L89.6,497.9 L87.8,498.6 L86.9,499.2 L86.6,500.5 L87,502.5 L87.8,504.7 L85.5,504.6 L84.1,505.3 L81.9,503.9 L80.6,504.2 L80,506 L79.7,508.5 L79.3,508.9 L78.8,510 L77.1,510.3 L75.2,510.5 L74,511.1 L73.3,512.1 L73.5,513.5 L73.8,515.8 L73.4,517.4 L71.4,517.4 L69.4,516.9 L67.9,517.1 L67.6,519.8 L67.2,520 L67.3,521.2 L65.5,522.4 L64.6,523.6 L64.9,524.8 L66,526.6 L67.2,524.6 L68.4,523.9 L69.6,524.7 L70.8,526.1 L71.4,525.4 L69.1,525.1 L69.1,527.1 L69.8,529.8 L68.3,531 L66.8,530.5 L65,529.1 L63.7,529.1 L62.9,530.7 L62.1,532 L63.2,533.2 L63.9,534.4 L62.8,535.6 L61.1,536.8 L61.3,535.9 L60.1,536.4 L59.5,538.6 L58.7,540.1 L57.6,540.9 L57,540.3 L55.2,541.1 L53.9,542 L53,543 L54.2,544.7 L53.8,544.7 L54.8,543.1 L56.2,544.6 L57.7,545.7 L59.2,547.6 L58.8,544.7 L58.8,545.9 L60,547.5 L61.1,549.1 L60.9,550.3 L58.6,550.9 L57.8,551.7 L55.9,551 L55.1,551.9 L54.8,553.7 L54.6,555.5 L54.1,556.9 L53.1,557.1 L50.9,556.9 L49.2,557.2 L47.6,557.6 L48.6,559.8 L49.7,560.8 L50,562 L49.1,563.6 L47.5,565.5 L51.9,567.9 L51.3,565.3 L51.2,563.2 L51.5,561.5 L54.2,561.9 L52.7,563.8 L53.7,564.8 L54.4,565.9 L56.7,566.4 L56.5,569 L55.2,569.8 L53.3,569.2 L52,568.5 L50.7,568.1 L49.3,569.9 L48,571.4 L46.7,572.2 L45.3,570.5 L42,571.6 L43.8,571.8 L45.6,572 L47.7,571.9 L48.7,572.8 L49,575.4 L46.8,576 L45.2,576.8 L45.8,578.5 L47.3,579 L48.9,579.3 L48,581.7 L47.4,583.8 L47.5,585.3 L47.8,584.1 L48.9,586 L49.9,587.8 L51,589.7 L48.1,590.1 L46,589.9 L45.2,590.8 L45.1,592.4 L45.4,594.2 L44,594.6 M225.6,57.9 L228,51.7 L231.7,46.8 L235.4,42.5 L239.1,40 L244,39.4 L247.1,40 L251.4,42.5 L256.4,45 L261.3,47.4 L266.2,48 L269.9,50.5 L273.6,53.6 L277.3,54.2 L281,53 L282.8,49.3 L283.4,45.6 L281.6,41.9 L279.1,38.2 L276.7,35.7 L276.7,32 L278.5,27.7 L280.4,24 L284.1,22.8 L287.8,22.8 L290.8,20.9 L297,19.1 L303.2,18.5 L308.1,17.2 L309.3,14.2 L308.7,11.1 L305,8.6 L304.4,6.2 M209,105.2 L265,105.2 L266,105.6 L309,105.6 L310,98 L309,89.5 M309,89.5 L330,91 L360,91 L400,91 L420,91.3 L445,91.8 L460,92.8 L500,93.5 L540,94.6 L570,95 L636,96.8 L700,96 L765,95 L786,94 L806,98 M636,96.5 L645,91 L655,87 L665,84 L675,80 L680,75 L690,72 L697,66 L700,60 L707,55 L708,50 L715,45 L725,40 L735,35 L745,30 L755,22 L762,15 L765,12 L760,10 L750,8 L748,6 M765,13 L770,25 L776,32 L783,40 L790,42 L800,40 L806,35 M786,94 L784,100 L783,108 L780,112 L782,118 L775,120 L768,125 L762,133 L757,139 L750,138 L742,137 L732,140 L725,146 L720,152 L716,148 L712,145 L708,150 L700,153 L694,156 L692,163 L688,168 L680,170 L672,172 L665,177 L658,182 L650,188 L640,187 L630,188 L620,192 L613,198 L611,200 L610,203 L608,208 L604,213 L598,216 L593,215 L590,218 L590,225 L589,232 L588,239 M143,238.2 L270,238.2 L300,237.6 L336,237.5 L445,238.7 L493,239.4 L588,239.4 L674,239.4 M674,239.4 L680,235 L690,230 L700,228 L710,226 L720,222 L732,221 L806,222.7 M674,239.4 L674,243 L666,249 L662,257 L661,264 L664,270 L670,274 L678,278 L685,284 L695,285 L700,294 L705,303 L710,316 L717,328 L727,338 L739,345 L747,358 L757,365 L765,375 L768,385 L773,392 L778,397 L782,402 L788,406 L794,410 L798,418 L800,425 L804,432 L806,440 M300,237.6 L304,243 L307,246.5 L291.7,400 L286,449 L281,498.5 L280,523 L281,553 L283,600 L285.5,648.7 M493,239.4 L520,400 L523.7,424.6 L527.4,437 L537,459 L539.7,471.4 L537,476 L545.8,481 L538.5,486 L533.5,493.6 L533,503 L531,516 L532,528 L533.5,540 L534.8,552.7 L531,562.5 L530,575 L534.8,584.7 L537,594.6 L539,606 L540,619.7 M537,594.5 L344.5,594.5 L344.5,600 L341.6,606 L346,611.8 L352,617.7 L358.6,622 L360,628 L357.8,633 L355.6,636 L357,641 L360.8,643.6 M540,619.7 L589,622 L638.5,624.6 L688,627.6 L737,631.3 L744.4,632 L745.7,641.9 L747,649 L752,651 L758,650.5 L759,642 L758,632 L756.7,622 L758,614.8 L763,610.3 L769,609.9 L774,612.3 L780,614.8 L786,617 L793.7,618.5 L801,619.7 M6,415.5 L78,415.5 M44,594.5 L186,594.5 M186,594.6 L184.7,600 L181,605 L178.6,612 L177.3,622 L180,627 L182.3,632 L183.5,637 L188.4,640.6 L190.6,646 L192.8,651.8 L193.5,656 L195,662 L197,666.6" fill="none" stroke="#000" stroke-width="1.2" stroke-linejoin="round"/>
<line x1="336.8" y1="49.3" x2="292" y2="93.6" stroke="#e8e8e8" stroke-width="0.98"/>
<line x1="417.5" y1="104" x2="373" y2="148.8" stroke="#e8e8e8" stroke-width="0.98"/>
<line x1="675" y1="143" x2="723" y2="189" stroke="#e8e8e8" stroke-width="0.98"/>
<path d="M362,15h3v1h-3zM360,16h2v1h-2zM365,16h2v1h-2zM360,17h1v1h-1zM366,17h1v1h-1zM359,18h1v3h-1zM367,18h1v3h-1zM360,21h1v1h-1zM366,21h1v1h-1zM360,22h2v1h-2zM365,22h2v1h-2zM362,23h3v1h-3zM361,19h5v1h-5zM364,56h7v1h-7zM367,53h1v3h-1zM367,57h1v3h-1zM335,80h7v1h-7zM338,77h1v3h-1zM338,81h1v3h-1zM686,191h3v1h-3zM684,192h2v1h-2zM689,192h2v1h-2zM684,193h1v1h-1zM690,193h1v1h-1zM683,194h1v3h-1zM691,194h1v3h-1zM684,197h1v1h-1zM690,197h1v1h-1zM684,198h2v1h-2zM689,198h2v1h-2zM686,199h3v1h-3zM685,195h5v1h-5zM687,193h1v2h-1zM687,196h1v2h-1zM660,218h3v1h-3zM658,219h2v1h-2zM663,219h2v1h-2zM658,220h1v1h-1zM664,220h1v1h-1zM657,221h1v3h-1zM665,221h1v3h-1zM658,224h1v1h-1zM664,224h1v1h-1zM658,225h2v1h-2zM663,225h2v1h-2zM660,226h3v1h-3zM659,222h5v1h-5zM667,218h3v1h-3zM665,219h2v1h-2zM670,219h2v1h-2zM665,220h1v1h-1zM671,220h1v1h-1zM664,221h1v3h-1zM672,221h1v3h-1zM665,224h1v1h-1zM671,224h1v1h-1zM665,225h2v1h-2zM670,225h2v1h-2zM667,226h3v1h-3zM666,222h5v1h-5zM668,220h1v2h-1zM668,223h1v2h-1zM649,246h3v1h-3zM647,247h2v1h-2zM652,247h2v1h-2zM647,248h1v1h-1zM653,248h1v1h-1zM646,249h1v3h-1zM654,249h1v3h-1zM647,252h1v1h-1zM653,252h1v1h-1zM647,253h2v1h-2zM652,253h2v1h-2zM649,254h3v1h-3zM648,250h5v1h-5zM650,248h1v2h-1zM650,251h1v2h-1zM663,260h3v1h-3zM661,261h2v1h-2zM666,261h2v1h-2zM661,262h1v1h-1zM667,262h1v1h-1zM660,263h1v3h-1zM668,263h1v3h-1zM661,266h1v1h-1zM667,266h1v1h-1zM661,267h2v1h-2zM666,267h2v1h-2zM663,268h3v1h-3zM662,264h5v1h-5zM451,145h3v1h-3zM449,146h2v1h-2zM454,146h2v1h-2zM449,147h1v1h-1zM455,147h1v1h-1zM448,148h1v3h-1zM456,148h1v3h-1zM449,151h1v1h-1zM455,151h1v1h-1zM449,152h2v1h-2zM454,152h2v1h-2zM451,153h3v1h-3zM450,149h5v1h-5z" fill="#f86000"/>
<path d="M334,46h7v1h-7zM378,42h3v1h-3zM376,43h2v1h-2zM381,43h2v1h-2zM376,44h1v1h-1zM382,44h1v1h-1zM375,45h1v3h-1zM383,45h1v3h-1zM376,48h1v1h-1zM382,48h1v1h-1zM376,49h2v1h-2zM381,49h2v1h-2zM378,50h3v1h-3zM377,46h5v1h-5zM359,46h7v1h-7zM362,43h1v3h-1zM362,47h1v3h-1zM340,44h7v1h-7zM364,50h7v1h-7zM367,47h1v3h-1zM367,51h1v3h-1zM367,49h7v1h-7zM373,49h7v1h-7zM380,49h3v1h-3zM378,50h2v1h-2zM383,50h2v1h-2zM378,51h1v1h-1zM384,51h1v1h-1zM377,52h1v3h-1zM385,52h1v3h-1zM378,55h1v1h-1zM384,55h1v1h-1zM378,56h2v1h-2zM383,56h2v1h-2zM380,57h3v1h-3zM379,53h5v1h-5zM378,50h3v1h-3zM376,51h2v1h-2zM381,51h2v1h-2zM376,52h1v1h-1zM382,52h1v1h-1zM375,53h1v3h-1zM383,53h1v3h-1zM376,56h1v1h-1zM382,56h1v1h-1zM376,57h2v1h-2zM381,57h2v1h-2zM378,58h3v1h-3zM377,54h5v1h-5zM379,52h1v2h-1zM379,55h1v2h-1zM346,51h7v1h-7zM344,49h3v1h-3zM342,50h2v1h-2zM347,50h2v1h-2zM342,51h1v1h-1zM348,51h1v1h-1zM341,52h1v3h-1zM349,52h1v3h-1zM342,55h1v1h-1zM348,55h1v1h-1zM342,56h2v1h-2zM347,56h2v1h-2zM344,57h3v1h-3zM343,53h5v1h-5zM357,51h7v1h-7zM360,48h1v3h-1zM360,52h1v3h-1zM356,54h7v1h-7zM359,51h1v3h-1zM359,55h1v3h-1zM349,52h3v1h-3zM347,53h2v1h-2zM352,53h2v1h-2zM347,54h1v1h-1zM353,54h1v1h-1zM346,55h1v3h-1zM354,55h1v3h-1zM347,58h1v1h-1zM353,58h1v1h-1zM347,59h2v1h-2zM352,59h2v1h-2zM349,60h3v1h-3zM348,56h5v1h-5zM303,60h7v1h-7zM306,57h1v3h-1zM306,61h1v3h-1zM368,64h7v1h-7zM374,64h7v1h-7zM377,61h1v3h-1zM377,65h1v3h-1zM375,62h7v1h-7zM331,68h7v1h-7zM329,74h7v1h-7zM332,71h1v3h-1zM332,75h1v3h-1zM379,90h7v1h-7zM372,97h7v1h-7zM378,99h7v1h-7zM360,102h7v1h-7zM357,107h3v1h-3zM355,108h2v1h-2zM360,108h2v1h-2zM355,109h1v1h-1zM361,109h1v1h-1zM354,110h1v3h-1zM362,110h1v3h-1zM355,113h1v1h-1zM361,113h1v1h-1zM355,114h2v1h-2zM360,114h2v1h-2zM357,115h3v1h-3zM356,111h5v1h-5zM358,109h1v2h-1zM358,112h1v2h-1zM349,114h7v1h-7zM363,128h7v1h-7zM394,134h7v1h-7zM399,134h7v1h-7zM408,144h7v1h-7zM411,141h1v3h-1zM411,145h1v3h-1zM402,151h7v1h-7zM405,148h1v3h-1zM405,152h1v3h-1zM401,164h3v1h-3zM399,165h2v1h-2zM404,165h2v1h-2zM399,166h1v1h-1zM405,166h1v1h-1zM398,167h1v3h-1zM406,167h1v3h-1zM399,170h1v1h-1zM405,170h1v1h-1zM399,171h2v1h-2zM404,171h2v1h-2zM401,172h3v1h-3zM400,168h5v1h-5zM412,163h7v1h-7zM395,176h7v1h-7zM392,179h7v1h-7zM425,152h3v1h-3zM423,153h2v1h-2zM428,153h2v1h-2zM423,154h1v1h-1zM429,154h1v1h-1zM422,155h1v3h-1zM430,155h1v3h-1zM423,158h1v1h-1zM429,158h1v1h-1zM423,159h2v1h-2zM428,159h2v1h-2zM425,160h3v1h-3zM424,156h5v1h-5zM426,154h1v2h-1zM426,157h1v2h-1zM672,177h3v1h-3zM670,178h2v1h-2zM675,178h2v1h-2zM670,179h1v1h-1zM676,179h1v1h-1zM669,180h1v3h-1zM677,180h1v3h-1zM670,183h1v1h-1zM676,183h1v1h-1zM670,184h2v1h-2zM675,184h2v1h-2zM672,185h3v1h-3zM671,181h5v1h-5zM656,191h7v1h-7zM664,214h3v1h-3zM662,215h2v1h-2zM667,215h2v1h-2zM662,216h1v1h-1zM668,216h1v1h-1zM661,217h1v3h-1zM669,217h1v3h-1zM662,220h1v1h-1zM668,220h1v1h-1zM662,221h2v1h-2zM667,221h2v1h-2zM664,222h3v1h-3zM663,218h5v1h-5zM676,217h3v1h-3zM674,218h2v1h-2zM679,218h2v1h-2zM674,219h1v1h-1zM680,219h1v1h-1zM673,220h1v3h-1zM681,220h1v3h-1zM674,223h1v1h-1zM680,223h1v1h-1zM674,224h2v1h-2zM679,224h2v1h-2zM676,225h3v1h-3zM675,221h5v1h-5zM632,222h3v1h-3zM630,223h2v1h-2zM635,223h2v1h-2zM630,224h1v1h-1zM636,224h1v1h-1zM629,225h1v3h-1zM637,225h1v3h-1zM630,228h1v1h-1zM636,228h1v1h-1zM630,229h2v1h-2zM635,229h2v1h-2zM632,230h3v1h-3zM631,226h5v1h-5zM645,227h7v1h-7zM670,229h7v1h-7zM653,232h7v1h-7zM661,231h3v1h-3zM659,232h2v1h-2zM664,232h2v1h-2zM659,233h1v1h-1zM665,233h1v1h-1zM658,234h1v3h-1zM666,234h1v3h-1zM659,237h1v1h-1zM665,237h1v1h-1zM659,238h2v1h-2zM664,238h2v1h-2zM661,239h3v1h-3zM660,235h5v1h-5zM662,233h1v2h-1zM662,236h1v2h-1zM676,232h3v1h-3zM674,233h2v1h-2zM679,233h2v1h-2zM674,234h1v1h-1zM680,234h1v1h-1zM673,235h1v3h-1zM681,235h1v3h-1zM674,238h1v1h-1zM680,238h1v1h-1zM674,239h2v1h-2zM679,239h2v1h-2zM676,240h3v1h-3zM675,236h5v1h-5zM722,242h7v1h-7zM651,242h7v1h-7zM678,251h7v1h-7zM685,254h7v1h-7zM706,259h7v1h-7zM729,262h7v1h-7zM729,264h3v1h-3zM727,265h2v1h-2zM732,265h2v1h-2zM727,266h1v1h-1zM733,266h1v1h-1zM726,267h1v3h-1zM734,267h1v3h-1zM727,270h1v1h-1zM733,270h1v1h-1zM727,271h2v1h-2zM732,271h2v1h-2zM729,272h3v1h-3zM728,268h5v1h-5zM631,269h3v1h-3zM629,270h2v1h-2zM634,270h2v1h-2zM629,271h1v1h-1zM635,271h1v1h-1zM628,272h1v3h-1zM636,272h1v3h-1zM629,275h1v1h-1zM635,275h1v1h-1zM629,276h2v1h-2zM634,276h2v1h-2zM631,277h3v1h-3zM630,273h5v1h-5zM674,277h7v1h-7zM729,266h3v1h-3zM727,267h2v1h-2zM732,267h2v1h-2zM727,268h1v1h-1zM733,268h1v1h-1zM726,269h1v3h-1zM734,269h1v3h-1zM727,272h1v1h-1zM733,272h1v1h-1zM727,273h2v1h-2zM732,273h2v1h-2zM729,274h3v1h-3zM728,270h5v1h-5zM730,268h1v2h-1zM730,271h1v2h-1zM729,279h7v1h-7zM733,281h7v1h-7zM715,284h7v1h-7zM691,286h7v1h-7zM722,290h3v1h-3zM720,291h2v1h-2zM725,291h2v1h-2zM720,292h1v1h-1zM726,292h1v1h-1zM719,293h1v3h-1zM727,293h1v3h-1zM720,296h1v1h-1zM726,296h1v1h-1zM720,297h2v1h-2zM725,297h2v1h-2zM722,298h3v1h-3zM721,294h5v1h-5zM735,289h3v1h-3zM733,290h2v1h-2zM738,290h2v1h-2zM733,291h1v1h-1zM739,291h1v1h-1zM732,292h1v3h-1zM740,292h1v3h-1zM733,295h1v1h-1zM739,295h1v1h-1zM733,296h2v1h-2zM738,296h2v1h-2zM735,297h3v1h-3zM734,293h5v1h-5zM736,291h1v2h-1zM736,294h1v2h-1zM634,301h7v1h-7zM729,303h7v1h-7zM696,308h7v1h-7zM699,305h1v3h-1zM699,309h1v3h-1zM716,308h7v1h-7zM719,305h1v3h-1zM719,309h1v3h-1zM732,316h3v1h-3zM730,317h2v1h-2zM735,317h2v1h-2zM730,318h1v1h-1zM736,318h1v1h-1zM729,319h1v3h-1zM737,319h1v3h-1zM730,322h1v1h-1zM736,322h1v1h-1zM730,323h2v1h-2zM735,323h2v1h-2zM732,324h3v1h-3zM731,320h5v1h-5zM724,321h7v1h-7zM750,314h3v1h-3zM748,315h2v1h-2zM753,315h2v1h-2zM748,316h1v1h-1zM754,316h1v1h-1zM747,317h1v3h-1zM755,317h1v3h-1zM748,320h1v1h-1zM754,320h1v1h-1zM748,321h2v1h-2zM753,321h2v1h-2zM750,322h3v1h-3zM749,318h5v1h-5zM689,321h7v1h-7zM674,326h7v1h-7zM730,329h3v1h-3zM728,330h2v1h-2zM733,330h2v1h-2zM728,331h1v1h-1zM734,331h1v1h-1zM727,332h1v3h-1zM735,332h1v3h-1zM728,335h1v1h-1zM734,335h1v1h-1zM728,336h2v1h-2zM733,336h2v1h-2zM730,337h3v1h-3zM729,333h5v1h-5zM754,344h7v1h-7zM777,395h3v1h-3zM775,396h2v1h-2zM780,396h2v1h-2zM775,397h1v1h-1zM781,397h1v1h-1zM774,398h1v3h-1zM782,398h1v3h-1zM775,401h1v1h-1zM781,401h1v1h-1zM775,402h2v1h-2zM780,402h2v1h-2zM777,403h3v1h-3zM776,399h5v1h-5zM493,134h7v1h-7zM437,147h3v1h-3zM435,148h2v1h-2zM440,148h2v1h-2zM435,149h1v1h-1zM441,149h1v1h-1zM434,150h1v3h-1zM442,150h1v3h-1zM435,153h1v1h-1zM441,153h1v1h-1zM435,154h2v1h-2zM440,154h2v1h-2zM437,155h3v1h-3zM436,151h5v1h-5zM426,151h3v1h-3zM424,152h2v1h-2zM429,152h2v1h-2zM424,153h1v1h-1zM430,153h1v1h-1zM423,154h1v3h-1zM431,154h1v3h-1zM424,157h1v1h-1zM430,157h1v1h-1zM424,158h2v1h-2zM429,158h2v1h-2zM426,159h3v1h-3zM425,155h5v1h-5zM568,27h3v1h-3zM566,28h2v1h-2zM571,28h2v1h-2zM566,29h1v1h-1zM572,29h1v1h-1zM565,30h1v3h-1zM573,30h1v3h-1zM566,33h1v1h-1zM572,33h1v1h-1zM566,34h2v1h-2zM571,34h2v1h-2zM568,35h3v1h-3zM567,31h5v1h-5zM440,467h7v1h-7z" fill="#f88800"/>
<path d="M359,4h3v1h-3zM357,5h2v1h-2zM362,5h2v1h-2zM357,6h1v1h-1zM363,6h1v1h-1zM356,7h1v3h-1zM364,7h1v3h-1zM357,10h1v1h-1zM363,10h1v1h-1zM357,11h2v1h-2zM362,11h2v1h-2zM359,12h3v1h-3zM358,8h5v1h-5zM360,6h1v2h-1zM360,9h1v2h-1zM350,9h3v1h-3zM348,10h2v1h-2zM353,10h2v1h-2zM348,11h1v1h-1zM354,11h1v1h-1zM347,12h1v3h-1zM355,12h1v3h-1zM348,15h1v1h-1zM354,15h1v1h-1zM348,16h2v1h-2zM353,16h2v1h-2zM350,17h3v1h-3zM349,13h5v1h-5zM357,11h7v1h-7zM327,22h7v1h-7zM330,19h1v3h-1zM330,23h1v3h-1zM327,26h7v1h-7zM336,23h3v1h-3zM334,24h2v1h-2zM339,24h2v1h-2zM334,25h1v1h-1zM340,25h1v1h-1zM333,26h1v3h-1zM341,26h1v3h-1zM334,29h1v1h-1zM340,29h1v1h-1zM334,30h2v1h-2zM339,30h2v1h-2zM336,31h3v1h-3zM335,27h5v1h-5zM343,24h7v1h-7zM365,18h3v1h-3zM363,19h2v1h-2zM368,19h2v1h-2zM363,20h1v1h-1zM369,20h1v1h-1zM362,21h1v3h-1zM370,21h1v3h-1zM363,24h1v1h-1zM369,24h1v1h-1zM363,25h2v1h-2zM368,25h2v1h-2zM365,26h3v1h-3zM364,22h5v1h-5zM370,23h3v1h-3zM368,24h2v1h-2zM373,24h2v1h-2zM368,25h1v1h-1zM374,25h1v1h-1zM367,26h1v3h-1zM375,26h1v3h-1zM368,29h1v1h-1zM374,29h1v1h-1zM368,30h2v1h-2zM373,30h2v1h-2zM370,31h3v1h-3zM369,27h5v1h-5zM342,27h3v1h-3zM340,28h2v1h-2zM345,28h2v1h-2zM340,29h1v1h-1zM346,29h1v1h-1zM339,30h1v3h-1zM347,30h1v3h-1zM340,33h1v1h-1zM346,33h1v1h-1zM340,34h2v1h-2zM345,34h2v1h-2zM342,35h3v1h-3zM341,31h5v1h-5zM340,29h3v1h-3zM338,30h2v1h-2zM343,30h2v1h-2zM338,31h1v1h-1zM344,31h1v1h-1zM337,32h1v3h-1zM345,32h1v3h-1zM338,35h1v1h-1zM344,35h1v1h-1zM338,36h2v1h-2zM343,36h2v1h-2zM340,37h3v1h-3zM339,33h5v1h-5zM372,32h7v1h-7zM375,29h1v3h-1zM375,33h1v3h-1zM354,34h7v1h-7zM357,31h1v3h-1zM357,35h1v3h-1zM360,30h3v1h-3zM358,31h2v1h-2zM363,31h2v1h-2zM358,32h1v1h-1zM364,32h1v1h-1zM357,33h1v3h-1zM365,33h1v3h-1zM358,36h1v1h-1zM364,36h1v1h-1zM358,37h2v1h-2zM363,37h2v1h-2zM360,38h3v1h-3zM359,34h5v1h-5zM361,32h1v2h-1zM361,35h1v2h-1zM379,37h7v1h-7zM348,35h3v1h-3zM346,36h2v1h-2zM351,36h2v1h-2zM346,37h1v1h-1zM352,37h1v1h-1zM345,38h1v3h-1zM353,38h1v3h-1zM346,41h1v1h-1zM352,41h1v1h-1zM346,42h2v1h-2zM351,42h2v1h-2zM348,43h3v1h-3zM347,39h5v1h-5zM366,40h7v1h-7zM369,37h1v3h-1zM369,41h1v3h-1zM375,40h7v1h-7zM324,40h7v1h-7zM327,37h1v3h-1zM327,41h1v3h-1zM313,43h7v1h-7zM316,40h1v3h-1zM316,44h1v3h-1zM327,47h7v1h-7zM330,44h1v3h-1zM330,48h1v3h-1zM346,40h3v1h-3zM344,41h2v1h-2zM349,41h2v1h-2zM344,42h1v1h-1zM350,42h1v1h-1zM343,43h1v3h-1zM351,43h1v3h-1zM344,46h1v1h-1zM350,46h1v1h-1zM344,47h2v1h-2zM349,47h2v1h-2zM346,48h3v1h-3zM345,44h5v1h-5zM374,40h3v1h-3zM372,41h2v1h-2zM377,41h2v1h-2zM372,42h1v1h-1zM378,42h1v1h-1zM371,43h1v3h-1zM379,43h1v3h-1zM372,46h1v1h-1zM378,46h1v1h-1zM372,47h2v1h-2zM377,47h2v1h-2zM374,48h3v1h-3zM373,44h5v1h-5zM375,42h1v2h-1zM375,45h1v2h-1zM355,42h3v1h-3zM353,43h2v1h-2zM358,43h2v1h-2zM353,44h1v1h-1zM359,44h1v1h-1zM352,45h1v3h-1zM360,45h1v3h-1zM353,48h1v1h-1zM359,48h1v1h-1zM353,49h2v1h-2zM358,49h2v1h-2zM355,50h3v1h-3zM354,46h5v1h-5zM373,53h3v1h-3zM371,54h2v1h-2zM376,54h2v1h-2zM371,55h1v1h-1zM377,55h1v1h-1zM370,56h1v3h-1zM378,56h1v3h-1zM371,59h1v1h-1zM377,59h1v1h-1zM371,60h2v1h-2zM376,60h2v1h-2zM373,61h3v1h-3zM372,57h5v1h-5zM339,55h3v1h-3zM337,56h2v1h-2zM342,56h2v1h-2zM337,57h1v1h-1zM343,57h1v1h-1zM336,58h1v3h-1zM344,58h1v3h-1zM337,61h1v1h-1zM343,61h1v1h-1zM337,62h2v1h-2zM342,62h2v1h-2zM339,63h3v1h-3zM338,59h5v1h-5zM343,55h3v1h-3zM341,56h2v1h-2zM346,56h2v1h-2zM341,57h1v1h-1zM347,57h1v1h-1zM340,58h1v3h-1zM348,58h1v3h-1zM341,61h1v1h-1zM347,61h1v1h-1zM341,62h2v1h-2zM346,62h2v1h-2zM343,63h3v1h-3zM342,59h5v1h-5zM357,56h3v1h-3zM355,57h2v1h-2zM360,57h2v1h-2zM355,58h1v1h-1zM361,58h1v1h-1zM354,59h1v3h-1zM362,59h1v3h-1zM355,62h1v1h-1zM361,62h1v1h-1zM355,63h2v1h-2zM360,63h2v1h-2zM357,64h3v1h-3zM356,60h5v1h-5zM358,58h1v2h-1zM358,61h1v2h-1zM309,58h7v1h-7zM312,55h1v3h-1zM312,59h1v3h-1zM294,58h3v1h-3zM292,59h2v1h-2zM297,59h2v1h-2zM292,60h1v1h-1zM298,60h1v1h-1zM291,61h1v3h-1zM299,61h1v3h-1zM292,64h1v1h-1zM298,64h1v1h-1zM292,65h2v1h-2zM297,65h2v1h-2zM294,66h3v1h-3zM293,62h5v1h-5zM358,67h7v1h-7zM376,70h7v1h-7zM342,66h3v1h-3zM340,67h2v1h-2zM345,67h2v1h-2zM340,68h1v1h-1zM346,68h1v1h-1zM339,69h1v3h-1zM347,69h1v3h-1zM340,72h1v1h-1zM346,72h1v1h-1zM340,73h2v1h-2zM345,73h2v1h-2zM342,74h3v1h-3zM341,70h5v1h-5zM343,68h1v2h-1zM343,71h1v2h-1zM343,72h7v1h-7zM365,74h7v1h-7zM380,80h7v1h-7zM391,79h7v1h-7zM366,88h3v1h-3zM364,89h2v1h-2zM369,89h2v1h-2zM364,90h1v1h-1zM370,90h1v1h-1zM363,91h1v3h-1zM371,91h1v3h-1zM364,94h1v1h-1zM370,94h1v1h-1zM364,95h2v1h-2zM369,95h2v1h-2zM366,96h3v1h-3zM365,92h5v1h-5zM372,87h3v1h-3zM370,88h2v1h-2zM375,88h2v1h-2zM370,89h1v1h-1zM376,89h1v1h-1zM369,90h1v3h-1zM377,90h1v3h-1zM370,93h1v1h-1zM376,93h1v1h-1zM370,94h2v1h-2zM375,94h2v1h-2zM372,95h3v1h-3zM371,91h5v1h-5zM373,89h1v2h-1zM373,92h1v2h-1zM373,94h7v1h-7zM375,97h7v1h-7zM362,99h7v1h-7zM363,101h7v1h-7zM349,100h3v1h-3zM347,101h2v1h-2zM352,101h2v1h-2zM347,102h1v1h-1zM353,102h1v1h-1zM346,103h1v3h-1zM354,103h1v3h-1zM347,106h1v1h-1zM353,106h1v1h-1zM347,107h2v1h-2zM352,107h2v1h-2zM349,108h3v1h-3zM348,104h5v1h-5zM360,112h7v1h-7zM363,109h1v3h-1zM363,113h1v3h-1zM372,105h7v1h-7zM375,102h1v3h-1zM375,106h1v3h-1zM372,111h7v1h-7zM375,108h1v3h-1zM375,112h1v3h-1zM371,120h7v1h-7zM374,117h1v3h-1zM374,121h1v3h-1zM395,116h3v1h-3zM393,117h2v1h-2zM398,117h2v1h-2zM393,118h1v1h-1zM399,118h1v1h-1zM392,119h1v3h-1zM400,119h1v3h-1zM393,122h1v1h-1zM399,122h1v1h-1zM393,123h2v1h-2zM398,123h2v1h-2zM395,124h3v1h-3zM394,120h5v1h-5zM384,120h7v1h-7zM412,116h3v1h-3zM410,117h2v1h-2zM415,117h2v1h-2zM410,118h1v1h-1zM416,118h1v1h-1zM409,119h1v3h-1zM417,119h1v3h-1zM410,122h1v1h-1zM416,122h1v1h-1zM410,123h2v1h-2zM415,123h2v1h-2zM412,124h3v1h-3zM411,120h5v1h-5zM413,118h1v2h-1zM413,121h1v2h-1zM387,127h3v1h-3zM385,128h2v1h-2zM390,128h2v1h-2zM385,129h1v1h-1zM391,129h1v1h-1zM384,130h1v3h-1zM392,130h1v3h-1zM385,133h1v1h-1zM391,133h1v1h-1zM385,134h2v1h-2zM390,134h2v1h-2zM387,135h3v1h-3zM386,131h5v1h-5zM388,129h1v2h-1zM388,132h1v2h-1zM376,128h7v1h-7zM378,131h7v1h-7zM413,131h3v1h-3zM411,132h2v1h-2zM416,132h2v1h-2zM411,133h1v1h-1zM417,133h1v1h-1zM410,134h1v3h-1zM418,134h1v3h-1zM411,137h1v1h-1zM417,137h1v1h-1zM411,138h2v1h-2zM416,138h2v1h-2zM413,139h3v1h-3zM412,135h5v1h-5zM414,133h1v2h-1zM414,136h1v2h-1zM380,141h7v1h-7zM383,138h1v3h-1zM383,142h1v3h-1zM380,142h7v1h-7zM401,136h3v1h-3zM399,137h2v1h-2zM404,137h2v1h-2zM399,138h1v1h-1zM405,138h1v1h-1zM398,139h1v3h-1zM406,139h1v3h-1zM399,142h1v1h-1zM405,142h1v1h-1zM399,143h2v1h-2zM404,143h2v1h-2zM401,144h3v1h-3zM400,140h5v1h-5zM402,138h1v2h-1zM402,141h1v2h-1zM399,138h3v1h-3zM397,139h2v1h-2zM402,139h2v1h-2zM397,140h1v1h-1zM403,140h1v1h-1zM396,141h1v3h-1zM404,141h1v3h-1zM397,144h1v1h-1zM403,144h1v1h-1zM397,145h2v1h-2zM402,145h2v1h-2zM399,146h3v1h-3zM398,142h5v1h-5zM393,142h3v1h-3zM391,143h2v1h-2zM396,143h2v1h-2zM391,144h1v1h-1zM397,144h1v1h-1zM390,145h1v3h-1zM398,145h1v3h-1zM391,148h1v1h-1zM397,148h1v1h-1zM391,149h2v1h-2zM396,149h2v1h-2zM393,150h3v1h-3zM392,146h5v1h-5zM394,144h1v2h-1zM394,147h1v2h-1zM396,145h3v1h-3zM394,146h2v1h-2zM399,146h2v1h-2zM394,147h1v1h-1zM400,147h1v1h-1zM393,148h1v3h-1zM401,148h1v3h-1zM394,151h1v1h-1zM400,151h1v1h-1zM394,152h2v1h-2zM399,152h2v1h-2zM396,153h3v1h-3zM395,149h5v1h-5zM397,147h3v1h-3zM395,148h2v1h-2zM400,148h2v1h-2zM395,149h1v1h-1zM401,149h1v1h-1zM394,150h1v3h-1zM402,150h1v3h-1zM395,153h1v1h-1zM401,153h1v1h-1zM395,154h2v1h-2zM400,154h2v1h-2zM397,155h3v1h-3zM396,151h5v1h-5zM398,149h1v2h-1zM398,152h1v2h-1zM391,150h3v1h-3zM389,151h2v1h-2zM394,151h2v1h-2zM389,152h1v1h-1zM395,152h1v1h-1zM388,153h1v3h-1zM396,153h1v3h-1zM389,156h1v1h-1zM395,156h1v1h-1zM389,157h2v1h-2zM394,157h2v1h-2zM391,158h3v1h-3zM390,154h5v1h-5zM394,151h3v1h-3zM392,152h2v1h-2zM397,152h2v1h-2zM392,153h1v1h-1zM398,153h1v1h-1zM391,154h1v3h-1zM399,154h1v3h-1zM392,157h1v1h-1zM398,157h1v1h-1zM392,158h2v1h-2zM397,158h2v1h-2zM394,159h3v1h-3zM393,155h5v1h-5zM395,153h1v2h-1zM395,156h1v2h-1zM390,154h3v1h-3zM388,155h2v1h-2zM393,155h2v1h-2zM388,156h1v1h-1zM394,156h1v1h-1zM387,157h1v3h-1zM395,157h1v3h-1zM388,160h1v1h-1zM394,160h1v1h-1zM388,161h2v1h-2zM393,161h2v1h-2zM390,162h3v1h-3zM389,158h5v1h-5zM393,156h3v1h-3zM391,157h2v1h-2zM396,157h2v1h-2zM391,158h1v1h-1zM397,158h1v1h-1zM390,159h1v3h-1zM398,159h1v3h-1zM391,162h1v1h-1zM397,162h1v1h-1zM391,163h2v1h-2zM396,163h2v1h-2zM393,164h3v1h-3zM392,160h5v1h-5zM394,158h1v2h-1zM394,161h1v2h-1zM391,159h3v1h-3zM389,160h2v1h-2zM394,160h2v1h-2zM389,161h1v1h-1zM395,161h1v1h-1zM388,162h1v3h-1zM396,162h1v3h-1zM389,165h1v1h-1zM395,165h1v1h-1zM389,166h2v1h-2zM394,166h2v1h-2zM391,167h3v1h-3zM390,163h5v1h-5zM390,162h3v1h-3zM388,163h2v1h-2zM393,163h2v1h-2zM388,164h1v1h-1zM394,164h1v1h-1zM387,165h1v3h-1zM395,165h1v3h-1zM388,168h1v1h-1zM394,168h1v1h-1zM388,169h2v1h-2zM393,169h2v1h-2zM390,170h3v1h-3zM389,166h5v1h-5zM391,164h1v2h-1zM391,167h1v2h-1zM394,167h3v1h-3zM392,168h2v1h-2zM397,168h2v1h-2zM392,169h1v1h-1zM398,169h1v1h-1zM391,170h1v3h-1zM399,170h1v3h-1zM392,173h1v1h-1zM398,173h1v1h-1zM392,174h2v1h-2zM397,174h2v1h-2zM394,175h3v1h-3zM393,171h5v1h-5zM395,169h1v2h-1zM395,172h1v2h-1zM397,169h3v1h-3zM395,170h2v1h-2zM400,170h2v1h-2zM395,171h1v1h-1zM401,171h1v1h-1zM394,172h1v3h-1zM402,172h1v3h-1zM395,175h1v1h-1zM401,175h1v1h-1zM395,176h2v1h-2zM400,176h2v1h-2zM397,177h3v1h-3zM396,173h5v1h-5zM402,160h7v1h-7zM428,154h3v1h-3zM426,155h2v1h-2zM431,155h2v1h-2zM426,156h1v1h-1zM432,156h1v1h-1zM425,157h1v3h-1zM433,157h1v3h-1zM426,160h1v1h-1zM432,160h1v1h-1zM426,161h2v1h-2zM431,161h2v1h-2zM428,162h3v1h-3zM427,158h5v1h-5zM385,181h7v1h-7zM388,178h1v3h-1zM388,182h1v3h-1zM652,180h7v1h-7zM669,188h3v1h-3zM667,189h2v1h-2zM672,189h2v1h-2zM667,190h1v1h-1zM673,190h1v1h-1zM666,191h1v3h-1zM674,191h1v3h-1zM667,194h1v1h-1zM673,194h1v1h-1zM667,195h2v1h-2zM672,195h2v1h-2zM669,196h3v1h-3zM668,192h5v1h-5zM672,194h3v1h-3zM670,195h2v1h-2zM675,195h2v1h-2zM670,196h1v1h-1zM676,196h1v1h-1zM669,197h1v3h-1zM677,197h1v3h-1zM670,200h1v1h-1zM676,200h1v1h-1zM670,201h2v1h-2zM675,201h2v1h-2zM672,202h3v1h-3zM671,198h5v1h-5zM673,196h1v2h-1zM673,199h1v2h-1zM688,197h3v1h-3zM686,198h2v1h-2zM691,198h2v1h-2zM686,199h1v1h-1zM692,199h1v1h-1zM685,200h1v3h-1zM693,200h1v3h-1zM686,203h1v1h-1zM692,203h1v1h-1zM686,204h2v1h-2zM691,204h2v1h-2zM688,205h3v1h-3zM687,201h5v1h-5zM689,203h3v1h-3zM687,204h2v1h-2zM692,204h2v1h-2zM687,205h1v1h-1zM693,205h1v1h-1zM686,206h1v3h-1zM694,206h1v3h-1zM687,209h1v1h-1zM693,209h1v1h-1zM687,210h2v1h-2zM692,210h2v1h-2zM689,211h3v1h-3zM688,207h5v1h-5zM677,204h7v1h-7zM701,193h3v1h-3zM699,194h2v1h-2zM704,194h2v1h-2zM699,195h1v1h-1zM705,195h1v1h-1zM698,196h1v3h-1zM706,196h1v3h-1zM699,199h1v1h-1zM705,199h1v1h-1zM699,200h2v1h-2zM704,200h2v1h-2zM701,201h3v1h-3zM700,197h5v1h-5zM703,200h7v1h-7zM714,188h7v1h-7zM667,207h7v1h-7zM667,207h3v1h-3zM665,208h2v1h-2zM670,208h2v1h-2zM665,209h1v1h-1zM671,209h1v1h-1zM664,210h1v3h-1zM672,210h1v3h-1zM665,213h1v1h-1zM671,213h1v1h-1zM665,214h2v1h-2zM670,214h2v1h-2zM667,215h3v1h-3zM666,211h5v1h-5zM713,204h3v1h-3zM711,205h2v1h-2zM716,205h2v1h-2zM711,206h1v1h-1zM717,206h1v1h-1zM710,207h1v3h-1zM718,207h1v3h-1zM711,210h1v1h-1zM717,210h1v1h-1zM711,211h2v1h-2zM716,211h2v1h-2zM713,212h3v1h-3zM712,208h5v1h-5zM711,210h3v1h-3zM709,211h2v1h-2zM714,211h2v1h-2zM709,212h1v1h-1zM715,212h1v1h-1zM708,213h1v3h-1zM716,213h1v3h-1zM709,216h1v1h-1zM715,216h1v1h-1zM709,217h2v1h-2zM714,217h2v1h-2zM711,218h3v1h-3zM710,214h5v1h-5zM678,215h7v1h-7zM682,215h7v1h-7zM685,219h7v1h-7zM688,216h1v3h-1zM688,220h1v3h-1zM677,224h7v1h-7zM680,221h1v3h-1zM680,225h1v3h-1zM695,222h7v1h-7zM694,224h7v1h-7zM690,223h3v1h-3zM688,224h2v1h-2zM693,224h2v1h-2zM688,225h1v1h-1zM694,225h1v1h-1zM687,226h1v3h-1zM695,226h1v3h-1zM688,229h1v1h-1zM694,229h1v1h-1zM688,230h2v1h-2zM693,230h2v1h-2zM690,231h3v1h-3zM689,227h5v1h-5zM691,225h1v2h-1zM691,228h1v2h-1zM718,215h3v1h-3zM716,216h2v1h-2zM721,216h2v1h-2zM716,217h1v1h-1zM722,217h1v1h-1zM715,218h1v3h-1zM723,218h1v3h-1zM716,221h1v1h-1zM722,221h1v1h-1zM716,222h2v1h-2zM721,222h2v1h-2zM718,223h3v1h-3zM717,219h5v1h-5zM714,221h3v1h-3zM712,222h2v1h-2zM717,222h2v1h-2zM712,223h1v1h-1zM718,223h1v1h-1zM711,224h1v3h-1zM719,224h1v3h-1zM712,227h1v1h-1zM718,227h1v1h-1zM712,228h2v1h-2zM717,228h2v1h-2zM714,229h3v1h-3zM713,225h5v1h-5zM710,230h7v1h-7zM711,233h7v1h-7zM747,233h7v1h-7zM750,230h1v3h-1zM750,234h1v3h-1zM687,229h3v1h-3zM685,230h2v1h-2zM690,230h2v1h-2zM685,231h1v1h-1zM691,231h1v1h-1zM684,232h1v3h-1zM692,232h1v3h-1zM685,235h1v1h-1zM691,235h1v1h-1zM685,236h2v1h-2zM690,236h2v1h-2zM687,237h3v1h-3zM686,233h5v1h-5zM700,235h7v1h-7zM698,238h7v1h-7zM709,237h3v1h-3zM707,238h2v1h-2zM712,238h2v1h-2zM707,239h1v1h-1zM713,239h1v1h-1zM706,240h1v3h-1zM714,240h1v3h-1zM707,243h1v1h-1zM713,243h1v1h-1zM707,244h2v1h-2zM712,244h2v1h-2zM709,245h3v1h-3zM708,241h5v1h-5zM703,246h7v1h-7zM706,243h1v3h-1zM706,247h1v3h-1zM702,242h7v1h-7zM688,238h3v1h-3zM686,239h2v1h-2zM691,239h2v1h-2zM686,240h1v1h-1zM692,240h1v1h-1zM685,241h1v3h-1zM693,241h1v3h-1zM686,244h1v1h-1zM692,244h1v1h-1zM686,245h2v1h-2zM691,245h2v1h-2zM688,246h3v1h-3zM687,242h5v1h-5zM689,240h1v2h-1zM689,243h1v2h-1zM683,240h3v1h-3zM681,241h2v1h-2zM686,241h2v1h-2zM681,242h1v1h-1zM687,242h1v1h-1zM680,243h1v3h-1zM688,243h1v3h-1zM681,246h1v1h-1zM687,246h1v1h-1zM681,247h2v1h-2zM686,247h2v1h-2zM683,248h3v1h-3zM682,244h5v1h-5zM729,242h7v1h-7zM720,246h7v1h-7zM712,247h7v1h-7zM661,247h7v1h-7zM703,253h7v1h-7zM712,252h7v1h-7zM663,254h7v1h-7zM666,251h1v3h-1zM666,255h1v3h-1zM696,255h7v1h-7zM692,256h3v1h-3zM690,257h2v1h-2zM695,257h2v1h-2zM690,258h1v1h-1zM696,258h1v1h-1zM689,259h1v3h-1zM697,259h1v3h-1zM690,262h1v1h-1zM696,262h1v1h-1zM690,263h2v1h-2zM695,263h2v1h-2zM692,264h3v1h-3zM691,260h5v1h-5zM693,258h1v2h-1zM693,261h1v2h-1zM665,261h7v1h-7zM695,264h7v1h-7zM748,251h3v1h-3zM746,252h2v1h-2zM751,252h2v1h-2zM746,253h1v1h-1zM752,253h1v1h-1zM745,254h1v3h-1zM753,254h1v3h-1zM746,257h1v1h-1zM752,257h1v1h-1zM746,258h2v1h-2zM751,258h2v1h-2zM748,259h3v1h-3zM747,255h5v1h-5zM744,251h7v1h-7zM740,254h3v1h-3zM738,255h2v1h-2zM743,255h2v1h-2zM738,256h1v1h-1zM744,256h1v1h-1zM737,257h1v3h-1zM745,257h1v3h-1zM738,260h1v1h-1zM744,260h1v1h-1zM738,261h2v1h-2zM743,261h2v1h-2zM740,262h3v1h-3zM739,258h5v1h-5zM741,257h3v1h-3zM739,258h2v1h-2zM744,258h2v1h-2zM739,259h1v1h-1zM745,259h1v1h-1zM738,260h1v3h-1zM746,260h1v3h-1zM739,263h1v1h-1zM745,263h1v1h-1zM739,264h2v1h-2zM744,264h2v1h-2zM741,265h3v1h-3zM740,261h5v1h-5zM660,269h7v1h-7zM673,276h7v1h-7zM694,276h7v1h-7zM693,278h7v1h-7zM748,273h7v1h-7zM747,284h7v1h-7zM729,286h3v1h-3zM727,287h2v1h-2zM732,287h2v1h-2zM727,288h1v1h-1zM733,288h1v1h-1zM726,289h1v3h-1zM734,289h1v3h-1zM727,292h1v1h-1zM733,292h1v1h-1zM727,293h2v1h-2zM732,293h2v1h-2zM729,294h3v1h-3zM728,290h5v1h-5zM730,288h1v2h-1zM730,291h1v2h-1zM752,292h3v1h-3zM750,293h2v1h-2zM755,293h2v1h-2zM750,294h1v1h-1zM756,294h1v1h-1zM749,295h1v3h-1zM757,295h1v3h-1zM750,298h1v1h-1zM756,298h1v1h-1zM750,299h2v1h-2zM755,299h2v1h-2zM752,300h3v1h-3zM751,296h5v1h-5zM751,297h3v1h-3zM749,298h2v1h-2zM754,298h2v1h-2zM749,299h1v1h-1zM755,299h1v1h-1zM748,300h1v3h-1zM756,300h1v3h-1zM749,303h1v1h-1zM755,303h1v1h-1zM749,304h2v1h-2zM754,304h2v1h-2zM751,305h3v1h-3zM750,301h5v1h-5zM752,299h1v2h-1zM752,302h1v2h-1zM744,316h3v1h-3zM742,317h2v1h-2zM747,317h2v1h-2zM742,318h1v1h-1zM748,318h1v1h-1zM741,319h1v3h-1zM749,319h1v3h-1zM742,322h1v1h-1zM748,322h1v1h-1zM742,323h2v1h-2zM747,323h2v1h-2zM744,324h3v1h-3zM743,320h5v1h-5zM752,326h3v1h-3zM750,327h2v1h-2zM755,327h2v1h-2zM750,328h1v1h-1zM756,328h1v1h-1zM749,329h1v3h-1zM757,329h1v3h-1zM750,332h1v1h-1zM756,332h1v1h-1zM750,333h2v1h-2zM755,333h2v1h-2zM752,334h3v1h-3zM751,330h5v1h-5zM798,214h7v1h-7zM799,217h7v1h-7zM794,223h3v1h-3zM792,224h2v1h-2zM797,224h2v1h-2zM792,225h1v1h-1zM798,225h1v1h-1zM791,226h1v3h-1zM799,226h1v3h-1zM792,229h1v1h-1zM798,229h1v1h-1zM792,230h2v1h-2zM797,230h2v1h-2zM794,231h3v1h-3zM793,227h5v1h-5zM795,225h1v2h-1zM795,228h1v2h-1zM798,224h3v1h-3zM796,225h2v1h-2zM801,225h2v1h-2zM796,226h1v1h-1zM802,226h1v1h-1zM795,227h1v3h-1zM803,227h1v3h-1zM796,230h1v1h-1zM802,230h1v1h-1zM796,231h2v1h-2zM801,231h2v1h-2zM798,232h3v1h-3zM797,228h5v1h-5zM799,226h1v2h-1zM799,229h1v2h-1zM801,245h3v1h-3zM799,246h2v1h-2zM804,246h2v1h-2zM799,247h1v1h-1zM805,247h1v1h-1zM798,248h1v3h-1zM806,248h1v3h-1zM799,251h1v1h-1zM805,251h1v1h-1zM799,252h2v1h-2zM804,252h2v1h-2zM801,253h3v1h-3zM800,249h5v1h-5zM802,247h1v2h-1zM802,250h1v2h-1zM726,242h7v1h-7zM715,246h7v1h-7zM466,48h7v1h-7zM512,9h3v1h-3zM510,10h2v1h-2zM515,10h2v1h-2zM510,11h1v1h-1zM516,11h1v1h-1zM509,12h1v3h-1zM517,12h1v3h-1zM510,15h1v1h-1zM516,15h1v1h-1zM510,16h2v1h-2zM515,16h2v1h-2zM512,17h3v1h-3zM511,13h5v1h-5zM513,11h1v2h-1zM513,14h1v2h-1zM513,34h7v1h-7zM516,31h1v3h-1zM516,35h1v3h-1zM529,41h3v1h-3zM527,42h2v1h-2zM532,42h2v1h-2zM527,43h1v1h-1zM533,43h1v1h-1zM526,44h1v3h-1zM534,44h1v3h-1zM527,47h1v1h-1zM533,47h1v1h-1zM527,48h2v1h-2zM532,48h2v1h-2zM529,49h3v1h-3zM528,45h5v1h-5zM530,43h1v2h-1zM530,46h1v2h-1zM482,86h7v1h-7zM440,126h7v1h-7zM460,126h7v1h-7zM430,154h3v1h-3zM428,155h2v1h-2zM433,155h2v1h-2zM428,156h1v1h-1zM434,156h1v1h-1zM427,157h1v3h-1zM435,157h1v3h-1zM428,160h1v1h-1zM434,160h1v1h-1zM428,161h2v1h-2zM433,161h2v1h-2zM430,162h3v1h-3zM429,158h5v1h-5zM431,156h1v2h-1zM431,159h1v2h-1zM439,161h7v1h-7zM473,170h7v1h-7zM437,172h7v1h-7zM444,192h7v1h-7zM563,33h3v1h-3zM561,34h2v1h-2zM566,34h2v1h-2zM561,35h1v1h-1zM567,35h1v1h-1zM560,36h1v3h-1zM568,36h1v3h-1zM561,39h1v1h-1zM567,39h1v1h-1zM561,40h2v1h-2zM566,40h2v1h-2zM563,41h3v1h-3zM562,37h5v1h-5zM730,45h7v1h-7zM676,139h3v1h-3zM674,140h2v1h-2zM679,140h2v1h-2zM674,141h1v1h-1zM680,141h1v1h-1zM673,142h1v3h-1zM681,142h1v3h-1zM674,145h1v1h-1zM680,145h1v1h-1zM674,146h2v1h-2zM679,146h2v1h-2zM676,147h3v1h-3zM675,143h5v1h-5zM654,166h7v1h-7zM657,163h1v3h-1zM657,167h1v3h-1zM600,181h7v1h-7zM603,178h1v3h-1zM603,182h1v3h-1zM436,103h7v1h-7zM765,400h3v1h-3zM763,401h2v1h-2zM768,401h2v1h-2zM763,402h1v1h-1zM769,402h1v1h-1zM762,403h1v3h-1zM770,403h1v3h-1zM763,406h1v1h-1zM769,406h1v1h-1zM763,407h2v1h-2zM768,407h2v1h-2zM765,408h3v1h-3zM764,404h5v1h-5zM766,402h1v2h-1zM766,405h1v2h-1zM768,437h7v1h-7z" fill="#ffb800"/>
<path d="M360,23h3v1h-3zM358,24h2v1h-2zM363,24h2v1h-2zM358,25h1v1h-1zM364,25h1v1h-1zM357,26h1v3h-1zM365,26h1v3h-1zM358,29h1v1h-1zM364,29h1v1h-1zM358,30h2v1h-2zM363,30h2v1h-2zM360,31h3v1h-3zM359,27h5v1h-5zM361,25h1v2h-1zM361,28h1v2h-1zM380,22h7v1h-7zM383,19h1v3h-1zM383,23h1v3h-1zM368,25h7v1h-7zM369,26h7v1h-7zM351,29h7v1h-7zM383,32h7v1h-7zM359,36h7v1h-7zM362,33h1v3h-1zM362,37h1v3h-1zM349,41h3v1h-3zM347,42h2v1h-2zM352,42h2v1h-2zM347,43h1v1h-1zM353,43h1v1h-1zM346,44h1v3h-1zM354,44h1v3h-1zM347,47h1v1h-1zM353,47h1v1h-1zM347,48h2v1h-2zM352,48h2v1h-2zM349,49h3v1h-3zM348,45h5v1h-5zM350,43h1v2h-1zM350,46h1v2h-1zM338,53h3v1h-3zM336,54h2v1h-2zM341,54h2v1h-2zM336,55h1v1h-1zM342,55h1v1h-1zM335,56h1v3h-1zM343,56h1v3h-1zM336,59h1v1h-1zM342,59h1v1h-1zM336,60h2v1h-2zM341,60h2v1h-2zM338,61h3v1h-3zM337,57h5v1h-5zM339,55h1v2h-1zM339,58h1v2h-1zM379,69h7v1h-7zM360,70h3v1h-3zM358,71h2v1h-2zM363,71h2v1h-2zM358,72h1v1h-1zM364,72h1v1h-1zM357,73h1v3h-1zM365,73h1v3h-1zM358,76h1v1h-1zM364,76h1v1h-1zM358,77h2v1h-2zM363,77h2v1h-2zM360,78h3v1h-3zM359,74h5v1h-5zM352,75h7v1h-7zM358,80h7v1h-7zM361,77h1v3h-1zM361,81h1v3h-1zM363,78h7v1h-7zM375,76h7v1h-7zM381,77h7v1h-7zM394,82h7v1h-7zM376,85h7v1h-7zM383,85h7v1h-7zM379,86h7v1h-7zM382,83h1v3h-1zM382,87h1v3h-1zM401,87h7v1h-7zM336,102h7v1h-7zM408,100h3v1h-3zM406,101h2v1h-2zM411,101h2v1h-2zM406,102h1v1h-1zM412,102h1v1h-1zM405,103h1v3h-1zM413,103h1v3h-1zM406,106h1v1h-1zM412,106h1v1h-1zM406,107h2v1h-2zM411,107h2v1h-2zM408,108h3v1h-3zM407,104h5v1h-5zM409,102h1v2h-1zM409,105h1v2h-1zM395,114h3v1h-3zM393,115h2v1h-2zM398,115h2v1h-2zM393,116h1v1h-1zM399,116h1v1h-1zM392,117h1v3h-1zM400,117h1v3h-1zM393,120h1v1h-1zM399,120h1v1h-1zM393,121h2v1h-2zM398,121h2v1h-2zM395,122h3v1h-3zM394,118h5v1h-5zM396,116h1v2h-1zM396,119h1v2h-1zM370,135h7v1h-7zM386,139h7v1h-7zM389,136h1v3h-1zM389,140h1v3h-1zM415,157h7v1h-7zM674,173h7v1h-7zM677,170h1v3h-1zM677,174h1v3h-1zM725,185h3v1h-3zM723,186h2v1h-2zM728,186h2v1h-2zM723,187h1v1h-1zM729,187h1v1h-1zM722,188h1v3h-1zM730,188h1v3h-1zM723,191h1v1h-1zM729,191h1v1h-1zM723,192h2v1h-2zM728,192h2v1h-2zM725,193h3v1h-3zM724,189h5v1h-5zM727,195h3v1h-3zM725,196h2v1h-2zM730,196h2v1h-2zM725,197h1v1h-1zM731,197h1v1h-1zM724,198h1v3h-1zM732,198h1v3h-1zM725,201h1v1h-1zM731,201h1v1h-1zM725,202h2v1h-2zM730,202h2v1h-2zM727,203h3v1h-3zM726,199h5v1h-5zM734,210h7v1h-7zM723,221h7v1h-7zM726,218h1v3h-1zM726,222h1v3h-1zM704,225h3v1h-3zM702,226h2v1h-2zM707,226h2v1h-2zM702,227h1v1h-1zM708,227h1v1h-1zM701,228h1v3h-1zM709,228h1v3h-1zM702,231h1v1h-1zM708,231h1v1h-1zM702,232h2v1h-2zM707,232h2v1h-2zM704,233h3v1h-3zM703,229h5v1h-5zM705,227h1v2h-1zM705,230h1v2h-1zM725,224h3v1h-3zM723,225h2v1h-2zM728,225h2v1h-2zM723,226h1v1h-1zM729,226h1v1h-1zM722,227h1v3h-1zM730,227h1v3h-1zM723,230h1v1h-1zM729,230h1v1h-1zM723,231h2v1h-2zM728,231h2v1h-2zM725,232h3v1h-3zM724,228h5v1h-5zM738,231h7v1h-7zM732,233h7v1h-7zM749,236h3v1h-3zM747,237h2v1h-2zM752,237h2v1h-2zM747,238h1v1h-1zM753,238h1v1h-1zM746,239h1v3h-1zM754,239h1v3h-1zM747,242h1v1h-1zM753,242h1v1h-1zM747,243h2v1h-2zM752,243h2v1h-2zM749,244h3v1h-3zM748,240h5v1h-5zM750,238h1v2h-1zM750,241h1v2h-1zM753,242h7v1h-7zM752,264h7v1h-7zM694,277h7v1h-7zM711,273h3v1h-3zM709,274h2v1h-2zM714,274h2v1h-2zM709,275h1v1h-1zM715,275h1v1h-1zM708,276h1v3h-1zM716,276h1v3h-1zM709,279h1v1h-1zM715,279h1v1h-1zM709,280h2v1h-2zM714,280h2v1h-2zM711,281h3v1h-3zM710,277h5v1h-5zM775,277h7v1h-7zM778,274h1v3h-1zM778,278h1v3h-1zM503,95h3v1h-3zM501,96h2v1h-2zM506,96h2v1h-2zM501,97h1v1h-1zM507,97h1v1h-1zM500,98h1v3h-1zM508,98h1v3h-1zM501,101h1v1h-1zM507,101h1v1h-1zM501,102h2v1h-2zM506,102h2v1h-2zM503,103h3v1h-3zM502,99h5v1h-5zM504,97h1v2h-1zM504,100h1v2h-1zM437,93h3v1h-3zM435,94h2v1h-2zM440,94h2v1h-2zM435,95h1v1h-1zM441,95h1v1h-1zM434,96h1v3h-1zM442,96h1v3h-1zM435,99h1v1h-1zM441,99h1v1h-1zM435,100h2v1h-2zM440,100h2v1h-2zM437,101h3v1h-3zM436,97h5v1h-5zM438,95h1v2h-1zM438,98h1v2h-1zM445,100h7v1h-7zM657,144h3v1h-3zM655,145h2v1h-2zM660,145h2v1h-2zM655,146h1v1h-1zM661,146h1v1h-1zM654,147h1v3h-1zM662,147h1v3h-1zM655,150h1v1h-1zM661,150h1v1h-1zM655,151h2v1h-2zM660,151h2v1h-2zM657,152h3v1h-3zM656,148h5v1h-5zM658,146h1v2h-1zM658,149h1v2h-1zM712,154h3v1h-3zM710,155h2v1h-2zM715,155h2v1h-2zM710,156h1v1h-1zM716,156h1v1h-1zM709,157h1v3h-1zM717,157h1v3h-1zM710,160h1v1h-1zM716,160h1v1h-1zM710,161h2v1h-2zM715,161h2v1h-2zM712,162h3v1h-3zM711,158h5v1h-5zM713,156h1v2h-1zM713,159h1v2h-1z" fill="#ffff00"/>
<circle cx="407" cy="407" r="159.5" fill="none" stroke="#c0c0c0" stroke-width="0.98"/>
<circle cx="407" cy="407" r="279.5" fill="none" stroke="#c0c0c0" stroke-width="0.98"/>
<circle cx="407" cy="407" r="399.5" fill="none" stroke="#c0c0c0" stroke-width="0.98"/>
<circle cx="407" cy="407" r="519.5" fill="none" stroke="#c0c0c0" stroke-width="0.98"/>
<circle cx="407" cy="407" r="39.5" fill="none" stroke="#ff0000" stroke-width="1"/>
<path d="M351.5,14.5 L371.5,34.5 L351.5,54.5 L331.5,34.5Z" fill="none" stroke="#00ff00" stroke-width="1" stroke-dasharray="4.2 4.3"/>
<path d="M432,69.1 L452.5,89.6 L432,110.1 L411.5,89.6Z" fill="none" stroke="#00ff00" stroke-width="1" stroke-dasharray="4.2 4.3"/>
<path d="M735.7,183.5 L755.2,203 L735.7,222.5 L716.2,203Z" fill="none" stroke="#00ff00" stroke-width="1" stroke-dasharray="4.2 4.3"/>
<g font-family="&quot;DejaVu Sans&quot;,&quot;Liberation Sans&quot;,sans-serif" font-size="9.7" text-rendering="geometricPrecision" shape-rendering="auto" stroke-width="0"><rect x="395.3" y="3" width="21.5" height="10" fill="#5c504c" shape-rendering="crispEdges"/><text x="396.3" y="11" textLength="19.5" lengthAdjust="spacingAndGlyphs" fill="#ffff90">313</text><rect x="395.3" y="123" width="21.5" height="10" fill="#5c504c" shape-rendering="crispEdges"/><text x="396.3" y="131" textLength="19.5" lengthAdjust="spacingAndGlyphs" fill="#ffff90">219</text><rect x="395.3" y="243" width="21.5" height="10" fill="#5c504c" shape-rendering="crispEdges"/><text x="396.3" y="251" textLength="19.5" lengthAdjust="spacingAndGlyphs" fill="#ffff90">125</text><text x="399.7" y="371" textLength="12.5" lengthAdjust="spacingAndGlyphs" fill="#ffff90">31</text>
<text x="281.3" y="106" textLength="55.2" lengthAdjust="spacingAndGlyphs" fill="#fff" stroke="#fff">O-6389<tspan fill="#ff0000" stroke="#ff0000">+</tspan>3</text>
<text x="362.4" y="161" textLength="51.8" lengthAdjust="spacingAndGlyphs" fill="#fff" stroke="#fff">L-5062<tspan fill="#ff0000" stroke="#ff0000">+</tspan>4</text>
<text x="665.3" y="141" textLength="50.3" lengthAdjust="spacingAndGlyphs" fill="#fff" stroke="#fff">F-3669<tspan fill="#00e0e0" stroke="#00e0e0">-</tspan>2</text>
</g>
<path d="M716.5,137.5 L719.5,142 L722.5,137.5" fill="none" stroke="#ffff00" stroke-width="1"/>
</svg>
<div class="legend"></div>
<span class="t c" style="left:12.60px;top:763.00px;font-size:9.4px;color:#ffffff;letter-spacing:-0.021px;">Symbols</span>
<span class="t n" style="left:52.40px;top:763.00px;font-size:9.4px;color:#ffffff;letter-spacing:0.348px;">-CG</span>
<span class="t n" style="left:77.10px;top:763.00px;font-size:9.4px;color:#ffffff;letter-spacing:1.048px;">-IC</span>
<span class="t n" style="left:98.20px;top:763.00px;font-size:9.4px;color:#ffffff;letter-spacing:-0.386px;">+CG</span>
<span class="t n" style="left:123.40px;top:763.00px;font-size:9.4px;color:#ffffff;letter-spacing:0.114px;">+IC</span>
<span class="t c" style="left:152.60px;top:763.00px;font-size:9.4px;color:#ffffff;letter-spacing:-0.165px;">Strike age color codes</span>
<span class="t c" style="left:12.60px;top:776.00px;font-size:9.4px;color:#ffffff;letter-spacing:-0.222px;">Recent</span>
<span class="t c" style="left:12.60px;top:789.00px;font-size:9.4px;color:#ffffff;letter-spacing:0.228px;">Old</span>
<span class="t c" style="left:153.20px;top:776.00px;font-size:9.4px;color:#ffe000;letter-spacing:-0.056px;">15+</span>
<span class="t c" style="left:187.80px;top:776.00px;font-size:9.4px;color:#ffc000;letter-spacing:0.044px;">30+</span>
<span class="t c" style="left:222.50px;top:776.00px;font-size:9.4px;color:#ffa000;letter-spacing:0.044px;">45+</span>
<span class="t c" style="left:153.20px;top:789.00px;font-size:9.4px;color:#ff8000;letter-spacing:-0.056px;">60+</span>
<span class="t c" style="left:187.80px;top:789.00px;font-size:9.4px;color:#ff6000;letter-spacing:0.044px;">75+</span>
<span class="t c" style="left:222.50px;top:789.00px;font-size:9.4px;color:#ff4000;letter-spacing:0.044px;">90+</span>
<svg class="lsym" width="244" height="44" viewBox="9 759 244 44" shape-rendering="crispEdges"><path d="M59,776h3v1h-3zM57,777h2v1h-2zM62,777h2v1h-2zM57,778h1v1h-1zM63,778h1v1h-1zM56,779h1v3h-1zM64,779h1v3h-1zM57,782h1v1h-1zM63,782h1v1h-1zM57,783h2v1h-2zM62,783h2v1h-2zM59,784h3v1h-3zM58,780h5v1h-5zM82,780h7v1h-7zM109,776h3v1h-3zM107,777h2v1h-2zM112,777h2v1h-2zM107,778h1v1h-1zM113,778h1v1h-1zM106,779h1v3h-1zM114,779h1v3h-1zM107,782h1v1h-1zM113,782h1v1h-1zM107,783h2v1h-2zM112,783h2v1h-2zM109,784h3v1h-3zM108,780h5v1h-5zM110,778h1v2h-1zM110,781h1v2h-1zM132,780h7v1h-7zM135,777h1v3h-1zM135,781h1v3h-1z" fill="#00ffff"/><path d="M59,789h3v1h-3zM57,790h2v1h-2zM62,790h2v1h-2zM57,791h1v1h-1zM63,791h1v1h-1zM56,792h1v3h-1zM64,792h1v3h-1zM57,795h1v1h-1zM63,795h1v1h-1zM57,796h2v1h-2zM62,796h2v1h-2zM59,797h3v1h-3zM58,793h5v1h-5zM82,793h7v1h-7zM109,789h3v1h-3zM107,790h2v1h-2zM112,790h2v1h-2zM107,791h1v1h-1zM113,791h1v1h-1zM106,792h1v3h-1zM114,792h1v3h-1zM107,795h1v1h-1zM113,795h1v1h-1zM107,796h2v1h-2zM112,796h2v1h-2zM109,797h3v1h-3zM108,793h5v1h-5zM110,791h1v2h-1zM110,794h1v2h-1zM132,793h7v1h-7zM135,790h1v3h-1zM135,794h1v3h-1z" fill="#ffff00"/></svg>
<div class="copy"></div>
<span class="t c" style="left:688.70px;top:794.00px;font-size:9.6px;color:#ffffff;letter-spacing:-0.182px;">©2005 Astrogenic Systems</span>
<div class="box" style="left:812px;top:8px;width:318px;height:318px"></div>
<div class="box" style="left:812px;top:333px;width:318px;height:113px"></div>
<div class="box" style="left:812px;top:453px;width:318px;height:348px"></div>
<div class="btn" style="left:819px;top:16px;width:56px;height:16px;background:#600000"></div>
<span class="t n b" style="left:823.70px;top:20.00px;font-size:12.4px;color:#dcdcdc;letter-spacing:-0.039px;">STRIKE</span>
<div class="btn" style="left:883px;top:16px;width:56px;height:16px;background:#303030"></div>
<span class="t n b" style="left:889.40px;top:20.00px;font-size:12.4px;color:#c0c0c0;letter-spacing:0.623px;">NOISE</span>
<div class="btn" style="left:994px;top:16px;width:126px;height:16px;background:#303030"></div>
<span class="t n b" style="left:998.10px;top:20.00px;font-size:12.4px;color:#ffffff;letter-spacing:-0.017px;">Bng 355°</span>
<span class="t n b" style="left:1075.20px;top:20.00px;font-size:12.4px;color:#00ff00;letter-spacing:0.217px;">251mi</span>
<div class="btn" style="left:821px;top:64px;width:80px;height:14px;background:#606060"></div>
<span class="t n" style="left:828.60px;top:66.00px;font-size:12.4px;color:#ececec;letter-spacing:-0.222px;">Strikes/min</span>
<div class="btn" style="left:931px;top:64px;width:80px;height:14px;background:#606060"></div>
<span class="t c" style="left:942.40px;top:66.00px;font-size:12.4px;color:#ececec;letter-spacing:0.280px;">Close/min</span>
<div class="btn" style="left:1041px;top:64px;width:80px;height:14px;background:#606060"></div>
<span class="t c" style="left:1049.70px;top:66.00px;font-size:12.4px;color:#ececec;letter-spacing:0.265px;">Noises/min</span>
<span class="t n b" style="left:884.16px;top:89.00px;font-size:27.5px;color:#ffffff;">0</span>
<span class="t n b" style="left:994.16px;top:89.00px;font-size:27.5px;color:#ffffff;">0</span>
<span class="t n b" style="left:1104.16px;top:89.00px;font-size:27.5px;color:#c0c0c0;">0</span>
<span class="t n" style="left:825.60px;top:133.00px;font-size:12.4px;color:#ffffff;letter-spacing:0.246px;">Total Strikes</span>
<span class="t n" style="left:872.10px;top:151.00px;font-size:12.4px;color:#ffffff;letter-spacing:-0.049px;">1270</span>
<span class="t n" style="left:944.10px;top:133.00px;font-size:12.4px;color:#ffffff;letter-spacing:0.276px;">Total Close</span>
<span class="t n" style="left:1005.61px;top:151.00px;font-size:12.4px;color:#ffffff;">0</span>
<span class="t n" style="left:1046.10px;top:133.00px;font-size:12.4px;color:#c8c8c8;letter-spacing:0.336px;">Total Noises</span>
<span class="t n" style="left:1107.60px;top:151.00px;font-size:12.4px;color:#ffffff;letter-spacing:0.119px;">88</span>
<span class="t n" style="left:820.60px;top:205.00px;font-size:12.4px;color:#c8c8c8;letter-spacing:0.088px;">Lightning type distribution</span>
<div class="rule" style="left:821px;top:217px;width:303px"></div>
<span class="t c b" style="left:820.60px;top:227.00px;font-size:12.4px;color:#ffffff;letter-spacing:0.063px;">Cloud-ground</span>
<span class="t n" style="left:912.40px;top:227.00px;font-size:12.4px;color:#e0e0e0;">+</span>
<div class="bar" style="left:925px;top:227px"><i style="width:8px;background:#ff0000"></i></div>
<span class="t n b" style="left:978.90px;top:227.00px;font-size:12.4px;color:#ffffff;letter-spacing:0.364px;">17%</span>
<div class="dash" style="left:1016px;top:231px"></div>
<div class="bar" style="left:1028px;top:227px"><i style="width:8px;background:#99ccff"></i></div>
<span class="t n b" style="left:1082.00px;top:227.00px;font-size:12.4px;color:#ffffff;letter-spacing:0.614px;">16%</span>
<span class="t n b" style="left:820.60px;top:251.00px;font-size:12.4px;color:#c0c0c0;letter-spacing:-0.443px;">Count</span>
<span class="t n b" style="left:925.00px;top:251.00px;font-size:12.4px;color:#ffffff;letter-spacing:-0.488px;">212</span>
<span class="t n b" style="left:1028.00px;top:251.00px;font-size:12.4px;color:#ffffff;letter-spacing:-0.488px;">197</span>
<span class="t c b" style="left:820.60px;top:281.00px;font-size:12.4px;color:#ffffff;letter-spacing:0.107px;">Intracloud</span>
<span class="t n" style="left:912.40px;top:281.00px;font-size:12.4px;color:#e0e0e0;">+</span>
<div class="bar" style="left:925px;top:281px"><i style="width:6px;background:#f060b0"></i></div>
<span class="t n b" style="left:978.90px;top:281.00px;font-size:12.4px;color:#ffffff;letter-spacing:0.364px;">12%</span>
<div class="dash" style="left:1016px;top:285px"></div>
<div class="bar" style="left:1028px;top:281px"><i style="width:27px;background:#00ff00"></i></div>
<span class="t n b" style="left:1082.00px;top:281.00px;font-size:12.4px;color:#ffffff;letter-spacing:0.614px;">56%</span>
<span class="t n b" style="left:820.60px;top:305.00px;font-size:12.4px;color:#c0c0c0;letter-spacing:-0.443px;">Count</span>
<span class="t n b" style="left:925.00px;top:305.00px;font-size:12.4px;color:#ffffff;letter-spacing:-0.488px;">154</span>
<span class="t n b" style="left:1028.00px;top:305.00px;font-size:12.4px;color:#ffffff;letter-spacing:-0.488px;">707</span>
<span class="t n b" style="left:821.70px;top:340.00px;font-size:16.5px;color:#00ff00;letter-spacing:-0.014px;">12/13/2025 5:09:59 AM</span>
<div class="rule" style="left:821px;top:358px;width:302px"></div>
<span class="t n" style="left:820.90px;top:378.00px;font-size:12.4px;color:#ffffff;letter-spacing:0.179px;">Squelch</span>
<span class="t n" style="left:908.90px;top:378.00px;font-size:12.4px;color:#ffffff;">0</span>
<span class="t n" style="left:981.00px;top:378.00px;font-size:12.4px;color:#ffffff;letter-spacing:0.296px;">Upload</span>
<span class="t n" style="left:1060.80px;top:378.00px;font-size:12.4px;color:#c8c8c8;letter-spacing:0.082px;">Disabled</span>
<span class="t n" style="left:820.90px;top:398.00px;font-size:12.4px;color:#ffffff;letter-spacing:0.303px;">Persistence</span>
<span class="t n" style="left:908.90px;top:398.00px;font-size:12.4px;color:#ffffff;letter-spacing:-0.036px;">90 min</span>
<span class="t n" style="left:981.00px;top:398.00px;font-size:12.4px;color:#ffffff;letter-spacing:0.436px;">Capture</span>
<span class="t n" style="left:1060.80px;top:398.00px;font-size:12.4px;color:#00e800;letter-spacing:-0.086px;">Active</span>
<span class="t n" style="left:820.90px;top:418.00px;font-size:12.4px;color:#ffffff;letter-spacing:0.405px;">Range</span>
<span class="t n" style="left:908.90px;top:418.00px;font-size:12.4px;color:#ffffff;letter-spacing:-0.042px;">313 mi</span>
<span class="t n" style="left:981.00px;top:418.00px;font-size:12.4px;color:#ffffff;letter-spacing:0.042px;">Receiver</span>
<span class="t n" style="left:1060.80px;top:418.00px;font-size:12.4px;color:#00e800;letter-spacing:0.304px;">Enabled</span>
<span class="t n" style="left:820.90px;top:465.00px;font-size:12.4px;color:#c8c8c8;letter-spacing:-0.008px;">Uptime</span>
<span class="t n" style="left:908.90px;top:465.00px;font-size:12.4px;color:#ffffff;letter-spacing:0.361px;">373:30</span>
<span class="t n" style="left:981.00px;top:465.00px;font-size:12.4px;color:#c8c8c8;letter-spacing:0.193px;">Peak time</span>
<span class="t n" style="left:1060.80px;top:465.00px;font-size:12.4px;color:#c8c8c8;letter-spacing:0.680px;">Plot</span>
<span class="t n" style="left:820.90px;top:488.00px;font-size:12.4px;color:#c8c8c8;letter-spacing:0.421px;">Peak rate</span>
<span class="t n" style="left:909.40px;top:488.00px;font-size:12.4px;color:#ffffff;letter-spacing:-0.083px;">17/min</span>
<span class="t n" style="left:981.00px;top:488.00px;font-size:12.4px;color:#ffffff;letter-spacing:0.160px;">3:02 AM</span>
<span class="t n" style="left:1060.80px;top:488.00px;font-size:12.4px;color:#ffffff;letter-spacing:0.355px;">Strike</span>
<span class="t n" style="left:821.70px;top:518.00px;font-size:12.4px;color:#c8c8c8;letter-spacing:0.328px;">Trend graph</span>
<span class="t n" style="left:908.10px;top:518.00px;font-size:12.4px;color:#ffffff;letter-spacing:-0.136px;">60 min</span>
<svg class="chart" width="300" height="260" viewBox="815 540 300 260" shape-rendering="crispEdges"><path d="M822.5,754.5 L823.5,761.5 L825.5,769.5 L827.5,769.5 L829.5,777.5 L831.5,769.5 L833.5,769.5 L835.5,777.5 L837.5,769.5 L839.5,769.5 L841.5,769.5 L843.5,777.5 L845.5,769.5 L848.5,777.5 L850.5,761.5 L852.5,761.5 L854.5,769.5 L856.5,761.5 L858.5,761.5 L861.5,761.5 L862.5,777.5 L872.5,777.5 L874.5,769.5 L877.5,769.5 L879.5,761.5 L881.5,769.5 L883.5,777.5 L885.5,769.5 L887.5,761.5 L890.5,769.5 L892.5,769.5 L895.5,777.5 L897.5,769.5 L899.5,761.5 L901.5,769.5 L903.5,761.5 L905.5,761.5 L907.5,777.5 L908.5,769.5 L909.5,769.5 L911.5,777.5 L913.5,777.5 L915.5,769.5 L916.5,769.5 L917.5,769.5 L918.5,777.5 L931.5,777.5 L933.5,769.5 L934.5,761.5 L937.5,761.5 L938.5,769.5 L941.5,769.5 L943.5,777.5 L945.5,769.5 L947.5,761.5 L949.5,761.5 L951.5,761.5 L953.5,769.5 L958.5,769.5 L959.5,777.5 L963.5,777.5 L965.5,769.5 L967.5,777.5 L974.5,777.5 L975.5,769.5 L979.5,769.5 L981.5,777.5 L983.5,769.5 L985.5,777.5 L994.5,777.5 L995.5,769.5 L998.5,769.5 L999.5,769.5 L1000.5,777.5 L1015.5,777.5 L1016.5,769.5 L1017.5,777.5 L1021.5,777.5 L1023.5,769.5 L1031.5,769.5 L1032.5,777.5 L1045.5,777.5 L1047.5,769.5 L1048.5,777.5 L1050.5,769.5 L1055.5,769.5 L1056.5,777.5 L1063.5,777.5 L1064.5,769.5 L1067.5,761.5 L1068.5,769.5 L1070.5,769.5 L1071.5,777.5 L1073.5,769.5 L1076.5,761.5 L1077.5,769.5 L1079.5,769.5 L1081.5,777.5 L1083.5,769.5 L1085.5,769.5 L1087.5,777.5 L1088.5,777.5" fill="none" stroke="#ff69b4" stroke-width="1"/><path d="M822.5,777.5 L824.5,769.5 L826.5,769.5 L828.5,777.5 L833.5,777.5 L835.5,769.5 L837.5,769.5 L840.5,761.5 L842.5,761.5 L844.5,769.5 L846.5,777.5 L848.5,769.5 L850.5,769.5 L852.5,777.5 L854.5,761.5 L856.5,769.5 L859.5,777.5 L871.5,777.5 L873.5,761.5 L875.5,754.5 L877.5,746.5 L879.5,754.5 L880.5,769.5 L883.5,769.5 L884.5,777.5 L885.5,777.5 L887.5,769.5 L892.5,769.5 L893.5,777.5 L897.5,777.5 L899.5,769.5 L901.5,761.5 L903.5,761.5 L904.5,769.5 L906.5,777.5 L908.5,777.5 L909.5,769.5 L910.5,769.5 L911.5,777.5 L913.5,777.5 L915.5,777.5 L918.5,761.5 L921.5,761.5 L922.5,769.5 L925.5,769.5 L927.5,777.5 L931.5,777.5 L933.5,769.5 L935.5,761.5 L937.5,761.5 L939.5,777.5 L943.5,777.5 L945.5,761.5 L947.5,761.5 L950.5,754.5 L957.5,754.5 L957.5,761.5 L959.5,769.5 L961.5,769.5 L963.5,777.5 L966.5,777.5 L968.5,769.5 L974.5,769.5 L975.5,777.5 L978.5,777.5 L979.5,769.5 L983.5,769.5 L985.5,777.5 L998.5,769.5 L999.5,777.5 L1001.5,777.5 L1003.5,769.5 L1006.5,769.5 L1009.5,777.5 L1011.5,761.5 L1013.5,761.5 L1015.5,769.5 L1016.5,777.5 L1036.5,777.5 L1039.5,769.5 L1041.5,769.5 L1043.5,777.5 L1046.5,777.5 L1047.5,769.5 L1049.5,777.5 L1051.5,777.5 L1052.5,769.5 L1055.5,769.5 L1056.5,777.5 L1059.5,777.5 L1061.5,769.5 L1063.5,769.5 L1064.5,761.5 L1067.5,761.5 L1068.5,769.5 L1070.5,777.5 L1072.5,769.5 L1074.5,777.5 L1080.5,777.5 L1081.5,769.5 L1084.5,769.5 L1085.5,777.5 L1088.5,777.5" fill="none" stroke="#99ccff" stroke-width="1"/><path d="M822.5,777.5 L824.5,761.5 L826.5,761.5 L827.5,769.5 L829.5,777.5 L836.5,777.5 L837.5,769.5 L839.5,761.5 L841.5,769.5 L844.5,777.5 L852.5,777.5 L853.5,769.5 L855.5,761.5 L857.5,761.5 L859.5,777.5 L865.5,777.5 L867.5,769.5 L870.5,769.5 L871.5,777.5 L887.5,777.5 L889.5,769.5 L892.5,777.5 L894.5,769.5 L896.5,777.5 L901.5,777.5 L903.5,769.5 L905.5,769.5 L907.5,777.5 L908.5,777.5 L909.5,777.5 L911.5,769.5 L911.5,769.5 L912.5,761.5 L915.5,761.5 L916.5,769.5 L918.5,769.5 L921.5,769.5 L923.5,761.5 L926.5,761.5 L928.5,769.5 L930.5,777.5 L933.5,769.5 L935.5,754.5 L936.5,746.5 L937.5,748.5 L939.5,758.5 L941.5,746.5 L945.5,746.5 L946.5,754.5 L947.5,761.5 L949.5,769.5 L951.5,777.5 L953.5,761.5 L955.5,754.5 L957.5,769.5 L959.5,777.5 L963.5,777.5 L966.5,769.5 L970.5,769.5 L971.5,761.5 L973.5,761.5 L975.5,769.5 L977.5,769.5 L978.5,777.5 L980.5,769.5 L982.5,777.5 L985.5,769.5 L987.5,769.5 L989.5,777.5 L1004.5,777.5 L1006.5,769.5 L1008.5,761.5 L1010.5,761.5 L1011.5,769.5 L1014.5,769.5 L1015.5,777.5 L1021.5,777.5 L1022.5,769.5 L1025.5,769.5 L1026.5,777.5 L1028.5,769.5 L1032.5,769.5 L1033.5,777.5 L1035.5,769.5 L1037.5,761.5 L1037.5,769.5 L1040.5,769.5 L1041.5,777.5 L1061.5,777.5 L1064.5,769.5 L1065.5,761.5 L1067.5,769.5 L1070.5,769.5 L1072.5,777.5 L1075.5,769.5 L1077.5,761.5 L1079.5,754.5 L1080.5,758.5 L1081.5,765.5 L1083.5,769.5 L1085.5,769.5 L1086.5,761.5 L1088.5,761.5" fill="none" stroke="#ff0000" stroke-width="1"/><path d="M822.5,761.5 L823.5,773.5 L825.5,754.5 L827.5,758.5 L829.5,769.5 L831.5,754.5 L833.5,751.5 L835.5,738.5 L838.5,738.5 L839.5,754.5 L841.5,769.5 L842.5,761.5 L845.5,761.5 L847.5,746.5 L849.5,754.5 L851.5,769.5 L852.5,777.5 L854.5,769.5 L857.5,769.5 L860.5,750.5 L862.5,752.5 L863.5,746.5 L867.5,746.5 L869.5,747.5 L871.5,754.5 L873.5,750.5 L874.5,742.5 L876.5,738.5 L877.5,754.5 L879.5,761.5 L881.5,746.5 L883.5,738.5 L884.5,750.5 L885.5,760.5 L887.5,769.5 L889.5,760.5 L891.5,754.5 L893.5,761.5 L895.5,765.5 L896.5,769.5 L897.5,754.5 L899.5,730.5 L901.5,734.5 L903.5,754.5 L905.5,769.5 L906.5,761.5 L908.5,761.5 L909.5,738.5 L909.5,715.5 L911.5,707.5 L912.5,691.5 L913.5,699.5 L914.5,730.5 L915.5,738.5 L917.5,746.5 L917.5,761.5 L919.5,769.5 L921.5,754.5 L923.5,746.5 L925.5,746.5 L927.5,754.5 L929.5,758.5 L931.5,761.5 L933.5,746.5 L935.5,730.5 L936.5,738.5 L937.5,754.5 L939.5,769.5 L941.5,761.5 L943.5,761.5 L945.5,761.5 L947.5,765.5 L949.5,754.5 L951.5,754.5 L953.5,761.5 L955.5,761.5 L957.5,769.5 L961.5,769.5 L965.5,769.5 L966.5,777.5 L968.5,761.5 L971.5,761.5 L972.5,769.5 L974.5,761.5 L976.5,765.5 L978.5,777.5 L979.5,761.5 L981.5,742.5 L982.5,738.5 L983.5,746.5 L985.5,761.5 L986.5,773.5 L987.5,761.5 L989.5,761.5 L990.5,777.5 L994.5,761.5 L996.5,742.5 L998.5,746.5 L999.5,754.5 L1000.5,777.5 L1002.5,765.5 L1005.5,765.5 L1006.5,754.5 L1007.5,754.5 L1008.5,769.5 L1011.5,769.5 L1013.5,773.5 L1014.5,777.5 L1017.5,761.5 L1019.5,754.5 L1021.5,746.5 L1022.5,738.5 L1023.5,742.5 L1025.5,754.5 L1026.5,758.5 L1027.5,761.5 L1029.5,765.5 L1031.5,772.5 L1033.5,777.5 L1035.5,769.5 L1036.5,761.5 L1040.5,761.5 L1041.5,769.5 L1043.5,777.5 L1047.5,769.5 L1049.5,769.5 L1051.5,777.5 L1053.5,769.5 L1056.5,769.5 L1057.5,761.5 L1059.5,754.5 L1061.5,750.5 L1063.5,754.5 L1064.5,761.5 L1065.5,761.5 L1069.5,761.5 L1070.5,765.5 L1072.5,769.5 L1074.5,754.5 L1076.5,738.5 L1077.5,730.5 L1078.5,722.5 L1079.5,734.5 L1081.5,746.5 L1082.5,754.5 L1083.5,761.5 L1085.5,765.5 L1086.5,761.5 L1087.5,769.5" fill="none" stroke="#00ff00" stroke-width="1"/><path d="M822.5,730.5 L825.5,722.5 L827.5,738.5 L829.5,757.5 L830.5,761.5 L833.5,746.5 L835.5,722.5 L837.5,715.5 L839.5,722.5 L841.5,746.5 L841.5,730.5 L845.5,754.5 L847.5,730.5 L849.5,736.5 L850.5,730.5 L852.5,746.5 L853.5,722.5 L855.5,736.5 L857.5,738.5 L859.5,744.5 L861.5,730.5 L863.5,746.5 L865.5,744.5 L867.5,738.5 L870.5,746.5 L872.5,740.5 L874.5,717.5 L876.5,699.5 L877.5,711.5 L879.5,699.5 L880.5,717.5 L881.5,734.5 L882.5,722.5 L884.5,740.5 L886.5,736.5 L889.5,730.5 L891.5,742.5 L893.5,758.5 L895.5,761.5 L897.5,754.5 L899.5,730.5 L900.5,707.5 L902.5,707.5 L903.5,738.5 L905.5,746.5 L907.5,742.5 L908.5,715.5 L909.5,691.5 L911.5,699.5 L912.5,676.5 L913.5,691.5 L914.5,715.5 L915.5,730.5 L917.5,746.5 L918.5,740.5 L919.5,746.5 L921.5,734.5 L923.5,722.5 L925.5,722.5 L927.5,734.5 L928.5,746.5 L929.5,754.5 L931.5,758.5 L932.5,738.5 L933.5,715.5 L935.5,676.5 L936.5,683.5 L937.5,695.5 L939.5,711.5 L940.5,730.5 L941.5,715.5 L943.5,719.5 L944.5,715.5 L945.5,722.5 L947.5,738.5 L948.5,722.5 L950.5,715.5 L951.5,721.5 L953.5,721.5 L955.5,707.5 L956.5,707.5 L957.5,722.5 L958.5,734.5 L959.5,750.5 L961.5,761.5 L963.5,761.5 L965.5,769.5 L966.5,765.5 L968.5,746.5 L969.5,750.5 L971.5,746.5 L972.5,738.5 L973.5,730.5 L975.5,715.5 L976.5,730.5 L977.5,746.5 L979.5,738.5 L980.5,726.5 L981.5,722.5 L983.5,730.5 L984.5,738.5 L986.5,754.5 L987.5,746.5 L989.5,746.5 L990.5,758.5 L992.5,777.5 L993.5,761.5 L995.5,746.5 L996.5,730.5 L997.5,742.5 L999.5,746.5 L1000.5,765.5 L1002.5,761.5 L1004.5,758.5 L1005.5,750.5 L1007.5,746.5 L1008.5,754.5 L1009.5,752.5 L1011.5,746.5 L1013.5,746.5 L1014.5,754.5 L1015.5,759.5 L1017.5,761.5 L1019.5,754.5 L1020.5,746.5 L1021.5,738.5 L1023.5,730.5 L1024.5,730.5 L1025.5,742.5 L1027.5,758.5 L1028.5,754.5 L1029.5,758.5 L1031.5,761.5 L1033.5,765.5 L1034.5,773.5 L1035.5,758.5 L1036.5,746.5 L1039.5,746.5 L1040.5,754.5 L1041.5,765.5 L1043.5,773.5 L1044.5,777.5 L1046.5,769.5 L1047.5,761.5 L1051.5,761.5 L1054.5,761.5 L1056.5,758.5 L1057.5,754.5 L1059.5,754.5 L1060.5,746.5 L1061.5,738.5 L1063.5,736.5 L1065.5,734.5 L1066.5,730.5 L1067.5,742.5 L1069.5,754.5 L1070.5,761.5 L1071.5,765.5 L1073.5,758.5 L1074.5,754.5 L1075.5,734.5 L1076.5,711.5 L1077.5,703.5 L1078.5,699.5 L1079.5,699.5 L1080.5,715.5 L1081.5,730.5 L1083.5,738.5 L1084.5,744.5 L1085.5,738.5 L1086.5,738.5 L1087.5,758.5" fill="none" stroke="#ffffff" stroke-width="1"/><path d="M822.5,777.5H1088.5V542.5M822.5,777.5v3M866.5,777.5v3M911.5,777.5v3M955.5,777.5v3M999.5,777.5v3M1044.5,777.5v3M1088.5,777.5v3M1088.5,777.5h-5M1088.5,738.5h-3M1088.5,699.5h-5M1088.5,660.5h-3M1088.5,621.5h-5M1088.5,582.5h-3M1088.5,543.5h-5" fill="none" stroke="#c8c8c8" stroke-width="1"/></svg>
<span class="t n" style="left:1091.90px;top:538.00px;font-size:11px;color:#d8d8d8;letter-spacing:0.400px;">30</span>
<span class="t n" style="left:1091.90px;top:616.00px;font-size:11px;color:#d8d8d8;letter-spacing:0.400px;">20</span>
<span class="t n" style="left:1091.90px;top:695.00px;font-size:11px;color:#d8d8d8;letter-spacing:0.400px;">10</span>
<span class="t n" style="left:819.90px;top:784.00px;font-size:11px;color:#d8d8d8;letter-spacing:0.400px;">60</span>
<span class="t n" style="left:864.23px;top:784.00px;font-size:11px;color:#d8d8d8;letter-spacing:0.400px;">50</span>
<span class="t n" style="left:908.56px;top:784.00px;font-size:11px;color:#d8d8d8;letter-spacing:0.400px;">40</span>
<span class="t n" style="left:952.89px;top:784.00px;font-size:11px;color:#d8d8d8;letter-spacing:0.400px;">30</span>
<span class="t n" style="left:997.22px;top:784.00px;font-size:11px;color:#d8d8d8;letter-spacing:0.400px;">20</span>
<span class="t n" style="left:1041.55px;top:784.00px;font-size:11px;color:#d8d8d8;letter-spacing:0.400px;">10</span>
<span class="t n" style="left:1087.10px;top:784.00px;font-size:11px;color:#d8d8d8;">0</span>
<span class="t c" style="left:1099.70px;top:784.00px;font-size:11px;color:#d8d8d8;letter-spacing:0.114px;">min</span>
</body></html>
